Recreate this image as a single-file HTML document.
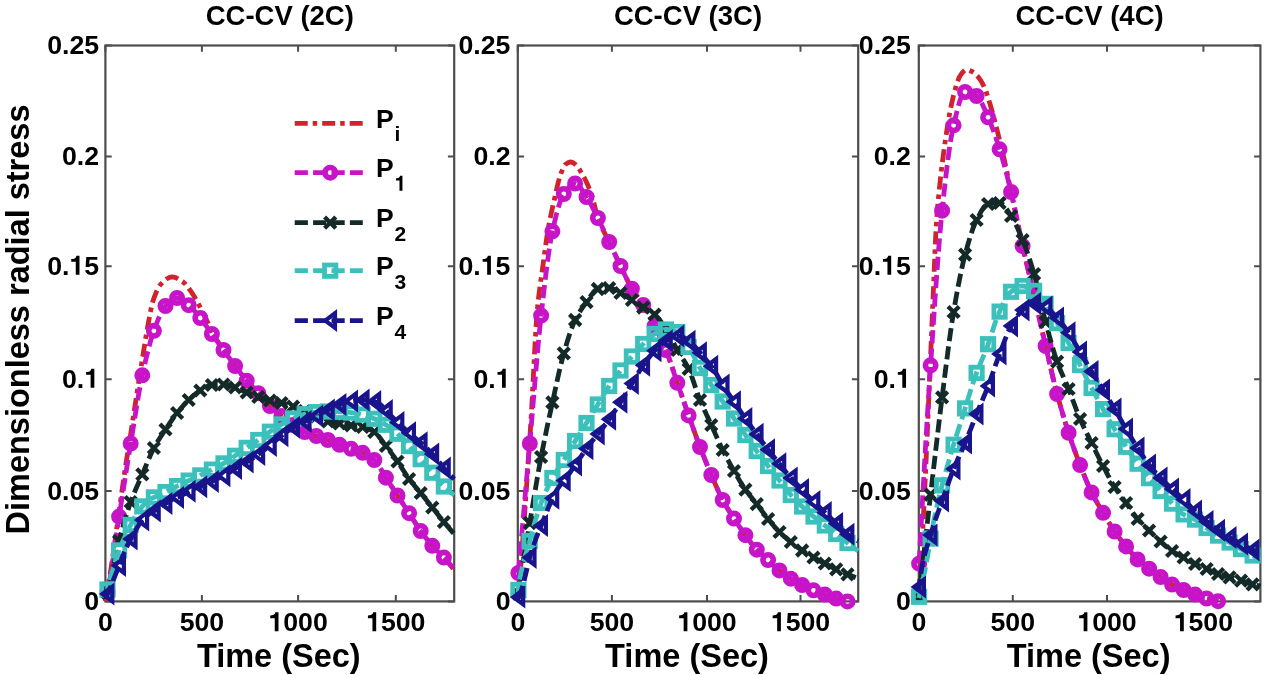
<!DOCTYPE html>
<html><head><meta charset="utf-8"><title>Dimensionless radial stress</title>
<style>
html,body{margin:0;padding:0;background:#fff;width:1280px;height:675px;overflow:hidden}
svg{display:block;filter:blur(0.7px)}
text{font-family:"Liberation Sans", sans-serif;font-weight:bold;fill:#000}
.tk{font-size:26.7px}
.tt{font-size:27.5px}
.xl{font-size:32.5px}
.yl{font-size:32.5px}
.lg{font-size:26.5px}
.sb{font-size:21px}
</style></head><body>
<svg width="1280" height="675" viewBox="0 0 1280 675">
<rect width="1280" height="675" fill="#fff"/>
<rect x="105.4" y="45.5" width="348.8" height="555.9" fill="none" stroke="#4d4d4d" stroke-width="2.2"/>
<path d="M105.4 601.4V595.1M105.4 45.5V51.8" stroke="#4d4d4d" stroke-width="2"/>
<text x="97.98" y="631.20" class="tk">0</text>
<path d="M201.9 601.4V595.1M201.9 45.5V51.8" stroke="#4d4d4d" stroke-width="2"/>
<text x="179.63" y="631.20" class="tk">500</text>
<path d="M298.1 601.4V595.1M298.1 45.5V51.8" stroke="#4d4d4d" stroke-width="2"/>
<text x="268.40" y="631.20" class="tk"> 000</text><polygon points="274.76,631.20 278.49,631.20 278.49,612.24 275.45,612.24 274.94,613.71 273.74,614.78 272.01,615.31 270.24,615.45 270.24,618.25 274.76,618.25" fill="#000"/>
<path d="M395.8 601.4V595.1M395.8 45.5V51.8" stroke="#4d4d4d" stroke-width="2"/>
<text x="366.10" y="631.20" class="tk"> 500</text><polygon points="372.46,631.20 376.19,631.20 376.19,612.24 373.15,612.24 372.64,613.71 371.44,614.78 369.71,615.31 367.94,615.45 367.94,618.25 372.46,618.25" fill="#000"/>
<path d="M105.4 601.4H111.7M454.2 601.4H447.9" stroke="#4d4d4d" stroke-width="2"/>
<text x="84.25" y="609.90" class="tk">0</text>
<path d="M105.4 491.0H111.7M454.2 491.0H447.9" stroke="#4d4d4d" stroke-width="2"/>
<text x="47.13" y="499.50" class="tk">0.05</text>
<path d="M105.4 379.3H111.7M454.2 379.3H447.9" stroke="#4d4d4d" stroke-width="2"/>
<text x="61.98" y="387.80" class="tk">0. </text><polygon points="90.61,387.80 94.34,387.80 94.34,368.84 91.30,368.84 90.79,370.31 89.59,371.38 87.86,371.91 86.09,372.05 86.09,374.85 90.61,374.85" fill="#000"/>
<path d="M105.4 266.3H111.7M454.2 266.3H447.9" stroke="#4d4d4d" stroke-width="2"/>
<text x="47.13" y="274.80" class="tk">0. 5</text><polygon points="75.76,274.80 79.49,274.80 79.49,255.84 76.45,255.84 75.94,257.31 74.74,258.38 73.01,258.91 71.24,259.05 71.24,261.85 75.76,261.85" fill="#000"/>
<path d="M105.4 156.5H111.7M454.2 156.5H447.9" stroke="#4d4d4d" stroke-width="2"/>
<text x="61.98" y="165.00" class="tk">0.2</text>
<path d="M105.4 45.5H111.7M454.2 45.5H447.9" stroke="#4d4d4d" stroke-width="2"/>
<text x="47.13" y="54.00" class="tk">0.25</text>
<text x="279.8" y="25.2" text-anchor="middle" class="tt">CC-CV (2C)</text>
<text x="278.8" y="667.3" text-anchor="middle" class="xl">Time (Sec)</text>
<rect x="517.8" y="45.5" width="340.4" height="555.9" fill="none" stroke="#4d4d4d" stroke-width="2.2"/>
<path d="M517.8 601.4V595.1M517.8 45.5V51.8" stroke="#4d4d4d" stroke-width="2"/>
<text x="510.38" y="631.20" class="tk">0</text>
<path d="M611.9 601.4V595.1M611.9 45.5V51.8" stroke="#4d4d4d" stroke-width="2"/>
<text x="589.63" y="631.20" class="tk">500</text>
<path d="M707.0 601.4V595.1M707.0 45.5V51.8" stroke="#4d4d4d" stroke-width="2"/>
<text x="677.30" y="631.20" class="tk"> 000</text><polygon points="683.66,631.20 687.39,631.20 687.39,612.24 684.35,612.24 683.84,613.71 682.64,614.78 680.91,615.31 679.14,615.45 679.14,618.25 683.66,618.25" fill="#000"/>
<path d="M800.5 601.4V595.1M800.5 45.5V51.8" stroke="#4d4d4d" stroke-width="2"/>
<text x="770.80" y="631.20" class="tk"> 500</text><polygon points="777.16,631.20 780.89,631.20 780.89,612.24 777.85,612.24 777.34,613.71 776.14,614.78 774.41,615.31 772.64,615.45 772.64,618.25 777.16,618.25" fill="#000"/>
<path d="M517.8 601.4H524.1M858.2 601.4H851.9" stroke="#4d4d4d" stroke-width="2"/>
<text x="495.65" y="609.90" class="tk">0</text>
<path d="M517.8 491.0H524.1M858.2 491.0H851.9" stroke="#4d4d4d" stroke-width="2"/>
<text x="458.53" y="499.50" class="tk">0.05</text>
<path d="M517.8 379.3H524.1M858.2 379.3H851.9" stroke="#4d4d4d" stroke-width="2"/>
<text x="473.38" y="387.80" class="tk">0. </text><polygon points="502.01,387.80 505.74,387.80 505.74,368.84 502.70,368.84 502.19,370.31 500.99,371.38 499.26,371.91 497.49,372.05 497.49,374.85 502.01,374.85" fill="#000"/>
<path d="M517.8 266.3H524.1M858.2 266.3H851.9" stroke="#4d4d4d" stroke-width="2"/>
<text x="458.53" y="274.80" class="tk">0. 5</text><polygon points="487.16,274.80 490.89,274.80 490.89,255.84 487.85,255.84 487.34,257.31 486.14,258.38 484.41,258.91 482.64,259.05 482.64,261.85 487.16,261.85" fill="#000"/>
<path d="M517.8 156.5H524.1M858.2 156.5H851.9" stroke="#4d4d4d" stroke-width="2"/>
<text x="473.38" y="165.00" class="tk">0.2</text>
<path d="M517.8 45.5H524.1M858.2 45.5H851.9" stroke="#4d4d4d" stroke-width="2"/>
<text x="458.53" y="54.00" class="tk">0.25</text>
<text x="688.0" y="25.2" text-anchor="middle" class="tt">CC-CV (3C)</text>
<text x="687.0" y="667.3" text-anchor="middle" class="xl">Time (Sec)</text>
<rect x="918.8" y="45.5" width="341.6" height="555.9" fill="none" stroke="#4d4d4d" stroke-width="2.2"/>
<path d="M918.8 601.4V595.1M918.8 45.5V51.8" stroke="#4d4d4d" stroke-width="2"/>
<text x="911.38" y="631.20" class="tk">0</text>
<path d="M1012.8 601.4V595.1M1012.8 45.5V51.8" stroke="#4d4d4d" stroke-width="2"/>
<text x="990.53" y="631.20" class="tk">500</text>
<path d="M1107.0 601.4V595.1M1107.0 45.5V51.8" stroke="#4d4d4d" stroke-width="2"/>
<text x="1077.30" y="631.20" class="tk"> 000</text><polygon points="1083.66,631.20 1087.39,631.20 1087.39,612.24 1084.35,612.24 1083.84,613.71 1082.64,614.78 1080.91,615.31 1079.14,615.45 1079.14,618.25 1083.66,618.25" fill="#000"/>
<path d="M1203.4 601.4V595.1M1203.4 45.5V51.8" stroke="#4d4d4d" stroke-width="2"/>
<text x="1173.70" y="631.20" class="tk"> 500</text><polygon points="1180.06,631.20 1183.79,631.20 1183.79,612.24 1180.75,612.24 1180.24,613.71 1179.04,614.78 1177.31,615.31 1175.54,615.45 1175.54,618.25 1180.06,618.25" fill="#000"/>
<path d="M918.8 601.4H925.1M1260.4 601.4H1254.1" stroke="#4d4d4d" stroke-width="2"/>
<text x="895.95" y="609.90" class="tk">0</text>
<path d="M918.8 491.0H925.1M1260.4 491.0H1254.1" stroke="#4d4d4d" stroke-width="2"/>
<text x="858.83" y="499.50" class="tk">0.05</text>
<path d="M918.8 379.3H925.1M1260.4 379.3H1254.1" stroke="#4d4d4d" stroke-width="2"/>
<text x="873.68" y="387.80" class="tk">0. </text><polygon points="902.31,387.80 906.04,387.80 906.04,368.84 903.00,368.84 902.49,370.31 901.29,371.38 899.56,371.91 897.79,372.05 897.79,374.85 902.31,374.85" fill="#000"/>
<path d="M918.8 266.3H925.1M1260.4 266.3H1254.1" stroke="#4d4d4d" stroke-width="2"/>
<text x="858.83" y="274.80" class="tk">0. 5</text><polygon points="887.46,274.80 891.19,274.80 891.19,255.84 888.15,255.84 887.64,257.31 886.44,258.38 884.71,258.91 882.94,259.05 882.94,261.85 887.46,261.85" fill="#000"/>
<path d="M918.8 156.5H925.1M1260.4 156.5H1254.1" stroke="#4d4d4d" stroke-width="2"/>
<text x="873.68" y="165.00" class="tk">0.2</text>
<path d="M918.8 45.5H925.1M1260.4 45.5H1254.1" stroke="#4d4d4d" stroke-width="2"/>
<text x="858.83" y="54.00" class="tk">0.25</text>
<text x="1089.6" y="25.2" text-anchor="middle" class="tt">CC-CV (4C)</text>
<text x="1088.6" y="667.3" text-anchor="middle" class="xl">Time (Sec)</text>
<path d="M105.4 601.4L105.9 598.7L106.4 596.0L106.9 593.2L107.4 590.4L107.9 587.6L108.4 584.7L108.9 581.7L109.4 578.7L109.9 575.6L110.4 572.5L110.9 569.3L111.4 566.0L111.9 562.6L112.4 559.2L112.9 555.7L113.4 552.2L113.9 548.7L114.4 545.1L114.9 541.5L115.4 537.9L115.9 534.2L116.4 530.6L116.9 527.0L117.4 523.4L117.9 519.8L118.4 516.2L118.9 512.7L119.4 509.2L119.9 505.7L120.4 502.1L120.9 498.6L121.4 495.0L121.9 491.4L122.4 487.9L122.9 484.4L123.4 480.9L123.9 477.4L124.4 474.0L124.9 470.7L125.4 467.4L125.9 464.1L126.4 460.9L126.9 457.7L127.4 454.6L127.9 451.4L128.4 448.3L128.9 445.2L129.4 442.1L129.9 439.0L130.4 435.8L130.9 432.6L131.4 429.4L131.9 426.2L132.4 422.9L132.9 419.7L133.4 416.4L133.9 413.2L134.4 409.9L134.9 406.6L135.4 403.4L135.9 400.1L136.4 396.9L136.9 393.6L137.4 390.4L137.9 387.2L138.4 384.0L138.9 380.8L139.4 377.6L139.9 374.4L140.4 371.3L140.9 368.1L141.4 365.0L141.9 361.8L142.4 358.7L142.9 355.6L143.4 352.5L143.9 349.4L144.4 346.3L144.9 343.2L145.4 340.1L145.9 337.0L146.4 334.1L146.9 331.1L147.4 328.3L147.9 325.5L148.4 322.8L148.9 320.1L149.4 317.4L149.9 314.7L150.4 312.1L150.9 309.6L151.4 307.2L151.9 305.0L152.4 303.0L152.9 301.3L153.4 299.8L153.9 298.3L154.4 296.9L154.9 295.6L155.4 294.3L155.9 293.0L156.4 291.8L156.9 290.7L157.4 289.6L157.9 288.6L158.4 287.7L158.9 286.8L159.4 286.0L159.9 285.3L160.4 284.7L160.9 284.1L161.4 283.6L161.9 283.1L162.4 282.6L162.9 282.1L163.4 281.7L163.9 281.2L164.4 280.8L164.9 280.3L165.4 279.9L165.9 279.6L166.4 279.2L166.9 278.8L167.4 278.5L167.9 278.2L168.4 278.0L168.9 277.7L169.4 277.5L169.9 277.3L170.4 277.2L170.9 277.1L171.4 277.0L171.9 277.0L172.4 277.0L172.9 277.0L173.4 277.1L173.9 277.2L174.4 277.3L174.9 277.5L175.4 277.6L175.9 277.8L176.4 278.0L176.9 278.3L177.4 278.5L177.9 278.8L178.4 279.1L178.9 279.3L179.4 279.6L179.9 280.0L180.4 280.3L180.9 280.6L181.4 280.9L181.9 281.3L182.4 281.6L182.9 281.9L183.4 282.3L183.9 282.7L184.4 283.1L184.9 283.6L185.4 284.1L185.9 284.7L186.4 285.3L186.9 285.9L187.4 286.5L187.9 287.2L188.4 287.8L188.9 288.5L189.4 289.2L189.9 290.0L190.4 290.7L190.9 291.4L191.4 292.1L191.9 292.9L192.4 293.6L192.9 294.3L193.4 295.1L193.9 295.9L194.4 296.8L194.9 297.6L195.4 298.5L195.9 299.3L196.4 300.2L196.9 301.1L197.4 302.1L197.9 303.0L198.4 303.9L198.9 304.8L199.4 305.7L199.9 306.7L200.4 307.7L200.9 308.6L201.4 309.6L201.9 310.6L202.4 311.6L202.9 312.6L203.4 313.7L203.9 314.7L204.4 315.7L204.9 316.7L205.4 317.8L205.9 318.8L206.4 319.8L206.9 320.8L207.4 321.8L207.9 322.8L208.4 323.9L208.9 324.9L209.4 325.9L209.9 327.0L210.4 328.0L210.9 329.1L211.4 330.1L211.9 331.1L212.4 332.1L212.9 333.1L213.4 334.1L213.9 335.0L214.4 335.9L214.9 336.8L215.4 337.7L215.9 338.5L216.4 339.4L216.9 340.2L217.4 341.0L217.9 341.7L218.4 342.5L218.9 343.3L219.4 344.0L219.9 344.8L220.4 345.5L220.9 346.2L221.4 347.0L221.9 347.7L222.4 348.4L222.9 349.1L223.4 349.9L223.9 350.6L224.4 351.3L224.9 352.0L225.4 352.7L225.9 353.4L226.4 354.2L226.9 354.9L227.4 355.6L227.9 356.3L228.4 357.0L228.9 357.6L229.4 358.3L229.9 359.0L230.4 359.7L230.9 360.4L231.4 361.1L231.9 361.7L232.4 362.4L232.9 363.1L233.4 363.7L233.9 364.4L234.4 365.1L234.9 365.7L235.4 366.4L235.9 367.1L236.4 367.7L236.9 368.4L237.4 369.0L237.9 369.7L238.4 370.3L238.9 371.0L239.4 371.6L239.9 372.3L240.4 372.9L240.9 373.6L241.4 374.2L241.9 374.8L242.4 375.5L242.9 376.1L243.4 376.7L243.9 377.3L244.4 378.0L244.9 378.6L245.4 379.2L245.9 379.8L246.4 380.3L246.9 380.9L247.4 381.5L247.9 382.1L248.4 382.6L248.9 383.2L249.4 383.7L249.9 384.3L250.4 384.8L250.9 385.4L251.4 385.9L251.9 386.4L252.4 387.0L252.9 387.5L253.4 388.0L253.9 388.5L254.4 389.1L254.9 389.6L255.4 390.1L255.9 390.6L256.4 391.2L256.9 391.7L257.4 392.2L257.9 392.8L258.4 393.3L258.9 393.9L259.4 394.4L259.9 395.0L260.4 395.5L260.9 396.1L261.4 396.7L261.9 397.3L262.4 397.8L262.9 398.4L263.4 399.0L263.9 399.5L264.4 400.1L264.9 400.7L265.4 401.2L265.9 401.8L266.4 402.4L266.9 402.9L267.4 403.4L267.9 404.0L268.4 404.5L268.9 405.0L269.4 405.5L269.9 406.0L270.4 406.5L270.9 407.0L271.4 407.4L271.9 407.9L272.4 408.3L272.9 408.8L273.4 409.2L273.9 409.7L274.4 410.1L274.9 410.5L275.4 411.0L275.9 411.4L276.4 411.8L276.9 412.2L277.4 412.6L277.9 413.1L278.4 413.5L278.9 413.9L279.4 414.3L279.9 414.7L280.4 415.1L280.9 415.5L281.4 415.9L281.9 416.3L282.4 416.7L282.9 417.1L283.4 417.6L283.9 418.0L284.4 418.4L284.9 418.8L285.4 419.2L285.9 419.6L286.4 420.0L286.9 420.4L287.4 420.8L287.9 421.2L288.4 421.6L288.9 421.9L289.4 422.3L289.9 422.7L290.4 423.1L290.9 423.4L291.4 423.8L291.9 424.2L292.4 424.5L292.9 424.9L293.4 425.2L293.9 425.5L294.4 425.9L294.9 426.2L295.4 426.6L295.9 426.9L296.4 427.2L296.9 427.6L297.4 427.9L297.9 428.2L298.4 428.5L298.9 428.8L299.4 429.2L299.9 429.5L300.4 429.8L300.9 430.1L301.4 430.3L301.9 430.6L302.4 430.9L302.9 431.1L303.4 431.4L303.9 431.6L304.4 431.9L304.9 432.1L305.4 432.3L305.9 432.5L306.4 432.7L306.9 432.9L307.4 433.1L307.9 433.3L308.4 433.4L308.9 433.6L309.4 433.8L309.9 433.9L310.4 434.1L310.9 434.3L311.4 434.4L311.9 434.6L312.4 434.7L312.9 434.9L313.4 435.1L313.9 435.2L314.4 435.4L314.9 435.5L315.4 435.7L315.9 435.9L316.4 436.0L316.9 436.2L317.4 436.4L317.9 436.5L318.4 436.7L318.9 436.9L319.4 437.0L319.9 437.2L320.4 437.4L320.9 437.6L321.4 437.7L321.9 437.9L322.4 438.1L322.9 438.2L323.4 438.4L323.9 438.6L324.4 438.7L324.9 438.9L325.4 439.1L325.9 439.3L326.4 439.4L326.9 439.6L327.4 439.8L327.9 440.0L328.4 440.2L328.9 440.4L329.4 440.6L329.9 440.8L330.4 441.0L330.9 441.2L331.4 441.4L331.9 441.6L332.4 441.8L332.9 442.1L333.4 442.3L333.9 442.5L334.4 442.7L334.9 442.9L335.4 443.1L335.9 443.3L336.4 443.6L336.9 443.8L337.4 444.0L337.9 444.2L338.4 444.4L338.9 444.6L339.4 444.8L339.9 444.9L340.4 445.1L340.9 445.3L341.4 445.5L341.9 445.7L342.4 445.9L342.9 446.0L343.4 446.2L343.9 446.4L344.4 446.5L344.9 446.7L345.4 446.9L345.9 447.0L346.4 447.2L346.9 447.4L347.4 447.5L347.9 447.7L348.4 447.9L348.9 448.1L349.4 448.2L349.9 448.4L350.4 448.6L350.9 448.7L351.4 448.9L351.9 449.1L352.4 449.2L352.9 449.4L353.4 449.6L353.9 449.7L354.4 449.9L354.9 450.0L355.4 450.2L355.9 450.3L356.4 450.5L356.9 450.7L357.4 450.8L357.9 451.0L358.4 451.1L358.9 451.3L359.4 451.5L359.9 451.7L360.4 451.9L360.9 452.1L361.4 452.3L361.9 452.5L362.4 452.7L362.9 452.9L363.4 453.1L363.9 453.3L364.4 453.6L364.9 453.8L365.4 454.1L365.9 454.3L366.4 454.6L366.9 454.8L367.4 455.1L367.9 455.4L368.4 455.7L368.9 456.0L369.4 456.3L369.9 456.6L370.4 457.0L370.9 457.3L371.4 457.7L371.9 458.0L372.4 458.4L372.9 458.8L373.4 459.2L373.9 459.7L374.4 460.1L374.9 460.6L375.4 461.1L375.9 461.7L376.4 462.3L376.9 463.0L377.4 463.7L377.9 464.4L378.4 465.1L378.9 465.9L379.4 466.7L379.9 467.6L380.4 468.4L380.9 469.3L381.4 470.1L381.9 471.0L382.4 471.9L382.9 472.7L383.4 473.6L383.9 474.5L384.4 475.3L384.9 476.1L385.4 476.9L385.9 477.7L386.4 478.5L386.9 479.2L387.4 480.0L387.9 480.8L388.4 481.5L388.9 482.3L389.4 483.1L389.9 483.8L390.4 484.6L390.9 485.4L391.4 486.1L391.9 486.9L392.4 487.7L392.9 488.4L393.4 489.2L393.9 490.0L394.4 490.7L394.9 491.5L395.4 492.3L395.9 493.0L396.4 493.8L396.9 494.6L397.4 495.3L397.9 496.1L398.4 496.9L398.9 497.6L399.4 498.4L399.9 499.2L400.4 499.9L400.9 500.7L401.4 501.5L401.9 502.2L402.4 503.0L402.9 503.7L403.4 504.5L403.9 505.3L404.4 506.0L404.9 506.8L405.4 507.6L405.9 508.3L406.4 509.1L406.9 509.8L407.4 510.6L407.9 511.4L408.4 512.1L408.9 512.9L409.4 513.7L409.9 514.4L410.4 515.2L410.9 516.0L411.4 516.8L411.9 517.6L412.4 518.4L412.9 519.1L413.4 519.9L413.9 520.7L414.4 521.5L414.9 522.3L415.4 523.1L415.9 523.9L416.4 524.6L416.9 525.4L417.4 526.2L417.9 526.9L418.4 527.7L418.9 528.4L419.4 529.1L419.9 529.9L420.4 530.6L420.9 531.3L421.4 532.0L421.9 532.7L422.4 533.3L422.9 534.0L423.4 534.7L423.9 535.4L424.4 536.0L424.9 536.7L425.4 537.4L425.9 538.0L426.4 538.7L426.9 539.3L427.4 539.9L427.9 540.6L428.4 541.2L428.9 541.8L429.4 542.4L429.9 543.0L430.4 543.6L430.9 544.2L431.4 544.8L431.9 545.3L432.4 545.9L432.9 546.5L433.4 547.0L433.9 547.5L434.4 548.1L434.9 548.6L435.4 549.1L435.9 549.6L436.4 550.1L436.9 550.6L437.4 551.1L437.9 551.5L438.4 552.0L438.9 552.5L439.4 553.0L439.9 553.5L440.4 554.0L440.9 554.5L441.4 555.0L441.9 555.5L442.4 556.0L442.9 556.5L443.4 557.1L443.9 557.6L444.4 558.2L444.9 558.7L445.4 559.3L445.9 559.9L446.4 560.4L446.9 561.0L447.4 561.6L447.9 562.2L448.4 562.8L448.9 563.4L449.4 564.0L449.9 564.6L450.4 565.2L450.9 565.8L451.4 566.4L451.9 567.1L452.4 567.7L452.9 568.3L453.4 569.0L453.9 569.6L454.2 570.0" fill="none" stroke="#d0232d" stroke-width="4.8" stroke-dasharray="13 5 4.5 5" stroke-linejoin="round"/>
<path d="M105.4 600.0L105.9 598.3L106.4 596.5L106.9 594.6L107.4 592.4L107.9 590.1L108.4 587.7L108.9 585.0L109.4 582.2L109.9 579.3L110.4 576.3L110.9 573.2L111.4 569.9L111.9 566.6L112.4 563.2L112.9 559.8L113.4 556.3L113.9 552.8L114.4 549.2L114.9 545.6L115.4 542.1L115.9 538.5L116.4 534.9L116.9 531.4L117.4 527.9L117.9 524.5L118.4 521.2L118.9 517.9L119.4 514.7L119.9 511.5L120.4 508.3L120.9 505.1L121.4 501.9L121.9 498.7L122.4 495.5L122.9 492.3L123.4 489.1L123.9 485.9L124.4 482.8L124.9 479.6L125.4 476.4L125.9 473.3L126.4 470.1L126.9 467.0L127.4 463.9L127.9 460.7L128.4 457.6L128.9 454.5L129.4 451.5L129.9 448.4L130.4 445.3L130.9 442.3L131.4 439.2L131.9 436.1L132.4 433.0L132.9 429.9L133.4 426.7L133.9 423.6L134.4 420.4L134.9 417.3L135.4 414.1L135.9 411.0L136.4 407.9L136.9 404.9L137.4 401.8L137.9 398.9L138.4 395.9L138.9 393.0L139.4 390.2L139.9 387.5L140.4 384.8L140.9 382.2L141.4 379.6L141.9 377.2L142.4 374.8L142.9 372.5L143.4 370.3L143.9 368.0L144.4 365.8L144.9 363.6L145.4 361.4L145.9 359.3L146.4 357.2L146.9 355.1L147.4 353.1L147.9 351.1L148.4 349.1L148.9 347.2L149.4 345.4L149.9 343.5L150.4 341.8L150.9 340.0L151.4 338.4L151.9 336.7L152.4 335.2L152.9 333.7L153.4 332.2L153.9 330.8L154.4 329.4L154.9 328.1L155.4 326.7L155.9 325.4L156.4 324.1L156.9 322.8L157.4 321.5L157.9 320.2L158.4 319.0L158.9 317.8L159.4 316.6L159.9 315.5L160.4 314.4L160.9 313.3L161.4 312.3L161.9 311.4L162.4 310.4L162.9 309.6L163.4 308.8L163.9 308.0L164.4 307.3L164.9 306.7L165.4 306.1L165.9 305.6L166.4 305.1L166.9 304.5L167.4 304.0L167.9 303.5L168.4 303.0L168.9 302.6L169.4 302.1L169.9 301.7L170.4 301.2L170.9 300.8L171.4 300.4L171.9 300.0L172.4 299.7L172.9 299.4L173.4 299.1L173.9 298.8L174.4 298.6L174.9 298.4L175.4 298.2L175.9 298.1L176.4 298.0L176.9 298.0L177.4 298.0L177.9 298.1L178.4 298.1L178.9 298.3L179.4 298.4L179.9 298.6L180.4 298.9L180.9 299.1L181.4 299.4L181.9 299.8L182.4 300.1L182.9 300.4L183.4 300.8L183.9 301.2L184.4 301.6L184.9 302.0L185.4 302.4L185.9 302.9L186.4 303.3L186.9 303.7L187.4 304.1L187.9 304.6L188.4 305.0L188.9 305.4L189.4 305.8L189.9 306.2L190.4 306.7L190.9 307.1L191.4 307.6L191.9 308.1L192.4 308.7L192.9 309.2L193.4 309.7L193.9 310.3L194.4 310.9L194.9 311.4L195.4 312.0L195.9 312.6L196.4 313.2L196.9 313.8L197.4 314.4L197.9 315.0L198.4 315.7L198.9 316.3L199.4 316.9L199.9 317.5L200.4 318.1L200.9 318.7L201.4 319.4L201.9 320.0L202.4 320.7L202.9 321.3L203.4 322.0L203.9 322.7L204.4 323.4L204.9 324.1L205.4 324.8L205.9 325.5L206.4 326.2L206.9 326.9L207.4 327.6L207.9 328.3L208.4 329.1L208.9 329.8L209.4 330.5L209.9 331.2L210.4 331.9L210.9 332.6L211.4 333.3L211.9 334.0L212.4 334.7L212.9 335.4L213.4 336.1L213.9 336.8L214.4 337.4L214.9 338.1L215.4 338.8L215.9 339.5L216.4 340.2L216.9 340.9L217.4 341.6L217.9 342.3L218.4 343.0L218.9 343.7L219.4 344.3L219.9 345.0L220.4 345.7L220.9 346.4L221.4 347.1L221.9 347.8L222.4 348.5L222.9 349.2L223.4 349.9L223.9 350.6L224.4 351.2L224.9 351.9L225.4 352.6L225.9 353.3L226.4 354.0L226.9 354.7L227.4 355.4L227.9 356.1L228.4 356.8L228.9 357.5L229.4 358.2L229.9 358.9L230.4 359.6L230.9 360.3L231.4 361.0L231.9 361.7L232.4 362.4L232.9 363.0L233.4 363.7L233.9 364.4L234.4 365.1L234.9 365.7L235.4 366.4L235.9 367.1L236.4 367.7L236.9 368.4L237.4 369.0L237.9 369.7L238.4 370.3L238.9 371.0L239.4 371.6L239.9 372.3L240.4 372.9L240.9 373.6L241.4 374.2L241.9 374.8L242.4 375.5L242.9 376.1L243.4 376.7L243.9 377.3L244.4 378.0L244.9 378.6L245.4 379.2L245.9 379.8L246.4 380.3L246.9 380.9L247.4 381.5L247.9 382.1L248.4 382.6L248.9 383.2L249.4 383.7L249.9 384.3L250.4 384.8L250.9 385.4L251.4 385.9L251.9 386.4L252.4 387.0L252.9 387.5L253.4 388.0L253.9 388.5L254.4 389.1L254.9 389.6L255.4 390.1L255.9 390.6L256.4 391.2L256.9 391.7L257.4 392.2L257.9 392.8L258.4 393.3L258.9 393.9L259.4 394.4L259.9 395.0L260.4 395.5L260.9 396.1L261.4 396.7L261.9 397.3L262.4 397.8L262.9 398.4L263.4 399.0L263.9 399.5L264.4 400.1L264.9 400.7L265.4 401.2L265.9 401.8L266.4 402.4L266.9 402.9L267.4 403.4L267.9 404.0L268.4 404.5L268.9 405.0L269.4 405.5L269.9 406.0L270.4 406.5L270.9 407.0L271.4 407.4L271.9 407.9L272.4 408.3L272.9 408.8L273.4 409.2L273.9 409.7L274.4 410.1L274.9 410.5L275.4 411.0L275.9 411.4L276.4 411.8L276.9 412.2L277.4 412.6L277.9 413.1L278.4 413.5L278.9 413.9L279.4 414.3L279.9 414.7L280.4 415.1L280.9 415.5L281.4 415.9L281.9 416.3L282.4 416.7L282.9 417.1L283.4 417.6L283.9 418.0L284.4 418.4L284.9 418.8L285.4 419.2L285.9 419.6L286.4 420.0L286.9 420.4L287.4 420.8L287.9 421.2L288.4 421.6L288.9 421.9L289.4 422.3L289.9 422.7L290.4 423.1L290.9 423.4L291.4 423.8L291.9 424.2L292.4 424.5L292.9 424.9L293.4 425.2L293.9 425.5L294.4 425.9L294.9 426.2L295.4 426.6L295.9 426.9L296.4 427.2L296.9 427.6L297.4 427.9L297.9 428.2L298.4 428.5L298.9 428.8L299.4 429.2L299.9 429.5L300.4 429.8L300.9 430.1L301.4 430.3L301.9 430.6L302.4 430.9L302.9 431.1L303.4 431.4L303.9 431.6L304.4 431.9L304.9 432.1L305.4 432.3L305.9 432.5L306.4 432.7L306.9 432.9L307.4 433.1L307.9 433.3L308.4 433.4L308.9 433.6L309.4 433.8L309.9 433.9L310.4 434.1L310.9 434.3L311.4 434.4L311.9 434.6L312.4 434.7L312.9 434.9L313.4 435.1L313.9 435.2L314.4 435.4L314.9 435.5L315.4 435.7L315.9 435.9L316.4 436.0L316.9 436.2L317.4 436.4L317.9 436.5L318.4 436.7L318.9 436.9L319.4 437.0L319.9 437.2L320.4 437.4L320.9 437.6L321.4 437.7L321.9 437.9L322.4 438.1L322.9 438.2L323.4 438.4L323.9 438.6L324.4 438.7L324.9 438.9L325.4 439.1L325.9 439.3L326.4 439.4L326.9 439.6L327.4 439.8L327.9 440.0L328.4 440.2L328.9 440.4L329.4 440.6L329.9 440.8L330.4 441.0L330.9 441.2L331.4 441.4L331.9 441.6L332.4 441.8L332.9 442.1L333.4 442.3L333.9 442.5L334.4 442.7L334.9 442.9L335.4 443.1L335.9 443.3L336.4 443.6L336.9 443.8L337.4 444.0L337.9 444.2L338.4 444.4L338.9 444.6L339.4 444.8L339.9 444.9L340.4 445.1L340.9 445.3L341.4 445.5L341.9 445.7L342.4 445.9L342.9 446.0L343.4 446.2L343.9 446.4L344.4 446.5L344.9 446.7L345.4 446.9L345.9 447.0L346.4 447.2L346.9 447.4L347.4 447.5L347.9 447.7L348.4 447.9L348.9 448.1L349.4 448.2L349.9 448.4L350.4 448.6L350.9 448.7L351.4 448.9L351.9 449.1L352.4 449.2L352.9 449.4L353.4 449.6L353.9 449.7L354.4 449.9L354.9 450.0L355.4 450.2L355.9 450.3L356.4 450.5L356.9 450.7L357.4 450.8L357.9 451.0L358.4 451.1L358.9 451.3L359.4 451.5L359.9 451.7L360.4 451.9L360.9 452.1L361.4 452.3L361.9 452.5L362.4 452.7L362.9 452.9L363.4 453.1L363.9 453.3L364.4 453.6L364.9 453.8L365.4 454.1L365.9 454.3L366.4 454.6L366.9 454.8L367.4 455.1L367.9 455.4L368.4 455.7L368.9 456.0L369.4 456.3L369.9 456.6L370.4 457.0L370.9 457.3L371.4 457.7L371.9 458.0L372.4 458.4L372.9 458.8L373.4 459.2L373.9 459.7L374.4 460.1L374.9 460.6L375.4 461.1L375.9 461.7L376.4 462.3L376.9 463.0L377.4 463.7L377.9 464.4L378.4 465.1L378.9 465.9L379.4 466.7L379.9 467.6L380.4 468.4L380.9 469.3L381.4 470.1L381.9 471.0L382.4 471.9L382.9 472.7L383.4 473.6L383.9 474.5L384.4 475.3L384.9 476.1L385.4 476.9L385.9 477.7L386.4 478.5L386.9 479.2L387.4 480.0L387.9 480.8L388.4 481.5L388.9 482.3L389.4 483.1L389.9 483.8L390.4 484.6L390.9 485.4L391.4 486.1L391.9 486.9L392.4 487.7L392.9 488.4L393.4 489.2L393.9 490.0L394.4 490.7L394.9 491.5L395.4 492.3L395.9 493.0L396.4 493.8L396.9 494.6L397.4 495.3L397.9 496.1L398.4 496.9L398.9 497.6L399.4 498.4L399.9 499.2L400.4 499.9L400.9 500.7L401.4 501.5L401.9 502.2L402.4 503.0L402.9 503.7L403.4 504.5L403.9 505.3L404.4 506.0L404.9 506.8L405.4 507.6L405.9 508.3L406.4 509.1L406.9 509.8L407.4 510.6L407.9 511.4L408.4 512.1L408.9 512.9L409.4 513.7L409.9 514.4L410.4 515.2L410.9 516.0L411.4 516.8L411.9 517.6L412.4 518.4L412.9 519.1L413.4 519.9L413.9 520.7L414.4 521.5L414.9 522.3L415.4 523.1L415.9 523.9L416.4 524.6L416.9 525.4L417.4 526.2L417.9 526.9L418.4 527.7L418.9 528.4L419.4 529.1L419.9 529.9L420.4 530.6L420.9 531.3L421.4 532.0L421.9 532.7L422.4 533.3L422.9 534.0L423.4 534.7L423.9 535.4L424.4 536.0L424.9 536.7L425.4 537.4L425.9 538.0L426.4 538.7L426.9 539.3L427.4 539.9L427.9 540.6L428.4 541.2L428.9 541.8L429.4 542.4L429.9 543.0L430.4 543.6L430.9 544.2L431.4 544.8L431.9 545.3L432.4 545.9L432.9 546.5L433.4 547.0L433.9 547.6L434.4 548.1L434.9 548.6L435.4 549.1L435.9 549.6L436.4 550.1L436.9 550.6L437.4 551.1L437.9 551.6L438.4 552.1L438.9 552.6L439.4 553.1L439.9 553.6L440.4 554.0L440.9 554.5L441.4 555.0L441.9 555.5L442.4 556.0L442.9 556.6L443.4 557.1L443.9 557.6L444.4 558.1L444.9 558.7L445.4 559.2L445.9 559.7L446.4 560.3L446.9 560.8L447.4 561.4L447.9 561.9L448.4 562.5L448.9 563.0L449.4 563.6L449.9 564.1L450.4 564.7L450.9 565.3L451.4 565.8L451.9 566.4L452.4 566.9L452.9 567.5L453.4 568.1L453.9 568.7L454.2 569.0" fill="none" stroke="#c814c8" stroke-width="4.8" stroke-dasharray="13.2 5.2" stroke-linejoin="round"/>
<circle cx="107.5" cy="592.0" r="5.2" fill="none" stroke="#c814c8" stroke-width="5.6"/>
<circle cx="119.1" cy="516.6" r="5.2" fill="none" stroke="#c814c8" stroke-width="5.6"/>
<circle cx="130.7" cy="443.5" r="5.2" fill="none" stroke="#c814c8" stroke-width="5.6"/>
<circle cx="142.3" cy="375.3" r="5.2" fill="none" stroke="#c814c8" stroke-width="5.6"/>
<circle cx="153.9" cy="330.8" r="5.2" fill="none" stroke="#c814c8" stroke-width="5.6"/>
<circle cx="165.5" cy="306.0" r="5.2" fill="none" stroke="#c814c8" stroke-width="5.6"/>
<circle cx="177.1" cy="298.0" r="5.2" fill="none" stroke="#c814c8" stroke-width="5.6"/>
<circle cx="188.7" cy="305.2" r="5.2" fill="none" stroke="#c814c8" stroke-width="5.6"/>
<circle cx="200.3" cy="318.0" r="5.2" fill="none" stroke="#c814c8" stroke-width="5.6"/>
<circle cx="211.9" cy="334.0" r="5.2" fill="none" stroke="#c814c8" stroke-width="5.6"/>
<circle cx="223.5" cy="350.0" r="5.2" fill="none" stroke="#c814c8" stroke-width="5.6"/>
<circle cx="235.1" cy="366.0" r="5.2" fill="none" stroke="#c814c8" stroke-width="5.6"/>
<circle cx="246.7" cy="380.7" r="5.2" fill="none" stroke="#c814c8" stroke-width="5.6"/>
<circle cx="258.3" cy="393.2" r="5.2" fill="none" stroke="#c814c8" stroke-width="5.6"/>
<circle cx="269.9" cy="406.0" r="5.2" fill="none" stroke="#c814c8" stroke-width="5.6"/>
<circle cx="281.5" cy="416.0" r="5.2" fill="none" stroke="#c814c8" stroke-width="5.6"/>
<circle cx="293.1" cy="425.0" r="5.2" fill="none" stroke="#c814c8" stroke-width="5.6"/>
<circle cx="304.7" cy="432.0" r="5.2" fill="none" stroke="#c814c8" stroke-width="5.6"/>
<circle cx="316.3" cy="436.0" r="5.2" fill="none" stroke="#c814c8" stroke-width="5.6"/>
<circle cx="327.9" cy="440.0" r="5.2" fill="none" stroke="#c814c8" stroke-width="5.6"/>
<circle cx="339.5" cy="444.8" r="5.2" fill="none" stroke="#c814c8" stroke-width="5.6"/>
<circle cx="351.1" cy="448.8" r="5.2" fill="none" stroke="#c814c8" stroke-width="5.6"/>
<circle cx="362.7" cy="452.8" r="5.2" fill="none" stroke="#c814c8" stroke-width="5.6"/>
<circle cx="374.3" cy="460.0" r="5.2" fill="none" stroke="#c814c8" stroke-width="5.6"/>
<circle cx="385.9" cy="477.7" r="5.2" fill="none" stroke="#c814c8" stroke-width="5.6"/>
<circle cx="397.5" cy="495.5" r="5.2" fill="none" stroke="#c814c8" stroke-width="5.6"/>
<circle cx="409.1" cy="513.2" r="5.2" fill="none" stroke="#c814c8" stroke-width="5.6"/>
<circle cx="420.7" cy="531.0" r="5.2" fill="none" stroke="#c814c8" stroke-width="5.6"/>
<circle cx="432.3" cy="545.8" r="5.2" fill="none" stroke="#c814c8" stroke-width="5.6"/>
<circle cx="443.9" cy="557.6" r="5.2" fill="none" stroke="#c814c8" stroke-width="5.6"/>
<path d="M105.4 599.0L105.9 597.7L106.4 596.3L106.9 594.9L107.4 593.3L107.9 591.6L108.4 589.8L108.9 587.9L109.4 585.9L109.9 583.7L110.4 581.5L110.9 579.3L111.4 577.0L111.9 574.6L112.4 572.2L112.9 569.7L113.4 567.3L113.9 564.8L114.4 562.3L114.9 559.9L115.4 557.4L115.9 555.0L116.4 552.6L116.9 550.3L117.4 548.1L117.9 545.9L118.4 543.8L118.9 541.8L119.4 539.9L119.9 537.9L120.4 536.1L120.9 534.2L121.4 532.3L121.9 530.5L122.4 528.7L122.9 526.9L123.4 525.1L123.9 523.4L124.4 521.7L124.9 520.0L125.4 518.3L125.9 516.6L126.4 515.0L126.9 513.4L127.4 511.8L127.9 510.2L128.4 508.7L128.9 507.2L129.4 505.7L129.9 504.3L130.4 502.8L130.9 501.4L131.4 500.1L131.9 498.7L132.4 497.4L132.9 496.2L133.4 494.9L133.9 493.7L134.4 492.5L134.9 491.3L135.4 490.1L135.9 488.9L136.4 487.8L136.9 486.6L137.4 485.5L137.9 484.4L138.4 483.2L138.9 482.1L139.4 481.0L139.9 479.9L140.4 478.7L140.9 477.6L141.4 476.5L141.9 475.3L142.4 474.2L142.9 473.0L143.4 471.8L143.9 470.6L144.4 469.4L144.9 468.2L145.4 467.0L145.9 465.8L146.4 464.6L146.9 463.4L147.4 462.2L147.9 461.0L148.4 459.8L148.9 458.7L149.4 457.5L149.9 456.4L150.4 455.2L150.9 454.1L151.4 453.1L151.9 452.0L152.4 450.9L152.9 449.9L153.4 449.0L153.9 448.0L154.4 447.1L154.9 446.2L155.4 445.3L155.9 444.4L156.4 443.5L156.9 442.7L157.4 441.9L157.9 441.1L158.4 440.3L158.9 439.5L159.4 438.7L159.9 437.9L160.4 437.1L160.9 436.4L161.4 435.6L161.9 434.9L162.4 434.1L162.9 433.4L163.4 432.6L163.9 431.9L164.4 431.1L164.9 430.4L165.4 429.7L165.9 428.9L166.4 428.1L166.9 427.4L167.4 426.6L167.9 425.9L168.4 425.2L168.9 424.4L169.4 423.7L169.9 422.9L170.4 422.2L170.9 421.5L171.4 420.7L171.9 420.0L172.4 419.3L172.9 418.6L173.4 417.9L173.9 417.2L174.4 416.5L174.9 415.9L175.4 415.2L175.9 414.5L176.4 413.9L176.9 413.3L177.4 412.6L177.9 412.0L178.4 411.4L178.9 410.8L179.4 410.2L179.9 409.6L180.4 409.0L180.9 408.4L181.4 407.8L181.9 407.2L182.4 406.6L182.9 406.1L183.4 405.5L183.9 404.9L184.4 404.4L184.9 403.8L185.4 403.3L185.9 402.8L186.4 402.3L186.9 401.8L187.4 401.3L187.9 400.8L188.4 400.3L188.9 399.8L189.4 399.3L189.9 398.9L190.4 398.4L190.9 397.9L191.4 397.5L191.9 397.0L192.4 396.6L192.9 396.1L193.4 395.7L193.9 395.3L194.4 394.8L194.9 394.4L195.4 394.0L195.9 393.6L196.4 393.2L196.9 392.8L197.4 392.4L197.9 392.1L198.4 391.7L198.9 391.4L199.4 391.1L199.9 390.7L200.4 390.4L200.9 390.1L201.4 389.8L201.9 389.5L202.4 389.2L202.9 388.9L203.4 388.6L203.9 388.3L204.4 388.0L204.9 387.7L205.4 387.4L205.9 387.1L206.4 386.8L206.9 386.6L207.4 386.3L207.9 386.1L208.4 385.9L208.9 385.7L209.4 385.5L209.9 385.4L210.4 385.2L210.9 385.1L211.4 385.1L211.9 385.0L212.4 385.0L212.9 384.9L213.4 384.9L213.9 384.9L214.4 384.8L214.9 384.8L215.4 384.8L215.9 384.7L216.4 384.7L216.9 384.7L217.4 384.6L217.9 384.6L218.4 384.6L218.9 384.6L219.4 384.6L219.9 384.6L220.4 384.5L220.9 384.5L221.4 384.5L221.9 384.5L222.4 384.5L222.9 384.5L223.4 384.5L223.9 384.5L224.4 384.5L224.9 384.6L225.4 384.6L225.9 384.7L226.4 384.8L226.9 384.9L227.4 385.0L227.9 385.1L228.4 385.3L228.9 385.4L229.4 385.6L229.9 385.7L230.4 385.9L230.9 386.1L231.4 386.2L231.9 386.4L232.4 386.6L232.9 386.8L233.4 386.9L233.9 387.1L234.4 387.3L234.9 387.4L235.4 387.6L235.9 387.8L236.4 388.0L236.9 388.1L237.4 388.3L237.9 388.5L238.4 388.8L238.9 389.0L239.4 389.2L239.9 389.4L240.4 389.6L240.9 389.9L241.4 390.1L241.9 390.3L242.4 390.6L242.9 390.8L243.4 391.0L243.9 391.3L244.4 391.5L244.9 391.7L245.4 391.9L245.9 392.2L246.4 392.4L246.9 392.6L247.4 392.8L247.9 393.0L248.4 393.2L248.9 393.4L249.4 393.6L249.9 393.8L250.4 394.0L250.9 394.2L251.4 394.4L251.9 394.6L252.4 394.8L252.9 395.0L253.4 395.2L253.9 395.4L254.4 395.6L254.9 395.8L255.4 396.0L255.9 396.2L256.4 396.3L256.9 396.5L257.4 396.7L257.9 396.9L258.4 397.0L258.9 397.2L259.4 397.4L259.9 397.5L260.4 397.7L260.9 397.9L261.4 398.0L261.9 398.2L262.4 398.3L262.9 398.5L263.4 398.7L263.9 398.8L264.4 399.0L264.9 399.1L265.4 399.3L265.9 399.4L266.4 399.6L266.9 399.7L267.4 399.8L267.9 400.0L268.4 400.1L268.9 400.2L269.4 400.4L269.9 400.5L270.4 400.6L270.9 400.7L271.4 400.9L271.9 401.0L272.4 401.1L272.9 401.2L273.4 401.3L273.9 401.4L274.4 401.5L274.9 401.6L275.4 401.7L275.9 401.8L276.4 401.9L276.9 402.0L277.4 402.1L277.9 402.2L278.4 402.3L278.9 402.4L279.4 402.5L279.9 402.6L280.4 402.7L280.9 402.9L281.4 403.0L281.9 403.1L282.4 403.2L282.9 403.4L283.4 403.5L283.9 403.6L284.4 403.8L284.9 403.9L285.4 404.1L285.9 404.2L286.4 404.4L286.9 404.5L287.4 404.7L287.9 404.8L288.4 405.0L288.9 405.1L289.4 405.3L289.9 405.4L290.4 405.6L290.9 405.8L291.4 405.9L291.9 406.1L292.4 406.3L292.9 406.4L293.4 406.6L293.9 406.8L294.4 406.9L294.9 407.1L295.4 407.3L295.9 407.5L296.4 407.7L296.9 407.9L297.4 408.0L297.9 408.2L298.4 408.4L298.9 408.6L299.4 408.8L299.9 409.0L300.4 409.2L300.9 409.4L301.4 409.6L301.9 409.8L302.4 410.0L302.9 410.2L303.4 410.4L303.9 410.7L304.4 410.9L304.9 411.1L305.4 411.3L305.9 411.5L306.4 411.8L306.9 412.0L307.4 412.2L307.9 412.5L308.4 412.7L308.9 412.9L309.4 413.2L309.9 413.4L310.4 413.7L310.9 413.9L311.4 414.2L311.9 414.4L312.4 414.6L312.9 414.9L313.4 415.1L313.9 415.4L314.4 415.6L314.9 415.9L315.4 416.1L315.9 416.3L316.4 416.5L316.9 416.8L317.4 417.0L317.9 417.2L318.4 417.5L318.9 417.7L319.4 418.0L319.9 418.2L320.4 418.5L320.9 418.7L321.4 419.0L321.9 419.2L322.4 419.4L322.9 419.7L323.4 419.9L323.9 420.1L324.4 420.3L324.9 420.5L325.4 420.7L325.9 420.9L326.4 421.1L326.9 421.2L327.4 421.4L327.9 421.5L328.4 421.6L328.9 421.7L329.4 421.8L329.9 421.9L330.4 422.0L330.9 422.1L331.4 422.2L331.9 422.3L332.4 422.4L332.9 422.5L333.4 422.6L333.9 422.6L334.4 422.7L334.9 422.8L335.4 422.9L335.9 422.9L336.4 423.0L336.9 423.1L337.4 423.2L337.9 423.2L338.4 423.3L338.9 423.4L339.4 423.5L339.9 423.6L340.4 423.7L340.9 423.7L341.4 423.8L341.9 423.9L342.4 424.0L342.9 424.1L343.4 424.2L343.9 424.3L344.4 424.4L344.9 424.5L345.4 424.6L345.9 424.6L346.4 424.7L346.9 424.8L347.4 424.9L347.9 425.0L348.4 425.1L348.9 425.2L349.4 425.2L349.9 425.3L350.4 425.4L350.9 425.5L351.4 425.5L351.9 425.6L352.4 425.7L352.9 425.7L353.4 425.8L353.9 425.9L354.4 425.9L354.9 426.0L355.4 426.0L355.9 426.1L356.4 426.1L356.9 426.2L357.4 426.2L357.9 426.3L358.4 426.3L358.9 426.4L359.4 426.5L359.9 426.5L360.4 426.6L360.9 426.7L361.4 426.8L361.9 426.8L362.4 426.9L362.9 427.0L363.4 427.2L363.9 427.3L364.4 427.4L364.9 427.5L365.4 427.7L365.9 427.9L366.4 428.0L366.9 428.2L367.4 428.4L367.9 428.6L368.4 428.8L368.9 429.0L369.4 429.3L369.9 429.5L370.4 429.8L370.9 430.0L371.4 430.3L371.9 430.6L372.4 430.8L372.9 431.1L373.4 431.4L373.9 431.7L374.4 432.1L374.9 432.4L375.4 432.8L375.9 433.2L376.4 433.7L376.9 434.2L377.4 434.8L377.9 435.3L378.4 435.9L378.9 436.5L379.4 437.2L379.9 437.8L380.4 438.5L380.9 439.2L381.4 439.9L381.9 440.6L382.4 441.2L382.9 441.9L383.4 442.6L383.9 443.3L384.4 444.0L384.9 444.7L385.4 445.4L385.9 446.0L386.4 446.6L386.9 447.3L387.4 447.9L387.9 448.6L388.4 449.2L388.9 449.9L389.4 450.5L389.9 451.2L390.4 451.8L390.9 452.5L391.4 453.1L391.9 453.8L392.4 454.5L392.9 455.1L393.4 455.8L393.9 456.5L394.4 457.2L394.9 457.9L395.4 458.6L395.9 459.3L396.4 460.0L396.9 460.7L397.4 461.4L397.9 462.1L398.4 462.8L398.9 463.5L399.4 464.3L399.9 465.0L400.4 465.8L400.9 466.6L401.4 467.4L401.9 468.2L402.4 468.9L402.9 469.7L403.4 470.5L403.9 471.3L404.4 472.1L404.9 472.9L405.4 473.6L405.9 474.4L406.4 475.1L406.9 475.9L407.4 476.6L407.9 477.3L408.4 478.0L408.9 478.7L409.4 479.4L409.9 480.1L410.4 480.7L410.9 481.3L411.4 482.0L411.9 482.6L412.4 483.2L412.9 483.8L413.4 484.4L413.9 485.0L414.4 485.6L414.9 486.2L415.4 486.7L415.9 487.3L416.4 487.9L416.9 488.5L417.4 489.1L417.9 489.7L418.4 490.2L418.9 490.8L419.4 491.4L419.9 492.0L420.4 492.6L420.9 493.2L421.4 493.9L421.9 494.5L422.4 495.1L422.9 495.7L423.4 496.3L423.9 497.0L424.4 497.6L424.9 498.2L425.4 498.8L425.9 499.5L426.4 500.1L426.9 500.7L427.4 501.3L427.9 502.0L428.4 502.6L428.9 503.2L429.4 503.9L429.9 504.5L430.4 505.1L430.9 505.7L431.4 506.4L431.9 507.0L432.4 507.6L432.9 508.3L433.4 508.9L433.9 509.5L434.4 510.1L434.9 510.8L435.4 511.4L435.9 512.0L436.4 512.7L436.9 513.3L437.4 513.9L437.9 514.6L438.4 515.2L438.9 515.8L439.4 516.5L439.9 517.1L440.4 517.7L440.9 518.3L441.4 518.9L441.9 519.6L442.4 520.2L442.9 520.8L443.4 521.4L443.9 522.0L444.4 522.6L444.9 523.2L445.4 523.8L445.9 524.4L446.4 525.0L446.9 525.6L447.4 526.2L447.9 526.8L448.4 527.3L448.9 527.9L449.4 528.5L449.9 529.1L450.4 529.7L450.9 530.2L451.4 530.8L451.9 531.4L452.4 532.0L452.9 532.5L453.4 533.1L453.9 533.7L454.2 534.0" fill="none" stroke="#142a28" stroke-width="4.8" stroke-dasharray="13.2 5.2" stroke-linejoin="round"/>
<path d="M101.9 587.4L113.1 598.6M101.9 598.6L113.1 587.4" stroke="#142a28" stroke-width="4.3" stroke-linecap="butt" fill="none"/>
<path d="M113.5 535.4L124.7 546.6M113.5 546.6L124.7 535.4" stroke="#142a28" stroke-width="4.3" stroke-linecap="butt" fill="none"/>
<path d="M125.1 496.4L136.3 507.6M125.1 507.6L136.3 496.4" stroke="#142a28" stroke-width="4.3" stroke-linecap="butt" fill="none"/>
<path d="M136.7 468.8L147.9 480.0M136.7 480.0L147.9 468.8" stroke="#142a28" stroke-width="4.3" stroke-linecap="butt" fill="none"/>
<path d="M148.3 442.4L159.5 453.6M148.3 453.6L159.5 442.4" stroke="#142a28" stroke-width="4.3" stroke-linecap="butt" fill="none"/>
<path d="M159.9 423.9L171.1 435.1M159.9 435.1L171.1 423.9" stroke="#142a28" stroke-width="4.3" stroke-linecap="butt" fill="none"/>
<path d="M171.5 407.4L182.7 418.6M171.5 418.6L182.7 407.4" stroke="#142a28" stroke-width="4.3" stroke-linecap="butt" fill="none"/>
<path d="M183.1 394.4L194.3 405.6M183.1 405.6L194.3 394.4" stroke="#142a28" stroke-width="4.3" stroke-linecap="butt" fill="none"/>
<path d="M194.7 384.9L205.9 396.1M194.7 396.1L205.9 384.9" stroke="#142a28" stroke-width="4.3" stroke-linecap="butt" fill="none"/>
<path d="M206.3 379.4L217.5 390.6M206.3 390.6L217.5 379.4" stroke="#142a28" stroke-width="4.3" stroke-linecap="butt" fill="none"/>
<path d="M217.9 378.9L229.1 390.1M217.9 390.1L229.1 378.9" stroke="#142a28" stroke-width="4.3" stroke-linecap="butt" fill="none"/>
<path d="M229.5 381.9L240.7 393.1M229.5 393.1L240.7 381.9" stroke="#142a28" stroke-width="4.3" stroke-linecap="butt" fill="none"/>
<path d="M241.1 386.9L252.3 398.1M241.1 398.1L252.3 386.9" stroke="#142a28" stroke-width="4.3" stroke-linecap="butt" fill="none"/>
<path d="M252.7 391.4L263.9 402.6M252.7 402.6L263.9 391.4" stroke="#142a28" stroke-width="4.3" stroke-linecap="butt" fill="none"/>
<path d="M264.3 394.9L275.5 406.1M264.3 406.1L275.5 394.9" stroke="#142a28" stroke-width="4.3" stroke-linecap="butt" fill="none"/>
<path d="M275.9 397.4L287.1 408.6M275.9 408.6L287.1 397.4" stroke="#142a28" stroke-width="4.3" stroke-linecap="butt" fill="none"/>
<path d="M287.5 400.9L298.7 412.1M287.5 412.1L298.7 400.9" stroke="#142a28" stroke-width="4.3" stroke-linecap="butt" fill="none"/>
<path d="M299.1 405.4L310.3 416.6M299.1 416.6L310.3 405.4" stroke="#142a28" stroke-width="4.3" stroke-linecap="butt" fill="none"/>
<path d="M310.7 410.9L321.9 422.1M310.7 422.1L321.9 410.9" stroke="#142a28" stroke-width="4.3" stroke-linecap="butt" fill="none"/>
<path d="M322.3 415.9L333.5 427.1M322.3 427.1L333.5 415.9" stroke="#142a28" stroke-width="4.3" stroke-linecap="butt" fill="none"/>
<path d="M333.9 417.9L345.1 429.1M333.9 429.1L345.1 417.9" stroke="#142a28" stroke-width="4.3" stroke-linecap="butt" fill="none"/>
<path d="M345.5 419.9L356.7 431.1M345.5 431.1L356.7 419.9" stroke="#142a28" stroke-width="4.3" stroke-linecap="butt" fill="none"/>
<path d="M357.1 421.4L368.3 432.6M357.1 432.6L368.3 421.4" stroke="#142a28" stroke-width="4.3" stroke-linecap="butt" fill="none"/>
<path d="M368.7 426.4L379.9 437.6M368.7 437.6L379.9 426.4" stroke="#142a28" stroke-width="4.3" stroke-linecap="butt" fill="none"/>
<path d="M380.3 440.4L391.5 451.6M380.3 451.6L391.5 440.4" stroke="#142a28" stroke-width="4.3" stroke-linecap="butt" fill="none"/>
<path d="M391.9 455.9L403.1 467.1M391.9 467.1L403.1 455.9" stroke="#142a28" stroke-width="4.3" stroke-linecap="butt" fill="none"/>
<path d="M403.5 473.4L414.7 484.6M403.5 484.6L414.7 473.4" stroke="#142a28" stroke-width="4.3" stroke-linecap="butt" fill="none"/>
<path d="M415.1 487.4L426.3 498.6M415.1 498.6L426.3 487.4" stroke="#142a28" stroke-width="4.3" stroke-linecap="butt" fill="none"/>
<path d="M426.7 501.9L437.9 513.1M426.7 513.1L437.9 501.9" stroke="#142a28" stroke-width="4.3" stroke-linecap="butt" fill="none"/>
<path d="M438.3 516.4L449.5 527.6M438.3 527.6L449.5 516.4" stroke="#142a28" stroke-width="4.3" stroke-linecap="butt" fill="none"/>
<path d="M105.4 598.0L105.9 596.0L106.4 593.9L106.9 591.9L107.4 589.9L107.9 588.0L108.4 586.0L108.9 584.1L109.4 582.2L109.9 580.4L110.4 578.5L110.9 576.7L111.4 574.8L111.9 573.0L112.4 571.2L112.9 569.4L113.4 567.6L113.9 565.8L114.4 564.1L114.9 562.5L115.4 560.8L115.9 559.2L116.4 557.7L116.9 556.3L117.4 554.9L117.9 553.5L118.4 552.2L118.9 550.9L119.4 549.6L119.9 548.3L120.4 547.1L120.9 545.9L121.4 544.7L121.9 543.5L122.4 542.3L122.9 541.2L123.4 540.1L123.9 539.0L124.4 537.9L124.9 536.8L125.4 535.7L125.9 534.7L126.4 533.6L126.9 532.6L127.4 531.6L127.9 530.5L128.4 529.5L128.9 528.5L129.4 527.5L129.9 526.5L130.4 525.5L130.9 524.5L131.4 523.5L131.9 522.5L132.4 521.5L132.9 520.6L133.4 519.6L133.9 518.7L134.4 517.8L134.9 516.9L135.4 516.0L135.9 515.2L136.4 514.4L136.9 513.6L137.4 512.9L137.9 512.1L138.4 511.4L138.9 510.8L139.4 510.1L139.9 509.4L140.4 508.8L140.9 508.1L141.4 507.5L141.9 506.9L142.4 506.3L142.9 505.7L143.4 505.1L143.9 504.5L144.4 504.0L144.9 503.4L145.4 502.9L145.9 502.4L146.4 502.0L146.9 501.5L147.4 501.1L147.9 500.7L148.4 500.3L148.9 500.0L149.4 499.7L149.9 499.4L150.4 499.1L150.9 498.8L151.4 498.5L151.9 498.3L152.4 498.0L152.9 497.8L153.4 497.6L153.9 497.4L154.4 497.1L154.9 496.9L155.4 496.7L155.9 496.5L156.4 496.3L156.9 496.1L157.4 495.9L157.9 495.7L158.4 495.5L158.9 495.3L159.4 495.1L159.9 494.9L160.4 494.7L160.9 494.5L161.4 494.2L161.9 494.0L162.4 493.8L162.9 493.5L163.4 493.2L163.9 493.0L164.4 492.7L164.9 492.5L165.4 492.2L165.9 491.9L166.4 491.7L166.9 491.4L167.4 491.1L167.9 490.9L168.4 490.6L168.9 490.3L169.4 490.1L169.9 489.8L170.4 489.5L170.9 489.2L171.4 489.0L171.9 488.7L172.4 488.5L172.9 488.2L173.4 487.9L173.9 487.7L174.4 487.4L174.9 487.2L175.4 486.9L175.9 486.7L176.4 486.4L176.9 486.2L177.4 485.9L177.9 485.7L178.4 485.4L178.9 485.2L179.4 484.9L179.9 484.7L180.4 484.4L180.9 484.2L181.4 484.0L181.9 483.7L182.4 483.5L182.9 483.2L183.4 483.0L183.9 482.8L184.4 482.5L184.9 482.3L185.4 482.1L185.9 481.9L186.4 481.6L186.9 481.4L187.4 481.2L187.9 481.0L188.4 480.8L188.9 480.6L189.4 480.4L189.9 480.1L190.4 479.9L190.9 479.7L191.4 479.5L191.9 479.3L192.4 479.1L192.9 478.9L193.4 478.7L193.9 478.4L194.4 478.2L194.9 478.0L195.4 477.8L195.9 477.5L196.4 477.3L196.9 477.1L197.4 476.8L197.9 476.6L198.4 476.3L198.9 476.1L199.4 475.9L199.9 475.6L200.4 475.3L200.9 475.1L201.4 474.8L201.9 474.6L202.4 474.3L202.9 474.1L203.4 473.8L203.9 473.6L204.4 473.3L204.9 473.1L205.4 472.8L205.9 472.6L206.4 472.3L206.9 472.1L207.4 471.8L207.9 471.6L208.4 471.3L208.9 471.1L209.4 470.8L209.9 470.6L210.4 470.3L210.9 470.1L211.4 469.9L211.9 469.6L212.4 469.4L212.9 469.1L213.4 468.9L213.9 468.6L214.4 468.4L214.9 468.1L215.4 467.9L215.9 467.6L216.4 467.4L216.9 467.1L217.4 466.8L217.9 466.6L218.4 466.3L218.9 466.0L219.4 465.7L219.9 465.5L220.4 465.2L220.9 464.9L221.4 464.6L221.9 464.3L222.4 464.0L222.9 463.7L223.4 463.4L223.9 463.2L224.4 462.9L224.9 462.6L225.4 462.3L225.9 462.0L226.4 461.6L226.9 461.3L227.4 461.0L227.9 460.7L228.4 460.4L228.9 460.1L229.4 459.8L229.9 459.4L230.4 459.1L230.9 458.8L231.4 458.4L231.9 458.1L232.4 457.7L232.9 457.4L233.4 457.0L233.9 456.7L234.4 456.3L234.9 455.9L235.4 455.6L235.9 455.2L236.4 454.8L236.9 454.5L237.4 454.1L237.9 453.8L238.4 453.4L238.9 453.0L239.4 452.7L239.9 452.3L240.4 452.0L240.9 451.7L241.4 451.3L241.9 451.0L242.4 450.7L242.9 450.3L243.4 450.0L243.9 449.7L244.4 449.4L244.9 449.0L245.4 448.7L245.9 448.4L246.4 448.1L246.9 447.8L247.4 447.4L247.9 447.1L248.4 446.8L248.9 446.5L249.4 446.1L249.9 445.8L250.4 445.5L250.9 445.1L251.4 444.8L251.9 444.5L252.4 444.1L252.9 443.8L253.4 443.4L253.9 443.1L254.4 442.7L254.9 442.4L255.4 442.0L255.9 441.7L256.4 441.3L256.9 441.0L257.4 440.6L257.9 440.3L258.4 439.9L258.9 439.6L259.4 439.2L259.9 438.8L260.4 438.5L260.9 438.1L261.4 437.8L261.9 437.4L262.4 437.1L262.9 436.7L263.4 436.4L263.9 436.0L264.4 435.6L264.9 435.3L265.4 434.9L265.9 434.5L266.4 434.2L266.9 433.8L267.4 433.5L267.9 433.1L268.4 432.7L268.9 432.4L269.4 432.0L269.9 431.7L270.4 431.3L270.9 431.0L271.4 430.7L271.9 430.3L272.4 430.0L272.9 429.7L273.4 429.4L273.9 429.0L274.4 428.7L274.9 428.4L275.4 428.1L275.9 427.8L276.4 427.5L276.9 427.1L277.4 426.8L277.9 426.5L278.4 426.2L278.9 425.9L279.4 425.6L279.9 425.3L280.4 425.0L280.9 424.8L281.4 424.5L281.9 424.2L282.4 423.9L282.9 423.6L283.4 423.4L283.9 423.1L284.4 422.8L284.9 422.6L285.4 422.3L285.9 422.0L286.4 421.8L286.9 421.5L287.4 421.3L287.9 421.0L288.4 420.8L288.9 420.5L289.4 420.3L289.9 420.0L290.4 419.8L290.9 419.5L291.4 419.3L291.9 419.0L292.4 418.8L292.9 418.6L293.4 418.4L293.9 418.1L294.4 417.9L294.9 417.7L295.4 417.5L295.9 417.3L296.4 417.1L296.9 416.9L297.4 416.7L297.9 416.5L298.4 416.4L298.9 416.2L299.4 416.0L299.9 415.8L300.4 415.6L300.9 415.5L301.4 415.3L301.9 415.1L302.4 414.9L302.9 414.8L303.4 414.6L303.9 414.4L304.4 414.3L304.9 414.1L305.4 413.9L305.9 413.8L306.4 413.6L306.9 413.5L307.4 413.4L307.9 413.2L308.4 413.1L308.9 413.0L309.4 412.9L309.9 412.8L310.4 412.7L310.9 412.6L311.4 412.6L311.9 412.5L312.4 412.5L312.9 412.4L313.4 412.4L313.9 412.3L314.4 412.3L314.9 412.2L315.4 412.2L315.9 412.1L316.4 412.1L316.9 412.0L317.4 412.0L317.9 411.9L318.4 411.9L318.9 411.9L319.4 411.8L319.9 411.8L320.4 411.8L320.9 411.7L321.4 411.7L321.9 411.7L322.4 411.6L322.9 411.6L323.4 411.6L323.9 411.6L324.4 411.6L324.9 411.5L325.4 411.5L325.9 411.5L326.4 411.5L326.9 411.5L327.4 411.5L327.9 411.5L328.4 411.5L328.9 411.5L329.4 411.5L329.9 411.5L330.4 411.5L330.9 411.5L331.4 411.5L331.9 411.5L332.4 411.5L332.9 411.6L333.4 411.6L333.9 411.6L334.4 411.6L334.9 411.6L335.4 411.6L335.9 411.6L336.4 411.7L336.9 411.7L337.4 411.7L337.9 411.7L338.4 411.7L338.9 411.8L339.4 411.8L339.9 411.8L340.4 411.8L340.9 411.9L341.4 411.9L341.9 411.9L342.4 411.9L342.9 411.9L343.4 412.0L343.9 412.0L344.4 412.0L344.9 412.0L345.4 412.1L345.9 412.1L346.4 412.2L346.9 412.2L347.4 412.2L347.9 412.3L348.4 412.3L348.9 412.4L349.4 412.4L349.9 412.5L350.4 412.5L350.9 412.6L351.4 412.7L351.9 412.7L352.4 412.8L352.9 412.9L353.4 412.9L353.9 413.0L354.4 413.1L354.9 413.1L355.4 413.2L355.9 413.3L356.4 413.4L356.9 413.5L357.4 413.5L357.9 413.6L358.4 413.7L358.9 413.8L359.4 413.9L359.9 414.0L360.4 414.1L360.9 414.2L361.4 414.3L361.9 414.4L362.4 414.5L362.9 414.6L363.4 414.8L363.9 414.9L364.4 415.1L364.9 415.2L365.4 415.4L365.9 415.5L366.4 415.7L366.9 415.9L367.4 416.0L367.9 416.2L368.4 416.4L368.9 416.6L369.4 416.8L369.9 417.0L370.4 417.1L370.9 417.3L371.4 417.5L371.9 417.8L372.4 418.0L372.9 418.2L373.4 418.4L373.9 418.6L374.4 418.8L374.9 419.0L375.4 419.2L375.9 419.5L376.4 419.7L376.9 419.9L377.4 420.1L377.9 420.4L378.4 420.6L378.9 420.9L379.4 421.1L379.9 421.4L380.4 421.6L380.9 421.9L381.4 422.2L381.9 422.4L382.4 422.7L382.9 423.0L383.4 423.3L383.9 423.6L384.4 423.9L384.9 424.2L385.4 424.5L385.9 424.8L386.4 425.1L386.9 425.5L387.4 425.8L387.9 426.1L388.4 426.5L388.9 426.8L389.4 427.1L389.9 427.5L390.4 427.8L390.9 428.2L391.4 428.6L391.9 428.9L392.4 429.3L392.9 429.7L393.4 430.1L393.9 430.5L394.4 430.9L394.9 431.3L395.4 431.7L395.9 432.2L396.4 432.6L396.9 433.1L397.4 433.6L397.9 434.1L398.4 434.6L398.9 435.1L399.4 435.6L399.9 436.1L400.4 436.7L400.9 437.2L401.4 437.8L401.9 438.3L402.4 438.8L402.9 439.4L403.4 439.9L403.9 440.5L404.4 441.0L404.9 441.6L405.4 442.1L405.9 442.6L406.4 443.2L406.9 443.7L407.4 444.2L407.9 444.8L408.4 445.3L408.9 445.9L409.4 446.5L409.9 447.0L410.4 447.6L410.9 448.1L411.4 448.7L411.9 449.3L412.4 449.8L412.9 450.4L413.4 451.0L413.9 451.5L414.4 452.1L414.9 452.7L415.4 453.2L415.9 453.8L416.4 454.4L416.9 454.9L417.4 455.5L417.9 456.1L418.4 456.6L418.9 457.2L419.4 457.7L419.9 458.3L420.4 458.8L420.9 459.4L421.4 459.9L421.9 460.5L422.4 461.1L422.9 461.6L423.4 462.2L423.9 462.7L424.4 463.3L424.9 463.8L425.4 464.4L425.9 465.0L426.4 465.5L426.9 466.1L427.4 466.7L427.9 467.3L428.4 467.9L428.9 468.4L429.4 469.0L429.9 469.6L430.4 470.3L430.9 470.9L431.4 471.5L431.9 472.2L432.4 472.8L432.9 473.5L433.4 474.2L433.9 474.8L434.4 475.5L434.9 476.2L435.4 476.8L435.9 477.5L436.4 478.1L436.9 478.8L437.4 479.4L437.9 480.1L438.4 480.7L438.9 481.3L439.4 481.9L439.9 482.4L440.4 483.0L440.9 483.5L441.4 484.0L441.9 484.5L442.4 485.0L442.9 485.5L443.4 486.0L443.9 486.5L444.4 487.0L444.9 487.5L445.4 487.9L445.9 488.4L446.4 488.8L446.9 489.3L447.4 489.7L447.9 490.2L448.4 490.6L448.9 491.0L449.4 491.4L449.9 491.8L450.4 492.2L450.9 492.6L451.4 493.0L451.9 493.4L452.4 493.8L452.9 494.1L453.4 494.5L453.9 494.8L454.2 495.0" fill="none" stroke="#3cc0bc" stroke-width="4.8" stroke-dasharray="13.2 5.2" stroke-linejoin="round"/>
<rect x="101.8" y="583.8" width="11.4" height="11.4" fill="none" stroke="#3cc0bc" stroke-width="4.8"/>
<rect x="113.4" y="544.7" width="11.4" height="11.4" fill="none" stroke="#3cc0bc" stroke-width="4.8"/>
<rect x="125.0" y="519.2" width="11.4" height="11.4" fill="none" stroke="#3cc0bc" stroke-width="4.8"/>
<rect x="136.6" y="500.7" width="11.4" height="11.4" fill="none" stroke="#3cc0bc" stroke-width="4.8"/>
<rect x="148.2" y="491.7" width="11.4" height="11.4" fill="none" stroke="#3cc0bc" stroke-width="4.8"/>
<rect x="159.8" y="486.4" width="11.4" height="11.4" fill="none" stroke="#3cc0bc" stroke-width="4.8"/>
<rect x="171.4" y="480.4" width="11.4" height="11.4" fill="none" stroke="#3cc0bc" stroke-width="4.8"/>
<rect x="183.0" y="474.9" width="11.4" height="11.4" fill="none" stroke="#3cc0bc" stroke-width="4.8"/>
<rect x="194.6" y="469.7" width="11.4" height="11.4" fill="none" stroke="#3cc0bc" stroke-width="4.8"/>
<rect x="206.2" y="463.9" width="11.4" height="11.4" fill="none" stroke="#3cc0bc" stroke-width="4.8"/>
<rect x="217.8" y="457.7" width="11.4" height="11.4" fill="none" stroke="#3cc0bc" stroke-width="4.8"/>
<rect x="229.4" y="450.1" width="11.4" height="11.4" fill="none" stroke="#3cc0bc" stroke-width="4.8"/>
<rect x="241.0" y="442.2" width="11.4" height="11.4" fill="none" stroke="#3cc0bc" stroke-width="4.8"/>
<rect x="252.6" y="434.3" width="11.4" height="11.4" fill="none" stroke="#3cc0bc" stroke-width="4.8"/>
<rect x="264.2" y="426.0" width="11.4" height="11.4" fill="none" stroke="#3cc0bc" stroke-width="4.8"/>
<rect x="275.8" y="418.7" width="11.4" height="11.4" fill="none" stroke="#3cc0bc" stroke-width="4.8"/>
<rect x="287.4" y="412.8" width="11.4" height="11.4" fill="none" stroke="#3cc0bc" stroke-width="4.8"/>
<rect x="299.0" y="408.5" width="11.4" height="11.4" fill="none" stroke="#3cc0bc" stroke-width="4.8"/>
<rect x="310.6" y="406.4" width="11.4" height="11.4" fill="none" stroke="#3cc0bc" stroke-width="4.8"/>
<rect x="322.2" y="405.8" width="11.4" height="11.4" fill="none" stroke="#3cc0bc" stroke-width="4.8"/>
<rect x="333.8" y="406.1" width="11.4" height="11.4" fill="none" stroke="#3cc0bc" stroke-width="4.8"/>
<rect x="345.4" y="406.9" width="11.4" height="11.4" fill="none" stroke="#3cc0bc" stroke-width="4.8"/>
<rect x="357.0" y="408.9" width="11.4" height="11.4" fill="none" stroke="#3cc0bc" stroke-width="4.8"/>
<rect x="368.6" y="413.1" width="11.4" height="11.4" fill="none" stroke="#3cc0bc" stroke-width="4.8"/>
<rect x="380.2" y="419.1" width="11.4" height="11.4" fill="none" stroke="#3cc0bc" stroke-width="4.8"/>
<rect x="391.8" y="428.0" width="11.4" height="11.4" fill="none" stroke="#3cc0bc" stroke-width="4.8"/>
<rect x="403.4" y="440.4" width="11.4" height="11.4" fill="none" stroke="#3cc0bc" stroke-width="4.8"/>
<rect x="415.0" y="453.5" width="11.4" height="11.4" fill="none" stroke="#3cc0bc" stroke-width="4.8"/>
<rect x="426.6" y="467.0" width="11.4" height="11.4" fill="none" stroke="#3cc0bc" stroke-width="4.8"/>
<rect x="438.2" y="480.8" width="11.4" height="11.4" fill="none" stroke="#3cc0bc" stroke-width="4.8"/>
<path d="M105.4 598.0L105.9 597.1L106.4 596.1L106.9 595.1L107.4 594.1L107.9 593.1L108.4 592.0L108.9 590.9L109.4 589.7L109.9 588.6L110.4 587.4L110.9 586.2L111.4 585.0L111.9 583.8L112.4 582.5L112.9 581.3L113.4 580.0L113.9 578.7L114.4 577.5L114.9 576.2L115.4 574.9L115.9 573.6L116.4 572.3L116.9 571.1L117.4 569.8L117.9 568.5L118.4 567.3L118.9 566.0L119.4 564.7L119.9 563.4L120.4 562.1L120.9 560.8L121.4 559.5L121.9 558.2L122.4 556.8L122.9 555.5L123.4 554.3L123.9 553.0L124.4 551.8L124.9 550.7L125.4 549.6L125.9 548.5L126.4 547.4L126.9 546.4L127.4 545.4L127.9 544.4L128.4 543.4L128.9 542.4L129.4 541.4L129.9 540.5L130.4 539.6L130.9 538.6L131.4 537.7L131.9 536.8L132.4 536.0L132.9 535.1L133.4 534.2L133.9 533.4L134.4 532.5L134.9 531.7L135.4 530.8L135.9 529.9L136.4 529.1L136.9 528.2L137.4 527.3L137.9 526.5L138.4 525.7L138.9 524.8L139.4 524.0L139.9 523.3L140.4 522.5L140.9 521.8L141.4 521.1L141.9 520.4L142.4 519.8L142.9 519.2L143.4 518.6L143.9 518.1L144.4 517.6L144.9 517.2L145.4 516.7L145.9 516.3L146.4 515.9L146.9 515.5L147.4 515.2L147.9 514.8L148.4 514.4L148.9 514.1L149.4 513.8L149.9 513.5L150.4 513.1L150.9 512.8L151.4 512.5L151.9 512.2L152.4 511.9L152.9 511.6L153.4 511.3L153.9 511.0L154.4 510.7L154.9 510.4L155.4 510.1L155.9 509.8L156.4 509.5L156.9 509.2L157.4 508.8L157.9 508.5L158.4 508.2L158.9 507.8L159.4 507.5L159.9 507.2L160.4 506.8L160.9 506.5L161.4 506.1L161.9 505.8L162.4 505.5L162.9 505.1L163.4 504.8L163.9 504.5L164.4 504.2L164.9 503.8L165.4 503.5L165.9 503.2L166.4 502.9L166.9 502.6L167.4 502.3L167.9 502.0L168.4 501.7L168.9 501.4L169.4 501.1L169.9 500.8L170.4 500.6L170.9 500.3L171.4 500.0L171.9 499.8L172.4 499.5L172.9 499.3L173.4 499.1L173.9 498.8L174.4 498.6L174.9 498.4L175.4 498.2L175.9 498.0L176.4 497.7L176.9 497.5L177.4 497.3L177.9 497.1L178.4 496.9L178.9 496.6L179.4 496.4L179.9 496.2L180.4 496.0L180.9 495.7L181.4 495.5L181.9 495.3L182.4 495.0L182.9 494.7L183.4 494.5L183.9 494.2L184.4 493.9L184.9 493.6L185.4 493.3L185.9 493.0L186.4 492.7L186.9 492.4L187.4 492.1L187.9 491.7L188.4 491.4L188.9 491.1L189.4 490.8L189.9 490.5L190.4 490.3L190.9 490.0L191.4 489.7L191.9 489.5L192.4 489.3L192.9 489.0L193.4 488.8L193.9 488.7L194.4 488.5L194.9 488.3L195.4 488.1L195.9 488.0L196.4 487.8L196.9 487.7L197.4 487.5L197.9 487.4L198.4 487.3L198.9 487.1L199.4 487.0L199.9 486.8L200.4 486.7L200.9 486.5L201.4 486.4L201.9 486.2L202.4 486.1L202.9 485.9L203.4 485.7L203.9 485.5L204.4 485.3L204.9 485.1L205.4 484.9L205.9 484.7L206.4 484.4L206.9 484.2L207.4 483.9L207.9 483.7L208.4 483.4L208.9 483.2L209.4 482.9L209.9 482.7L210.4 482.4L210.9 482.1L211.4 481.9L211.9 481.6L212.4 481.3L212.9 481.1L213.4 480.8L213.9 480.5L214.4 480.3L214.9 480.0L215.4 479.8L215.9 479.5L216.4 479.3L216.9 479.0L217.4 478.8L217.9 478.5L218.4 478.3L218.9 478.0L219.4 477.8L219.9 477.6L220.4 477.3L220.9 477.1L221.4 476.8L221.9 476.6L222.4 476.3L222.9 476.1L223.4 475.8L223.9 475.6L224.4 475.3L224.9 475.1L225.4 474.8L225.9 474.5L226.4 474.3L226.9 474.0L227.4 473.7L227.9 473.4L228.4 473.1L228.9 472.8L229.4 472.5L229.9 472.1L230.4 471.8L230.9 471.5L231.4 471.1L231.9 470.8L232.4 470.4L232.9 470.0L233.4 469.7L233.9 469.3L234.4 469.0L234.9 468.6L235.4 468.3L235.9 468.0L236.4 467.6L236.9 467.3L237.4 467.0L237.9 466.7L238.4 466.4L238.9 466.1L239.4 465.8L239.9 465.5L240.4 465.2L240.9 464.9L241.4 464.7L241.9 464.4L242.4 464.1L242.9 463.9L243.4 463.6L243.9 463.4L244.4 463.1L244.9 462.8L245.4 462.6L245.9 462.3L246.4 462.0L246.9 461.7L247.4 461.5L247.9 461.2L248.4 460.9L248.9 460.6L249.4 460.3L249.9 460.0L250.4 459.7L250.9 459.3L251.4 459.0L251.9 458.7L252.4 458.4L252.9 458.1L253.4 457.7L253.9 457.4L254.4 457.1L254.9 456.7L255.4 456.4L255.9 456.1L256.4 455.7L256.9 455.4L257.4 455.0L257.9 454.7L258.4 454.3L258.9 454.0L259.4 453.6L259.9 453.2L260.4 452.9L260.9 452.5L261.4 452.1L261.9 451.7L262.4 451.4L262.9 451.0L263.4 450.6L263.9 450.2L264.4 449.8L264.9 449.4L265.4 449.0L265.9 448.6L266.4 448.2L266.9 447.8L267.4 447.4L267.9 447.0L268.4 446.6L268.9 446.2L269.4 445.8L269.9 445.4L270.4 445.0L270.9 444.6L271.4 444.2L271.9 443.7L272.4 443.3L272.9 442.9L273.4 442.5L273.9 442.1L274.4 441.6L274.9 441.2L275.4 440.8L275.9 440.4L276.4 439.9L276.9 439.5L277.4 439.1L277.9 438.7L278.4 438.3L278.9 437.9L279.4 437.5L279.9 437.1L280.4 436.7L280.9 436.3L281.4 435.9L281.9 435.5L282.4 435.1L282.9 434.7L283.4 434.3L283.9 433.9L284.4 433.5L284.9 433.1L285.4 432.7L285.9 432.3L286.4 431.9L286.9 431.5L287.4 431.2L287.9 430.8L288.4 430.4L288.9 430.1L289.4 429.7L289.9 429.4L290.4 429.0L290.9 428.7L291.4 428.4L291.9 428.1L292.4 427.8L292.9 427.5L293.4 427.2L293.9 426.9L294.4 426.6L294.9 426.3L295.4 426.1L295.9 425.8L296.4 425.6L296.9 425.3L297.4 425.0L297.9 424.8L298.4 424.6L298.9 424.3L299.4 424.1L299.9 423.8L300.4 423.6L300.9 423.4L301.4 423.1L301.9 422.9L302.4 422.7L302.9 422.4L303.4 422.2L303.9 422.0L304.4 421.7L304.9 421.5L305.4 421.3L305.9 421.0L306.4 420.8L306.9 420.5L307.4 420.3L307.9 420.0L308.4 419.8L308.9 419.6L309.4 419.3L309.9 419.1L310.4 418.8L310.9 418.6L311.4 418.3L311.9 418.1L312.4 417.8L312.9 417.6L313.4 417.3L313.9 417.1L314.4 416.8L314.9 416.6L315.4 416.3L315.9 416.1L316.4 415.8L316.9 415.6L317.4 415.3L317.9 415.1L318.4 414.8L318.9 414.6L319.4 414.3L319.9 414.1L320.4 413.8L320.9 413.6L321.4 413.3L321.9 413.1L322.4 412.8L322.9 412.6L323.4 412.3L323.9 412.1L324.4 411.8L324.9 411.5L325.4 411.3L325.9 411.0L326.4 410.8L326.9 410.5L327.4 410.2L327.9 409.9L328.4 409.7L328.9 409.4L329.4 409.1L329.9 408.9L330.4 408.6L330.9 408.3L331.4 408.0L331.9 407.8L332.4 407.5L332.9 407.3L333.4 407.0L333.9 406.8L334.4 406.5L334.9 406.3L335.4 406.1L335.9 405.8L336.4 405.6L336.9 405.4L337.4 405.2L337.9 405.0L338.4 404.9L338.9 404.7L339.4 404.5L339.9 404.3L340.4 404.1L340.9 403.9L341.4 403.8L341.9 403.6L342.4 403.4L342.9 403.2L343.4 403.1L343.9 402.9L344.4 402.8L344.9 402.6L345.4 402.4L345.9 402.3L346.4 402.1L346.9 402.0L347.4 401.9L347.9 401.8L348.4 401.6L348.9 401.5L349.4 401.4L349.9 401.3L350.4 401.2L350.9 401.1L351.4 401.1L351.9 401.0L352.4 401.0L352.9 400.9L353.4 400.8L353.9 400.8L354.4 400.7L354.9 400.7L355.4 400.6L355.9 400.6L356.4 400.5L356.9 400.5L357.4 400.4L357.9 400.4L358.4 400.3L358.9 400.3L359.4 400.3L359.9 400.2L360.4 400.2L360.9 400.2L361.4 400.1L361.9 400.1L362.4 400.1L362.9 400.1L363.4 400.0L363.9 400.0L364.4 400.0L364.9 400.0L365.4 400.0L365.9 400.0L366.4 400.0L366.9 400.0L367.4 400.1L367.9 400.1L368.4 400.2L368.9 400.2L369.4 400.3L369.9 400.4L370.4 400.5L370.9 400.6L371.4 400.7L371.9 400.9L372.4 401.0L372.9 401.1L373.4 401.3L373.9 401.5L374.4 401.6L374.9 401.8L375.4 402.0L375.9 402.2L376.4 402.4L376.9 402.6L377.4 402.8L377.9 403.0L378.4 403.2L378.9 403.5L379.4 403.8L379.9 404.2L380.4 404.6L380.9 405.0L381.4 405.5L381.9 406.0L382.4 406.5L382.9 407.1L383.4 407.7L383.9 408.2L384.4 408.8L384.9 409.4L385.4 410.0L385.9 410.6L386.4 411.1L386.9 411.7L387.4 412.2L387.9 412.7L388.4 413.2L388.9 413.7L389.4 414.2L389.9 414.7L390.4 415.2L390.9 415.7L391.4 416.2L391.9 416.7L392.4 417.3L392.9 417.8L393.4 418.3L393.9 418.8L394.4 419.3L394.9 419.8L395.4 420.3L395.9 420.8L396.4 421.3L396.9 421.8L397.4 422.3L397.9 422.8L398.4 423.3L398.9 423.7L399.4 424.2L399.9 424.7L400.4 425.1L400.9 425.6L401.4 426.1L401.9 426.5L402.4 427.0L402.9 427.4L403.4 427.9L403.9 428.3L404.4 428.7L404.9 429.2L405.4 429.6L405.9 430.0L406.4 430.5L406.9 430.9L407.4 431.3L407.9 431.8L408.4 432.2L408.9 432.6L409.4 433.1L409.9 433.5L410.4 433.9L410.9 434.4L411.4 434.8L411.9 435.2L412.4 435.7L412.9 436.1L413.4 436.5L413.9 436.9L414.4 437.3L414.9 437.8L415.4 438.2L415.9 438.6L416.4 439.0L416.9 439.4L417.4 439.8L417.9 440.3L418.4 440.7L418.9 441.1L419.4 441.5L419.9 442.0L420.4 442.4L420.9 442.8L421.4 443.3L421.9 443.7L422.4 444.2L422.9 444.6L423.4 445.1L423.9 445.6L424.4 446.0L424.9 446.5L425.4 447.0L425.9 447.5L426.4 448.0L426.9 448.5L427.4 449.0L427.9 449.5L428.4 450.0L428.9 450.5L429.4 451.0L429.9 451.5L430.4 452.0L430.9 452.5L431.4 453.1L431.9 453.6L432.4 454.1L432.9 454.7L433.4 455.2L433.9 455.8L434.4 456.3L434.9 456.9L435.4 457.5L435.9 458.0L436.4 458.6L436.9 459.2L437.4 459.9L437.9 460.5L438.4 461.1L438.9 461.8L439.4 462.4L439.9 463.0L440.4 463.7L440.9 464.3L441.4 465.0L441.9 465.6L442.4 466.3L442.9 466.9L443.4 467.5L443.9 468.1L444.4 468.7L444.9 469.3L445.4 469.9L445.9 470.4L446.4 471.0L446.9 471.6L447.4 472.1L447.9 472.6L448.4 473.2L448.9 473.7L449.4 474.2L449.9 474.7L450.4 475.3L450.9 475.8L451.4 476.3L451.9 476.8L452.4 477.3L452.9 477.8L453.4 478.2L453.9 478.7L454.2 479.0" fill="none" stroke="#19148c" stroke-width="4.8" stroke-dasharray="13.2 5.2" stroke-linejoin="round"/>
<path d="M102.5 593.9L112.3 586.6L112.3 601.2Z" fill="none" stroke="#19148c" stroke-width="4.2" stroke-linejoin="miter" stroke-miterlimit="10"/>
<path d="M114.1 565.5L123.9 558.2L123.9 572.8Z" fill="none" stroke="#19148c" stroke-width="4.2" stroke-linejoin="miter" stroke-miterlimit="10"/>
<path d="M125.7 539.0L135.5 531.7L135.5 546.3Z" fill="none" stroke="#19148c" stroke-width="4.2" stroke-linejoin="miter" stroke-miterlimit="10"/>
<path d="M137.3 519.9L147.1 512.6L147.1 527.2Z" fill="none" stroke="#19148c" stroke-width="4.2" stroke-linejoin="miter" stroke-miterlimit="10"/>
<path d="M148.9 511.0L158.7 503.7L158.7 518.3Z" fill="none" stroke="#19148c" stroke-width="4.2" stroke-linejoin="miter" stroke-miterlimit="10"/>
<path d="M160.5 503.5L170.3 496.2L170.3 510.8Z" fill="none" stroke="#19148c" stroke-width="4.2" stroke-linejoin="miter" stroke-miterlimit="10"/>
<path d="M172.1 497.4L181.9 490.1L181.9 504.7Z" fill="none" stroke="#19148c" stroke-width="4.2" stroke-linejoin="miter" stroke-miterlimit="10"/>
<path d="M183.7 491.3L193.5 484.0L193.5 498.6Z" fill="none" stroke="#19148c" stroke-width="4.2" stroke-linejoin="miter" stroke-miterlimit="10"/>
<path d="M195.3 486.7L205.1 479.4L205.1 494.0Z" fill="none" stroke="#19148c" stroke-width="4.2" stroke-linejoin="miter" stroke-miterlimit="10"/>
<path d="M206.9 481.6L216.7 474.3L216.7 488.9Z" fill="none" stroke="#19148c" stroke-width="4.2" stroke-linejoin="miter" stroke-miterlimit="10"/>
<path d="M218.5 475.8L228.3 468.5L228.3 483.1Z" fill="none" stroke="#19148c" stroke-width="4.2" stroke-linejoin="miter" stroke-miterlimit="10"/>
<path d="M230.1 468.5L239.9 461.2L239.9 475.8Z" fill="none" stroke="#19148c" stroke-width="4.2" stroke-linejoin="miter" stroke-miterlimit="10"/>
<path d="M241.7 461.9L251.5 454.6L251.5 469.2Z" fill="none" stroke="#19148c" stroke-width="4.2" stroke-linejoin="miter" stroke-miterlimit="10"/>
<path d="M253.3 454.4L263.1 447.1L263.1 461.7Z" fill="none" stroke="#19148c" stroke-width="4.2" stroke-linejoin="miter" stroke-miterlimit="10"/>
<path d="M264.9 445.4L274.7 438.1L274.7 452.7Z" fill="none" stroke="#19148c" stroke-width="4.2" stroke-linejoin="miter" stroke-miterlimit="10"/>
<path d="M276.5 435.8L286.3 428.5L286.3 443.1Z" fill="none" stroke="#19148c" stroke-width="4.2" stroke-linejoin="miter" stroke-miterlimit="10"/>
<path d="M288.1 427.3L297.9 420.0L297.9 434.6Z" fill="none" stroke="#19148c" stroke-width="4.2" stroke-linejoin="miter" stroke-miterlimit="10"/>
<path d="M299.7 421.6L309.5 414.3L309.5 428.9Z" fill="none" stroke="#19148c" stroke-width="4.2" stroke-linejoin="miter" stroke-miterlimit="10"/>
<path d="M311.3 415.9L321.1 408.6L321.1 423.2Z" fill="none" stroke="#19148c" stroke-width="4.2" stroke-linejoin="miter" stroke-miterlimit="10"/>
<path d="M322.9 409.9L332.7 402.6L332.7 417.2Z" fill="none" stroke="#19148c" stroke-width="4.2" stroke-linejoin="miter" stroke-miterlimit="10"/>
<path d="M334.5 404.5L344.3 397.2L344.3 411.8Z" fill="none" stroke="#19148c" stroke-width="4.2" stroke-linejoin="miter" stroke-miterlimit="10"/>
<path d="M346.1 401.1L355.9 393.8L355.9 408.4Z" fill="none" stroke="#19148c" stroke-width="4.2" stroke-linejoin="miter" stroke-miterlimit="10"/>
<path d="M357.7 400.1L367.5 392.8L367.5 407.4Z" fill="none" stroke="#19148c" stroke-width="4.2" stroke-linejoin="miter" stroke-miterlimit="10"/>
<path d="M369.3 401.6L379.1 394.3L379.1 408.9Z" fill="none" stroke="#19148c" stroke-width="4.2" stroke-linejoin="miter" stroke-miterlimit="10"/>
<path d="M380.9 410.6L390.7 403.3L390.7 417.9Z" fill="none" stroke="#19148c" stroke-width="4.2" stroke-linejoin="miter" stroke-miterlimit="10"/>
<path d="M392.5 422.4L402.3 415.1L402.3 429.7Z" fill="none" stroke="#19148c" stroke-width="4.2" stroke-linejoin="miter" stroke-miterlimit="10"/>
<path d="M404.1 432.8L413.9 425.5L413.9 440.1Z" fill="none" stroke="#19148c" stroke-width="4.2" stroke-linejoin="miter" stroke-miterlimit="10"/>
<path d="M415.7 442.7L425.5 435.4L425.5 450.0Z" fill="none" stroke="#19148c" stroke-width="4.2" stroke-linejoin="miter" stroke-miterlimit="10"/>
<path d="M427.3 454.0L437.1 446.7L437.1 461.3Z" fill="none" stroke="#19148c" stroke-width="4.2" stroke-linejoin="miter" stroke-miterlimit="10"/>
<path d="M438.9 468.1L448.7 460.8L448.7 475.4Z" fill="none" stroke="#19148c" stroke-width="4.2" stroke-linejoin="miter" stroke-miterlimit="10"/>
<path d="M517.8 601.4L518.3 595.6L518.8 589.8L519.3 583.8L519.8 577.8L520.3 571.6L520.8 565.4L521.3 559.0L521.8 552.6L522.3 546.1L522.8 539.4L523.3 532.6L523.8 525.7L524.3 518.7L524.8 511.7L525.3 504.5L525.8 497.4L526.3 490.1L526.8 482.9L527.3 475.6L527.8 468.4L528.3 461.1L528.8 453.7L529.3 446.3L529.8 438.7L530.3 431.0L530.8 423.2L531.3 415.1L531.8 406.3L532.3 397.0L532.8 387.4L533.3 377.6L533.8 367.7L534.3 357.9L534.8 348.4L535.3 339.3L535.8 330.8L536.3 322.9L536.8 316.0L537.3 310.0L537.8 304.8L538.3 300.1L538.8 295.8L539.3 291.7L539.8 287.9L540.3 284.2L540.8 280.7L541.3 277.2L541.8 273.8L542.3 270.2L542.8 266.6L543.3 262.8L543.8 259.0L544.3 255.3L544.8 251.6L545.3 247.9L545.8 244.3L546.3 240.8L546.8 237.4L547.3 234.2L547.8 231.2L548.3 228.3L548.8 225.5L549.3 222.9L549.8 220.3L550.3 217.8L550.8 215.4L551.3 213.1L551.8 210.8L552.3 208.5L552.8 206.3L553.3 204.1L553.8 201.9L554.3 199.7L554.8 197.6L555.3 195.4L555.8 193.1L556.3 190.8L556.8 188.6L557.3 186.4L557.8 184.2L558.3 182.1L558.8 180.2L559.3 178.3L559.8 176.6L560.3 175.1L560.8 173.7L561.3 172.5L561.8 171.3L562.3 170.1L562.8 168.9L563.3 167.9L563.8 166.9L564.3 166.0L564.8 165.3L565.3 164.6L565.8 164.2L566.3 163.8L566.8 163.5L567.3 163.2L567.8 162.9L568.3 162.6L568.8 162.4L569.3 162.2L569.8 162.1L570.3 162.0L570.8 162.0L571.3 162.1L571.8 162.2L572.3 162.4L572.8 162.6L573.3 162.9L573.8 163.3L574.3 163.6L574.8 164.0L575.3 164.4L575.8 164.8L576.3 165.3L576.8 165.8L577.3 166.3L577.8 167.0L578.3 167.7L578.8 168.5L579.3 169.2L579.8 170.0L580.3 170.9L580.8 171.7L581.3 172.5L581.8 173.3L582.3 174.2L582.8 175.0L583.3 175.9L583.8 176.9L584.3 177.8L584.8 178.8L585.3 179.8L585.8 180.8L586.3 181.8L586.8 182.9L587.3 184.0L587.8 185.1L588.3 186.3L588.8 187.4L589.3 188.6L589.8 189.9L590.3 191.2L590.8 192.5L591.3 193.9L591.8 195.4L592.3 196.9L592.8 198.7L593.3 200.5L593.8 202.5L594.3 204.6L594.8 206.6L595.3 208.7L595.8 210.8L596.3 212.8L596.8 214.6L597.3 216.3L597.8 217.9L598.3 219.2L598.8 220.5L599.3 221.8L599.8 223.0L600.3 224.2L600.8 225.3L601.3 226.4L601.8 227.5L602.3 228.5L602.8 229.5L603.3 230.5L603.8 231.5L604.3 232.5L604.8 233.4L605.3 234.3L605.8 235.3L606.3 236.2L606.8 237.2L607.3 238.2L607.8 239.1L608.3 240.1L608.8 241.2L609.3 242.2L609.8 243.3L610.3 244.3L610.8 245.4L611.3 246.5L611.8 247.5L612.3 248.6L612.8 249.7L613.3 250.7L613.8 251.8L614.3 252.9L614.8 253.9L615.3 255.0L615.8 256.1L616.3 257.1L616.8 258.2L617.3 259.2L617.8 260.3L618.3 261.3L618.8 262.4L619.3 263.4L619.8 264.5L620.3 265.5L620.8 266.5L621.3 267.6L621.8 268.6L622.3 269.6L622.8 270.7L623.3 271.8L623.8 272.8L624.3 273.9L624.8 274.9L625.3 276.0L625.8 277.0L626.3 278.0L626.8 279.1L627.3 280.1L627.8 281.1L628.3 282.1L628.8 283.1L629.3 284.0L629.8 285.0L630.3 285.9L630.8 286.8L631.3 287.7L631.8 288.5L632.3 289.4L632.8 290.2L633.3 290.9L633.8 291.7L634.3 292.4L634.8 293.1L635.3 293.8L635.8 294.5L636.3 295.2L636.8 295.9L637.3 296.6L637.8 297.2L638.3 297.9L638.8 298.6L639.3 299.2L639.8 299.9L640.3 300.6L640.8 301.3L641.3 302.0L641.8 302.8L642.3 303.5L642.8 304.3L643.3 305.1L643.8 305.9L644.3 306.7L644.8 307.6L645.3 308.4L645.8 309.3L646.3 310.2L646.8 311.1L647.3 312.0L647.8 312.9L648.3 313.8L648.8 314.8L649.3 315.7L649.8 316.6L650.3 317.6L650.8 318.6L651.3 319.5L651.8 320.5L652.3 321.5L652.8 322.5L653.3 323.4L653.8 324.4L654.3 325.4L654.8 326.4L655.3 327.4L655.8 328.4L656.3 329.4L656.8 330.3L657.3 331.3L657.8 332.3L658.3 333.3L658.8 334.3L659.3 335.3L659.8 336.4L660.3 337.4L660.8 338.4L661.3 339.5L661.8 340.5L662.3 341.6L662.8 342.7L663.3 343.8L663.8 344.9L664.3 346.1L664.8 347.2L665.3 348.4L665.8 349.6L666.3 350.9L666.8 352.1L667.3 353.4L667.8 354.8L668.3 356.1L668.8 357.5L669.3 358.9L669.8 360.4L670.3 361.8L670.8 363.3L671.3 364.8L671.8 366.3L672.3 367.8L672.8 369.3L673.3 370.8L673.8 372.4L674.3 373.9L674.8 375.4L675.3 376.9L675.8 378.4L676.3 379.9L676.8 381.3L677.3 382.8L677.8 384.2L678.3 385.7L678.8 387.1L679.3 388.6L679.8 390.0L680.3 391.5L680.8 392.9L681.3 394.3L681.8 395.8L682.3 397.2L682.8 398.7L683.3 400.1L683.8 401.6L684.3 403.0L684.8 404.4L685.3 405.9L685.8 407.3L686.3 408.7L686.8 410.1L687.3 411.6L687.8 413.0L688.3 414.4L688.8 415.8L689.3 417.2L689.8 418.7L690.3 420.1L690.8 421.5L691.3 422.9L691.8 424.3L692.3 425.8L692.8 427.2L693.3 428.6L693.8 430.0L694.3 431.4L694.8 432.8L695.3 434.2L695.8 435.6L696.3 437.0L696.8 438.4L697.3 439.8L697.8 441.1L698.3 442.5L698.8 443.8L699.3 445.2L699.8 446.5L700.3 447.8L700.8 449.1L701.3 450.4L701.8 451.7L702.3 452.9L702.8 454.2L703.3 455.5L703.8 456.7L704.3 458.0L704.8 459.2L705.3 460.5L705.8 461.7L706.3 462.9L706.8 464.2L707.3 465.4L707.8 466.6L708.3 467.8L708.8 469.0L709.3 470.2L709.8 471.4L710.3 472.5L710.8 473.7L711.3 474.9L711.8 476.0L712.3 477.2L712.8 478.4L713.3 479.6L713.8 480.7L714.3 481.9L714.8 483.0L715.3 484.2L715.8 485.3L716.3 486.5L716.8 487.6L717.3 488.8L717.8 489.9L718.3 491.0L718.8 492.1L719.3 493.1L719.8 494.2L720.3 495.2L720.8 496.3L721.3 497.3L721.8 498.3L722.3 499.2L722.8 500.2L723.3 501.1L723.8 502.0L724.3 502.9L724.8 503.8L725.3 504.7L725.8 505.5L726.3 506.4L726.8 507.2L727.3 508.0L727.8 508.8L728.3 509.7L728.8 510.5L729.3 511.2L729.8 512.0L730.3 512.8L730.8 513.6L731.3 514.4L731.8 515.1L732.3 515.9L732.8 516.7L733.3 517.4L733.8 518.2L734.3 519.0L734.8 519.8L735.3 520.5L735.8 521.3L736.3 522.0L736.8 522.8L737.3 523.6L737.8 524.3L738.3 525.1L738.8 525.8L739.3 526.5L739.8 527.3L740.3 528.0L740.8 528.7L741.3 529.4L741.8 530.2L742.3 530.9L742.8 531.6L743.3 532.3L743.8 533.0L744.3 533.7L744.8 534.4L745.3 535.1L745.8 535.7L746.3 536.4L746.8 537.1L747.3 537.8L747.8 538.5L748.3 539.2L748.8 539.8L749.3 540.5L749.8 541.2L750.3 541.9L750.8 542.5L751.3 543.2L751.8 543.8L752.3 544.5L752.8 545.1L753.3 545.7L753.8 546.3L754.3 546.9L754.8 547.5L755.3 548.1L755.8 548.7L756.3 549.2L756.8 549.8L757.3 550.3L757.8 550.8L758.3 551.3L758.8 551.8L759.3 552.2L759.8 552.7L760.3 553.2L760.8 553.6L761.3 554.1L761.8 554.5L762.3 555.0L762.8 555.4L763.3 555.8L763.8 556.2L764.3 556.7L764.8 557.1L765.3 557.5L765.8 558.0L766.3 558.4L766.8 558.8L767.3 559.3L767.8 559.7L768.3 560.2L768.8 560.6L769.3 561.1L769.8 561.6L770.3 562.0L770.8 562.5L771.3 563.0L771.8 563.5L772.3 563.9L772.8 564.4L773.3 564.9L773.8 565.4L774.3 565.8L774.8 566.3L775.3 566.8L775.8 567.2L776.3 567.7L776.8 568.1L777.3 568.6L777.8 569.0L778.3 569.4L778.8 569.9L779.3 570.3L779.8 570.7L780.3 571.1L780.8 571.5L781.3 571.9L781.8 572.3L782.3 572.7L782.8 573.1L783.3 573.4L783.8 573.8L784.3 574.2L784.8 574.6L785.3 574.9L785.8 575.3L786.3 575.7L786.8 576.0L787.3 576.4L787.8 576.7L788.3 577.1L788.8 577.4L789.3 577.7L789.8 578.1L790.3 578.4L790.8 578.7L791.3 579.0L791.8 579.3L792.3 579.6L792.8 579.9L793.3 580.2L793.8 580.5L794.3 580.8L794.8 581.1L795.3 581.4L795.8 581.7L796.3 581.9L796.8 582.2L797.3 582.5L797.8 582.7L798.3 583.0L798.8 583.3L799.3 583.5L799.8 583.8L800.3 584.1L800.8 584.3L801.3 584.6L801.8 584.8L802.3 585.1L802.8 585.3L803.3 585.6L803.8 585.8L804.3 586.1L804.8 586.3L805.3 586.6L805.8 586.8L806.3 587.1L806.8 587.3L807.3 587.5L807.8 587.8L808.3 588.0L808.8 588.2L809.3 588.5L809.8 588.7L810.3 588.9L810.8 589.1L811.3 589.4L811.8 589.6L812.3 589.8L812.8 590.0L813.3 590.2L813.8 590.4L814.3 590.6L814.8 590.8L815.3 591.0L815.8 591.2L816.3 591.4L816.8 591.6L817.3 591.8L817.8 592.0L818.3 592.1L818.8 592.3L819.3 592.5L819.8 592.7L820.3 592.9L820.8 593.0L821.3 593.2L821.8 593.4L822.3 593.6L822.8 593.8L823.3 593.9L823.8 594.1L824.3 594.3L824.8 594.5L825.3 594.7L825.8 594.9L826.3 595.0L826.8 595.2L827.3 595.4L827.8 595.6L828.3 595.8L828.8 596.0L829.3 596.2L829.8 596.4L830.3 596.6L830.8 596.8L831.3 596.9L831.8 597.1L832.3 597.3L832.8 597.5L833.3 597.7L833.8 597.8L834.3 598.0L834.8 598.2L835.3 598.3L835.8 598.5L836.3 598.6L836.8 598.8L837.3 598.9L837.8 599.1L838.3 599.2L838.8 599.3L839.3 599.5L839.8 599.6L840.3 599.7L840.8 599.9L841.3 600.0L841.8 600.1L842.3 600.3L842.8 600.4L843.3 600.5L843.8 600.6L844.3 600.7L844.8 600.8L845.3 600.9L845.8 601.1L846.3 601.2L846.8 601.3L847.3 601.4L847.5 601.4" fill="none" stroke="#d0232d" stroke-width="4.8" stroke-dasharray="13 5 4.5 5" stroke-linejoin="round"/>
<path d="M518.4 573.0L518.9 567.3L519.4 561.5L519.9 555.8L520.4 550.1L520.9 544.3L521.4 538.6L521.9 532.9L522.4 527.2L522.9 521.5L523.4 515.8L523.9 510.0L524.4 504.3L524.9 498.6L525.4 492.9L525.9 487.2L526.4 481.6L526.9 475.9L527.4 470.2L527.9 464.5L528.4 458.8L528.9 453.1L529.4 447.5L529.9 441.8L530.4 436.1L530.9 430.2L531.4 424.3L531.9 418.4L532.4 412.4L532.9 406.4L533.4 400.4L533.9 394.4L534.4 388.4L534.9 382.4L535.4 376.5L535.9 370.6L536.4 364.7L536.9 359.0L537.4 353.3L537.9 347.8L538.4 342.4L538.9 337.1L539.4 331.9L539.9 326.9L540.4 322.1L540.9 317.4L541.4 312.9L541.9 308.5L542.4 304.0L542.9 299.6L543.4 295.2L543.9 290.9L544.4 286.6L544.9 282.4L545.4 278.2L545.9 274.1L546.4 270.2L546.9 266.2L547.4 262.4L547.9 258.7L548.4 255.2L548.9 251.7L549.4 248.4L549.9 245.2L550.4 242.1L550.9 239.2L551.4 236.5L551.9 233.9L552.4 231.5L552.9 229.3L553.4 227.0L553.9 224.8L554.4 222.7L554.9 220.6L555.4 218.5L555.9 216.5L556.4 214.5L556.9 212.6L557.4 210.8L557.9 209.0L558.4 207.3L558.9 205.7L559.4 204.1L559.9 202.6L560.4 201.2L560.9 199.9L561.4 198.6L561.9 197.5L562.4 196.4L562.9 195.5L563.4 194.6L563.9 193.9L564.4 193.1L564.9 192.4L565.4 191.7L565.9 191.0L566.4 190.4L566.9 189.7L567.4 189.1L567.9 188.5L568.4 187.9L568.9 187.3L569.4 186.8L569.9 186.3L570.4 185.8L570.9 185.4L571.4 185.0L571.9 184.6L572.4 184.3L572.9 184.1L573.4 183.8L573.9 183.7L574.4 183.6L574.9 183.5L575.4 183.5L575.9 183.6L576.4 183.8L576.9 184.0L577.4 184.4L577.9 184.8L578.4 185.2L578.9 185.7L579.4 186.3L579.9 186.9L580.4 187.6L580.9 188.3L581.4 189.0L581.9 189.8L582.4 190.6L582.9 191.4L583.4 192.2L583.9 193.0L584.4 193.8L584.9 194.6L585.4 195.3L585.9 196.1L586.4 196.9L586.9 197.6L587.4 198.4L587.9 199.1L588.4 200.0L588.9 200.8L589.4 201.7L589.9 202.5L590.4 203.4L590.9 204.3L591.4 205.3L591.9 206.2L592.4 207.2L592.9 208.2L593.4 209.1L593.9 210.1L594.4 211.1L594.9 212.1L595.4 213.1L595.9 214.1L596.4 215.1L596.9 216.1L597.4 217.1L597.9 218.1L598.4 219.1L598.9 220.1L599.4 221.1L599.9 222.1L600.4 223.2L600.9 224.2L601.4 225.3L601.9 226.3L602.4 227.4L602.9 228.5L603.4 229.5L603.9 230.6L604.4 231.7L604.9 232.8L605.4 233.8L605.9 234.9L606.4 236.0L606.9 237.1L607.4 238.2L607.9 239.2L608.4 240.3L608.9 241.4L609.4 242.4L609.9 243.5L610.4 244.5L610.9 245.6L611.4 246.7L611.9 247.7L612.4 248.8L612.9 249.9L613.4 250.9L613.9 252.0L614.4 253.1L614.9 254.1L615.4 255.2L615.9 256.3L616.4 257.3L616.9 258.4L617.4 259.4L617.9 260.5L618.4 261.5L618.9 262.6L619.4 263.6L619.9 264.7L620.4 265.7L620.9 266.7L621.4 267.8L621.9 268.8L622.4 269.9L622.9 270.9L623.4 272.0L623.9 273.0L624.4 274.1L624.9 275.1L625.4 276.2L625.9 277.2L626.4 278.3L626.9 279.3L627.4 280.3L627.9 281.3L628.4 282.3L628.9 283.3L629.4 284.2L629.9 285.2L630.4 286.1L630.9 287.0L631.4 287.9L631.9 288.7L632.4 289.5L632.9 290.3L633.4 291.1L633.9 291.8L634.4 292.6L634.9 293.3L635.4 294.0L635.9 294.7L636.4 295.4L636.9 296.0L637.4 296.7L637.9 297.4L638.4 298.0L638.9 298.7L639.4 299.4L639.9 300.1L640.4 300.7L640.9 301.4L641.4 302.2L641.9 302.9L642.4 303.7L642.9 304.4L643.4 305.2L643.9 306.1L644.4 306.9L644.9 307.7L645.4 308.6L645.9 309.5L646.4 310.4L646.9 311.3L647.4 312.2L647.9 313.1L648.4 314.0L648.9 314.9L649.4 315.9L649.9 316.8L650.4 317.8L650.9 318.8L651.4 319.7L651.9 320.7L652.4 321.7L652.9 322.7L653.4 323.6L653.9 324.6L654.4 325.6L654.9 326.6L655.4 327.6L655.9 328.6L656.4 329.5L656.9 330.5L657.4 331.5L657.9 332.5L658.4 333.5L658.9 334.5L659.4 335.5L659.9 336.6L660.4 337.6L660.9 338.6L661.4 339.7L661.9 340.8L662.4 341.8L662.9 342.9L663.4 344.0L663.9 345.2L664.4 346.3L664.9 347.5L665.4 348.7L665.9 349.9L666.4 351.1L666.9 352.4L667.4 353.7L667.9 355.0L668.4 356.4L668.9 357.8L669.4 359.2L669.9 360.7L670.4 362.1L670.9 363.6L671.4 365.1L671.9 366.6L672.4 368.1L672.9 369.6L673.4 371.2L673.9 372.7L674.4 374.2L674.9 375.7L675.4 377.2L675.9 378.7L676.4 380.2L676.9 381.6L677.4 383.1L677.9 384.5L678.4 386.0L678.9 387.4L679.4 388.9L679.9 390.3L680.4 391.7L680.9 393.2L681.4 394.6L681.9 396.1L682.4 397.5L682.9 399.0L683.4 400.4L683.9 401.8L684.4 403.3L684.9 404.7L685.4 406.1L685.9 407.6L686.4 409.0L686.9 410.4L687.4 411.9L687.9 413.3L688.4 414.7L688.9 416.1L689.4 417.5L689.9 418.9L690.4 420.4L690.9 421.8L691.4 423.2L691.9 424.6L692.4 426.1L692.9 427.5L693.4 428.9L693.9 430.3L694.4 431.7L694.9 433.1L695.4 434.5L695.9 435.9L696.4 437.3L696.9 438.7L697.4 440.0L697.9 441.4L698.4 442.8L698.9 444.1L699.4 445.4L699.9 446.7L700.4 448.0L700.9 449.3L701.4 450.6L701.9 451.9L702.4 453.2L702.9 454.5L703.4 455.7L703.9 457.0L704.4 458.2L704.9 459.5L705.4 460.7L705.9 462.0L706.4 463.2L706.9 464.4L707.4 465.6L707.9 466.8L708.4 468.0L708.9 469.2L709.4 470.4L709.9 471.6L710.4 472.8L710.9 474.0L711.4 475.1L711.9 476.3L712.4 477.4L712.9 478.6L713.4 479.8L713.9 481.0L714.4 482.1L714.9 483.3L715.4 484.4L715.9 485.6L716.4 486.7L716.9 487.9L717.4 489.0L717.9 490.1L718.4 491.2L718.9 492.3L719.4 493.4L719.9 494.4L720.4 495.5L720.9 496.5L721.4 497.5L721.9 498.5L722.4 499.4L722.9 500.4L723.4 501.3L723.9 502.2L724.4 503.1L724.9 504.0L725.4 504.8L725.9 505.7L726.4 506.5L726.9 507.4L727.4 508.2L727.9 509.0L728.4 509.8L728.9 510.6L729.4 511.4L729.9 512.2L730.4 513.0L730.9 513.7L731.4 514.5L731.9 515.3L732.4 516.1L732.9 516.8L733.4 517.6L733.9 518.4L734.4 519.1L734.9 519.9L735.4 520.7L735.9 521.4L736.4 522.2L736.9 523.0L737.4 523.7L737.9 524.5L738.4 525.2L738.9 525.9L739.4 526.7L739.9 527.4L740.4 528.1L740.9 528.9L741.4 529.6L741.9 530.3L742.4 531.0L742.9 531.7L743.4 532.4L743.9 533.1L744.4 533.8L744.9 534.5L745.4 535.2L745.9 535.9L746.4 536.6L746.9 537.3L747.4 537.9L747.9 538.6L748.4 539.3L748.9 540.0L749.4 540.7L749.9 541.3L750.4 542.0L750.9 542.6L751.4 543.3L751.9 544.0L752.4 544.6L752.9 545.2L753.4 545.8L753.9 546.5L754.4 547.1L754.9 547.6L755.4 548.2L755.9 548.8L756.4 549.3L756.9 549.9L757.4 550.4L757.9 550.9L758.4 551.4L758.9 551.9L759.4 552.3L759.9 552.8L760.4 553.3L760.9 553.7L761.4 554.2L761.9 554.6L762.4 555.0L762.9 555.5L763.4 555.9L763.9 556.3L764.4 556.8L764.9 557.2L765.4 557.6L765.9 558.1L766.4 558.5L766.9 558.9L767.4 559.4L767.9 559.8L768.4 560.3L768.9 560.7L769.4 561.2L769.9 561.7L770.4 562.1L770.9 562.6L771.4 563.1L771.9 563.6L772.4 564.0L772.9 564.5L773.4 565.0L773.9 565.5L774.4 565.9L774.9 566.4L775.4 566.9L775.9 567.3L776.4 567.8L776.9 568.2L777.4 568.7L777.9 569.1L778.4 569.5L778.9 569.9L779.4 570.4L779.9 570.8L780.4 571.2L780.9 571.6L781.4 572.0L781.9 572.4L782.4 572.7L782.9 573.1L783.4 573.5L783.9 573.9L784.4 574.3L784.9 574.6L785.4 575.0L785.9 575.4L786.4 575.7L786.9 576.1L787.4 576.4L787.9 576.8L788.4 577.1L788.9 577.5L789.4 577.8L789.9 578.1L790.4 578.4L790.9 578.8L791.4 579.1L791.9 579.4L792.4 579.7L792.9 580.0L793.4 580.3L793.9 580.6L794.4 580.9L794.9 581.1L795.4 581.4L795.9 581.7L796.4 582.0L796.9 582.3L797.4 582.5L797.9 582.8L798.4 583.1L798.9 583.3L799.4 583.6L799.9 583.8L800.4 584.1L800.9 584.4L801.4 584.6L801.9 584.9L802.4 585.1L802.9 585.4L803.4 585.6L803.9 585.9L804.4 586.1L804.9 586.4L805.4 586.6L805.9 586.9L806.4 587.1L806.9 587.3L807.4 587.6L807.9 587.8L808.4 588.1L808.9 588.3L809.4 588.5L809.9 588.7L810.4 589.0L810.9 589.2L811.4 589.4L811.9 589.6L812.4 589.8L812.9 590.1L813.4 590.3L813.9 590.5L814.4 590.7L814.9 590.9L815.4 591.1L815.9 591.3L816.4 591.4L816.9 591.6L817.4 591.8L817.9 592.0L818.4 592.2L818.9 592.4L819.4 592.5L819.9 592.7L820.4 592.9L820.9 593.1L821.4 593.3L821.9 593.4L822.4 593.6L822.9 593.8L823.4 594.0L823.9 594.2L824.4 594.3L824.9 594.5L825.4 594.7L825.9 594.9L826.4 595.1L826.9 595.3L827.4 595.5L827.9 595.6L828.4 595.8L828.9 596.0L829.4 596.2L829.9 596.4L830.4 596.6L830.9 596.8L831.4 597.0L831.9 597.2L832.4 597.3L832.9 597.5L833.4 597.7L833.9 597.9L834.4 598.0L834.9 598.2L835.4 598.4L835.9 598.5L836.4 598.7L836.9 598.8L837.4 598.9L837.9 599.1L838.4 599.2L838.9 599.4L839.4 599.5L839.9 599.6L840.4 599.8L840.9 599.9L841.4 600.0L841.9 600.2L842.4 600.3L842.9 600.4L843.4 600.5L843.9 600.6L844.4 600.7L844.9 600.9L845.4 601.0L845.9 601.1L846.4 601.2L846.9 601.3L847.4 601.4L847.5 601.4" fill="none" stroke="#c814c8" stroke-width="4.8" stroke-dasharray="13.2 5.2" stroke-linejoin="round"/>
<circle cx="518.4" cy="573.0" r="5.2" fill="none" stroke="#c814c8" stroke-width="5.6"/>
<circle cx="529.8" cy="443.5" r="5.2" fill="none" stroke="#c814c8" stroke-width="5.6"/>
<circle cx="541.1" cy="315.6" r="5.2" fill="none" stroke="#c814c8" stroke-width="5.6"/>
<circle cx="552.4" cy="231.3" r="5.2" fill="none" stroke="#c814c8" stroke-width="5.6"/>
<circle cx="563.8" cy="194.0" r="5.2" fill="none" stroke="#c814c8" stroke-width="5.6"/>
<circle cx="575.1" cy="183.5" r="5.2" fill="none" stroke="#c814c8" stroke-width="5.6"/>
<circle cx="586.5" cy="197.0" r="5.2" fill="none" stroke="#c814c8" stroke-width="5.6"/>
<circle cx="597.9" cy="218.0" r="5.2" fill="none" stroke="#c814c8" stroke-width="5.6"/>
<circle cx="609.2" cy="242.0" r="5.2" fill="none" stroke="#c814c8" stroke-width="5.6"/>
<circle cx="620.5" cy="266.0" r="5.2" fill="none" stroke="#c814c8" stroke-width="5.6"/>
<circle cx="631.9" cy="288.7" r="5.2" fill="none" stroke="#c814c8" stroke-width="5.6"/>
<circle cx="643.2" cy="305.0" r="5.2" fill="none" stroke="#c814c8" stroke-width="5.6"/>
<circle cx="654.6" cy="326.0" r="5.2" fill="none" stroke="#c814c8" stroke-width="5.6"/>
<circle cx="665.9" cy="350.0" r="5.2" fill="none" stroke="#c814c8" stroke-width="5.6"/>
<circle cx="677.3" cy="382.8" r="5.2" fill="none" stroke="#c814c8" stroke-width="5.6"/>
<circle cx="688.6" cy="415.4" r="5.2" fill="none" stroke="#c814c8" stroke-width="5.6"/>
<circle cx="700.0" cy="447.0" r="5.2" fill="none" stroke="#c814c8" stroke-width="5.6"/>
<circle cx="711.3" cy="475.0" r="5.2" fill="none" stroke="#c814c8" stroke-width="5.6"/>
<circle cx="722.7" cy="500.0" r="5.2" fill="none" stroke="#c814c8" stroke-width="5.6"/>
<circle cx="734.0" cy="518.6" r="5.2" fill="none" stroke="#c814c8" stroke-width="5.6"/>
<circle cx="745.4" cy="535.2" r="5.2" fill="none" stroke="#c814c8" stroke-width="5.6"/>
<circle cx="756.8" cy="549.7" r="5.2" fill="none" stroke="#c814c8" stroke-width="5.6"/>
<circle cx="768.1" cy="560.0" r="5.2" fill="none" stroke="#c814c8" stroke-width="5.6"/>
<circle cx="779.5" cy="570.4" r="5.2" fill="none" stroke="#c814c8" stroke-width="5.6"/>
<circle cx="790.8" cy="578.7" r="5.2" fill="none" stroke="#c814c8" stroke-width="5.6"/>
<circle cx="802.1" cy="585.0" r="5.2" fill="none" stroke="#c814c8" stroke-width="5.6"/>
<circle cx="813.5" cy="590.3" r="5.2" fill="none" stroke="#c814c8" stroke-width="5.6"/>
<circle cx="824.8" cy="594.5" r="5.2" fill="none" stroke="#c814c8" stroke-width="5.6"/>
<circle cx="836.2" cy="598.6" r="5.2" fill="none" stroke="#c814c8" stroke-width="5.6"/>
<circle cx="847.5" cy="601.4" r="5.2" fill="none" stroke="#c814c8" stroke-width="5.6"/>
<path d="M517.8 599.0L518.3 594.8L518.8 591.0L519.3 587.4L519.8 583.9L520.3 580.5L520.8 577.1L521.3 573.8L521.8 570.6L522.3 567.4L522.8 564.2L523.3 561.2L523.8 558.1L524.3 555.1L524.8 552.1L525.3 549.2L525.8 546.2L526.3 543.3L526.8 540.4L527.3 537.5L527.8 534.6L528.3 531.6L528.8 528.7L529.3 525.7L529.8 522.7L530.3 519.7L530.8 516.7L531.3 513.6L531.8 510.6L532.3 507.6L532.8 504.6L533.3 501.6L533.8 498.6L534.3 495.6L534.8 492.6L535.3 489.7L535.8 486.7L536.3 483.8L536.8 480.9L537.3 478.0L537.8 475.1L538.3 472.3L538.8 469.5L539.3 466.7L539.8 464.0L540.3 461.3L540.8 458.6L541.3 455.9L541.8 453.3L542.3 450.8L542.8 448.2L543.3 445.7L543.8 443.2L544.3 440.7L544.8 438.2L545.3 435.8L545.8 433.4L546.3 431.0L546.8 428.6L547.3 426.2L547.8 423.8L548.3 421.5L548.8 419.2L549.3 416.8L549.8 414.5L550.3 412.2L550.8 409.9L551.3 407.6L551.8 405.4L552.3 403.1L552.8 400.8L553.3 398.5L553.8 396.2L554.3 393.9L554.8 391.6L555.3 389.3L555.8 386.9L556.3 384.6L556.8 382.3L557.3 380.1L557.8 377.8L558.3 375.6L558.8 373.3L559.3 371.2L559.8 369.0L560.3 366.9L560.8 364.8L561.3 362.8L561.8 360.8L562.3 358.8L562.8 356.9L563.3 355.1L563.8 353.3L564.3 351.6L564.8 349.8L565.3 348.1L565.8 346.4L566.3 344.7L566.8 343.1L567.3 341.4L567.8 339.8L568.3 338.2L568.8 336.7L569.3 335.1L569.8 333.6L570.3 332.1L570.8 330.7L571.3 329.3L571.8 328.0L572.3 326.6L572.8 325.4L573.3 324.1L573.8 322.9L574.3 321.8L574.8 320.7L575.3 319.7L575.8 318.7L576.3 317.7L576.8 316.8L577.3 315.9L577.8 315.0L578.3 314.1L578.8 313.3L579.3 312.5L579.8 311.7L580.3 310.9L580.8 310.1L581.3 309.4L581.8 308.7L582.3 307.9L582.8 307.2L583.3 306.5L583.8 305.8L584.3 305.2L584.8 304.5L585.3 303.8L585.8 303.1L586.3 302.5L586.8 301.8L587.3 301.1L587.8 300.4L588.3 299.6L588.8 298.9L589.3 298.1L589.8 297.4L590.3 296.6L590.8 295.9L591.3 295.2L591.8 294.5L592.3 293.8L592.8 293.1L593.3 292.5L593.8 291.9L594.3 291.3L594.8 290.8L595.3 290.4L595.8 290.0L596.3 289.6L596.8 289.3L597.3 289.1L597.8 289.0L598.3 288.9L598.8 288.8L599.3 288.8L599.8 288.7L600.3 288.6L600.8 288.6L601.3 288.5L601.8 288.4L602.3 288.4L602.8 288.3L603.3 288.3L603.8 288.2L604.3 288.2L604.8 288.2L605.3 288.1L605.8 288.1L606.3 288.1L606.8 288.0L607.3 288.0L607.8 288.0L608.3 288.0L608.8 288.0L609.3 288.0L609.8 288.0L610.3 288.1L610.8 288.2L611.3 288.3L611.8 288.4L612.3 288.6L612.8 288.8L613.3 289.0L613.8 289.2L614.3 289.5L614.8 289.7L615.3 290.0L615.8 290.3L616.3 290.6L616.8 290.9L617.3 291.2L617.8 291.5L618.3 291.7L618.8 292.0L619.3 292.3L619.8 292.6L620.3 292.9L620.8 293.1L621.3 293.4L621.8 293.7L622.3 293.9L622.8 294.2L623.3 294.5L623.8 294.8L624.3 295.1L624.8 295.4L625.3 295.7L625.8 296.1L626.3 296.4L626.8 296.7L627.3 297.0L627.8 297.3L628.3 297.7L628.8 298.0L629.3 298.3L629.8 298.6L630.3 299.0L630.8 299.3L631.3 299.6L631.8 299.9L632.3 300.3L632.8 300.6L633.3 300.9L633.8 301.2L634.3 301.6L634.8 301.9L635.3 302.2L635.8 302.6L636.3 302.9L636.8 303.2L637.3 303.6L637.8 303.9L638.3 304.2L638.8 304.6L639.3 304.9L639.8 305.2L640.3 305.6L640.8 305.9L641.3 306.2L641.8 306.6L642.3 306.9L642.8 307.2L643.3 307.5L643.8 307.8L644.3 308.1L644.8 308.4L645.3 308.7L645.8 309.0L646.3 309.3L646.8 309.6L647.3 309.8L647.8 310.1L648.3 310.4L648.8 310.7L649.3 310.9L649.8 311.2L650.3 311.5L650.8 311.8L651.3 312.1L651.8 312.4L652.3 312.8L652.8 313.1L653.3 313.5L653.8 313.9L654.3 314.3L654.8 314.7L655.3 315.1L655.8 315.6L656.3 316.1L656.8 316.6L657.3 317.1L657.8 317.7L658.3 318.3L658.8 318.9L659.3 319.5L659.8 320.2L660.3 320.8L660.8 321.5L661.3 322.2L661.8 322.9L662.3 323.6L662.8 324.3L663.3 325.0L663.8 325.8L664.3 326.5L664.8 327.3L665.3 328.0L665.8 328.8L666.3 329.5L666.8 330.3L667.3 331.2L667.8 332.0L668.3 332.9L668.8 333.8L669.3 334.7L669.8 335.6L670.3 336.6L670.8 337.5L671.3 338.5L671.8 339.5L672.3 340.5L672.8 341.5L673.3 342.4L673.8 343.4L674.3 344.4L674.8 345.4L675.3 346.3L675.8 347.3L676.3 348.2L676.8 349.1L677.3 350.0L677.8 350.9L678.3 351.7L678.8 352.5L679.3 353.3L679.8 354.1L680.3 354.9L680.8 355.7L681.3 356.5L681.8 357.2L682.3 358.0L682.8 358.8L683.3 359.6L683.8 360.3L684.3 361.1L684.8 362.0L685.3 362.8L685.8 363.6L686.3 364.5L686.8 365.4L687.3 366.3L687.8 367.3L688.3 368.3L688.8 369.3L689.3 370.4L689.8 371.6L690.3 372.8L690.8 374.0L691.3 375.4L691.8 376.7L692.3 378.1L692.8 379.5L693.3 381.0L693.8 382.4L694.3 383.9L694.8 385.4L695.3 386.9L695.8 388.4L696.3 389.9L696.8 391.3L697.3 392.8L697.8 394.2L698.3 395.6L698.8 396.9L699.3 398.2L699.8 399.5L700.3 400.7L700.8 401.9L701.3 403.1L701.8 404.3L702.3 405.4L702.8 406.5L703.3 407.7L703.8 408.8L704.3 409.9L704.8 410.9L705.3 412.0L705.8 413.1L706.3 414.2L706.8 415.2L707.3 416.3L707.8 417.4L708.3 418.4L708.8 419.5L709.3 420.6L709.8 421.6L710.3 422.7L710.8 423.8L711.3 424.9L711.8 426.0L712.3 427.1L712.8 428.2L713.3 429.3L713.8 430.5L714.3 431.6L714.8 432.7L715.3 433.9L715.8 435.0L716.3 436.1L716.8 437.3L717.3 438.4L717.8 439.5L718.3 440.6L718.8 441.7L719.3 442.8L719.8 443.9L720.3 445.0L720.8 446.1L721.3 447.1L721.8 448.2L722.3 449.2L722.8 450.2L723.3 451.2L723.8 452.2L724.3 453.2L724.8 454.1L725.3 455.1L725.8 456.1L726.3 457.0L726.8 458.0L727.3 458.9L727.8 459.8L728.3 460.7L728.8 461.7L729.3 462.6L729.8 463.5L730.3 464.4L730.8 465.3L731.3 466.2L731.8 467.1L732.3 467.9L732.8 468.8L733.3 469.7L733.8 470.6L734.3 471.4L734.8 472.3L735.3 473.2L735.8 474.0L736.3 474.9L736.8 475.8L737.3 476.6L737.8 477.5L738.3 478.3L738.8 479.2L739.3 480.0L739.8 480.9L740.3 481.7L740.8 482.5L741.3 483.3L741.8 484.1L742.3 484.9L742.8 485.7L743.3 486.5L743.8 487.2L744.3 488.0L744.8 488.7L745.3 489.5L745.8 490.2L746.3 490.9L746.8 491.6L747.3 492.2L747.8 492.9L748.3 493.5L748.8 494.2L749.3 494.8L749.8 495.5L750.3 496.1L750.8 496.7L751.3 497.3L751.8 497.9L752.3 498.6L752.8 499.2L753.3 499.8L753.8 500.4L754.3 501.0L754.8 501.6L755.3 502.3L755.8 502.9L756.3 503.5L756.8 504.2L757.3 504.8L757.8 505.5L758.3 506.1L758.8 506.8L759.3 507.5L759.8 508.1L760.3 508.8L760.8 509.5L761.3 510.1L761.8 510.8L762.3 511.5L762.8 512.2L763.3 512.8L763.8 513.5L764.3 514.1L764.8 514.8L765.3 515.5L765.8 516.1L766.3 516.7L766.8 517.4L767.3 518.0L767.8 518.6L768.3 519.2L768.8 519.9L769.3 520.5L769.8 521.1L770.3 521.7L770.8 522.3L771.3 522.9L771.8 523.5L772.3 524.1L772.8 524.7L773.3 525.3L773.8 525.9L774.3 526.4L774.8 527.0L775.3 527.6L775.8 528.1L776.3 528.7L776.8 529.2L777.3 529.8L777.8 530.3L778.3 530.8L778.8 531.3L779.3 531.9L779.8 532.3L780.3 532.8L780.8 533.3L781.3 533.8L781.8 534.3L782.3 534.7L782.8 535.2L783.3 535.6L783.8 536.1L784.3 536.5L784.8 537.0L785.3 537.4L785.8 537.8L786.3 538.3L786.8 538.7L787.3 539.1L787.8 539.5L788.3 540.0L788.8 540.4L789.3 540.8L789.8 541.2L790.3 541.6L790.8 542.0L791.3 542.4L791.8 542.8L792.3 543.2L792.8 543.6L793.3 544.0L793.8 544.4L794.3 544.8L794.8 545.2L795.3 545.5L795.8 545.9L796.3 546.3L796.8 546.7L797.3 547.1L797.8 547.4L798.3 547.8L798.8 548.2L799.3 548.5L799.8 548.9L800.3 549.2L800.8 549.6L801.3 549.9L801.8 550.3L802.3 550.6L802.8 550.9L803.3 551.3L803.8 551.6L804.3 551.9L804.8 552.2L805.3 552.6L805.8 552.9L806.3 553.2L806.8 553.5L807.3 553.8L807.8 554.1L808.3 554.4L808.8 554.7L809.3 555.0L809.8 555.3L810.3 555.6L810.8 555.9L811.3 556.2L811.8 556.5L812.3 556.8L812.8 557.1L813.3 557.4L813.8 557.7L814.3 558.0L814.8 558.2L815.3 558.5L815.8 558.8L816.3 559.0L816.8 559.3L817.3 559.6L817.8 559.8L818.3 560.1L818.8 560.4L819.3 560.6L819.8 560.9L820.3 561.2L820.8 561.4L821.3 561.7L821.8 561.9L822.3 562.2L822.8 562.4L823.3 562.7L823.8 563.0L824.3 563.2L824.8 563.5L825.3 563.7L825.8 564.0L826.3 564.3L826.8 564.5L827.3 564.8L827.8 565.0L828.3 565.3L828.8 565.6L829.3 565.8L829.8 566.1L830.3 566.3L830.8 566.6L831.3 566.9L831.8 567.1L832.3 567.4L832.8 567.6L833.3 567.9L833.8 568.1L834.3 568.4L834.8 568.6L835.3 568.9L835.8 569.1L836.3 569.3L836.8 569.6L837.3 569.8L837.8 570.0L838.3 570.3L838.8 570.5L839.3 570.7L839.8 571.0L840.3 571.2L840.8 571.4L841.3 571.6L841.8 571.8L842.3 572.1L842.8 572.3L843.3 572.5L843.8 572.7L844.3 572.9L844.8 573.1L845.3 573.4L845.8 573.6L846.3 573.8L846.8 574.0L847.3 574.2L847.8 574.4L848.3 574.6L848.8 574.8L849.3 575.0L849.8 575.2L850.3 575.4L850.8 575.6L851.3 575.8L851.8 576.0L852.3 576.2L852.8 576.4L853.3 576.6L853.8 576.8L854.3 577.0L854.8 577.2L855.3 577.4L855.8 577.6L856.3 577.8L856.8 578.0L857.3 578.2L857.8 578.4L858.2 578.5" fill="none" stroke="#142a28" stroke-width="4.8" stroke-dasharray="13.2 5.2" stroke-linejoin="round"/>
<path d="M512.8 588.4L524.0 599.6M512.8 599.6L524.0 588.4" stroke="#142a28" stroke-width="4.3" stroke-linecap="butt" fill="none"/>
<path d="M524.1 517.4L535.4 528.6M524.1 528.6L535.4 517.4" stroke="#142a28" stroke-width="4.3" stroke-linecap="butt" fill="none"/>
<path d="M535.5 451.4L546.7 462.6M535.5 462.6L546.7 451.4" stroke="#142a28" stroke-width="4.3" stroke-linecap="butt" fill="none"/>
<path d="M546.8 396.8L558.0 408.0M546.8 408.0L558.0 396.8" stroke="#142a28" stroke-width="4.3" stroke-linecap="butt" fill="none"/>
<path d="M558.2 347.7L569.4 358.9M558.2 358.9L569.4 347.7" stroke="#142a28" stroke-width="4.3" stroke-linecap="butt" fill="none"/>
<path d="M569.5 314.4L580.8 325.6M569.5 325.6L580.8 314.4" stroke="#142a28" stroke-width="4.3" stroke-linecap="butt" fill="none"/>
<path d="M580.9 296.6L592.1 307.8M580.9 307.8L592.1 296.6" stroke="#142a28" stroke-width="4.3" stroke-linecap="butt" fill="none"/>
<path d="M592.2 283.4L603.5 294.6M592.2 294.6L603.5 283.4" stroke="#142a28" stroke-width="4.3" stroke-linecap="butt" fill="none"/>
<path d="M603.6 282.4L614.8 293.6M603.6 293.6L614.8 282.4" stroke="#142a28" stroke-width="4.3" stroke-linecap="butt" fill="none"/>
<path d="M614.9 287.4L626.1 298.6M614.9 298.6L626.1 287.4" stroke="#142a28" stroke-width="4.3" stroke-linecap="butt" fill="none"/>
<path d="M626.3 294.4L637.5 305.6M626.3 305.6L637.5 294.4" stroke="#142a28" stroke-width="4.3" stroke-linecap="butt" fill="none"/>
<path d="M637.6 301.9L648.9 313.1M637.6 313.1L648.9 301.9" stroke="#142a28" stroke-width="4.3" stroke-linecap="butt" fill="none"/>
<path d="M649.0 308.9L660.2 320.1M649.0 320.1L660.2 308.9" stroke="#142a28" stroke-width="4.3" stroke-linecap="butt" fill="none"/>
<path d="M660.3 323.4L671.5 334.6M660.3 334.6L671.5 323.4" stroke="#142a28" stroke-width="4.3" stroke-linecap="butt" fill="none"/>
<path d="M671.7 344.4L682.9 355.6M671.7 355.6L682.9 344.4" stroke="#142a28" stroke-width="4.3" stroke-linecap="butt" fill="none"/>
<path d="M683.0 363.4L694.2 374.6M683.0 374.6L694.2 363.4" stroke="#142a28" stroke-width="4.3" stroke-linecap="butt" fill="none"/>
<path d="M694.4 394.4L705.6 405.6M694.4 405.6L705.6 394.4" stroke="#142a28" stroke-width="4.3" stroke-linecap="butt" fill="none"/>
<path d="M705.7 419.4L716.9 430.6M705.7 430.6L716.9 419.4" stroke="#142a28" stroke-width="4.3" stroke-linecap="butt" fill="none"/>
<path d="M717.1 444.4L728.3 455.6M717.1 455.6L728.3 444.4" stroke="#142a28" stroke-width="4.3" stroke-linecap="butt" fill="none"/>
<path d="M728.4 465.4L739.6 476.6M728.4 476.6L739.6 465.4" stroke="#142a28" stroke-width="4.3" stroke-linecap="butt" fill="none"/>
<path d="M739.8 484.0L751.0 495.2M739.8 495.2L751.0 484.0" stroke="#142a28" stroke-width="4.3" stroke-linecap="butt" fill="none"/>
<path d="M751.1 498.5L762.4 509.7M751.1 509.7L762.4 498.5" stroke="#142a28" stroke-width="4.3" stroke-linecap="butt" fill="none"/>
<path d="M762.5 513.4L773.7 524.6M762.5 524.6L773.7 513.4" stroke="#142a28" stroke-width="4.3" stroke-linecap="butt" fill="none"/>
<path d="M773.9 526.4L785.1 537.6M773.9 537.6L785.1 526.4" stroke="#142a28" stroke-width="4.3" stroke-linecap="butt" fill="none"/>
<path d="M785.2 536.4L796.4 547.6M785.2 547.6L796.4 536.4" stroke="#142a28" stroke-width="4.3" stroke-linecap="butt" fill="none"/>
<path d="M796.5 544.9L807.8 556.1M796.5 556.1L807.8 544.9" stroke="#142a28" stroke-width="4.3" stroke-linecap="butt" fill="none"/>
<path d="M807.9 551.9L819.1 563.1M807.9 563.1L819.1 551.9" stroke="#142a28" stroke-width="4.3" stroke-linecap="butt" fill="none"/>
<path d="M819.2 557.9L830.4 569.1M819.2 569.1L830.4 557.9" stroke="#142a28" stroke-width="4.3" stroke-linecap="butt" fill="none"/>
<path d="M830.6 563.7L841.8 574.9M830.6 574.9L841.8 563.7" stroke="#142a28" stroke-width="4.3" stroke-linecap="butt" fill="none"/>
<path d="M841.9 568.7L853.1 579.9M841.9 579.9L853.1 568.7" stroke="#142a28" stroke-width="4.3" stroke-linecap="butt" fill="none"/>
<path d="M517.8 598.0L518.3 590.9L518.8 587.0L519.3 583.5L519.8 580.2L520.3 577.2L520.8 574.4L521.3 571.7L521.8 569.3L522.3 567.0L522.8 564.8L523.3 562.8L523.8 560.9L524.3 559.1L524.8 557.4L525.3 555.7L525.8 554.1L526.3 552.5L526.8 550.9L527.3 549.4L527.8 547.7L528.3 546.1L528.8 544.4L529.3 542.7L529.8 540.8L530.3 538.9L530.8 537.1L531.3 535.2L531.8 533.3L532.3 531.5L532.8 529.7L533.3 527.9L533.8 526.1L534.3 524.3L534.8 522.6L535.3 520.8L535.8 519.1L536.3 517.5L536.8 515.8L537.3 514.2L537.8 512.6L538.3 511.1L538.8 509.5L539.3 508.0L539.8 506.6L540.3 505.2L540.8 503.8L541.3 502.5L541.8 501.2L542.3 499.9L542.8 498.6L543.3 497.4L543.8 496.2L544.3 495.0L544.8 493.8L545.3 492.6L545.8 491.5L546.3 490.4L546.8 489.3L547.3 488.2L547.8 487.2L548.3 486.1L548.8 485.1L549.3 484.1L549.8 483.1L550.3 482.1L550.8 481.1L551.3 480.2L551.8 479.2L552.3 478.3L552.8 477.4L553.3 476.5L553.8 475.6L554.3 474.7L554.8 473.9L555.3 473.1L555.8 472.3L556.3 471.5L556.8 470.7L557.3 469.9L557.8 469.2L558.3 468.4L558.8 467.7L559.3 466.9L559.8 466.2L560.3 465.4L560.8 464.7L561.3 463.9L561.8 463.2L562.3 462.4L562.8 461.6L563.3 460.8L563.8 460.0L564.3 459.2L564.8 458.4L565.3 457.5L565.8 456.7L566.3 455.9L566.8 455.0L567.3 454.2L567.8 453.3L568.3 452.5L568.8 451.6L569.3 450.8L569.8 449.9L570.3 449.1L570.8 448.3L571.3 447.4L571.8 446.6L572.3 445.7L572.8 444.9L573.3 444.0L573.8 443.2L574.3 442.4L574.8 441.6L575.3 440.8L575.8 439.9L576.3 439.1L576.8 438.3L577.3 437.5L577.8 436.7L578.3 435.9L578.8 435.2L579.3 434.4L579.8 433.6L580.3 432.8L580.8 432.0L581.3 431.2L581.8 430.4L582.3 429.7L582.8 428.9L583.3 428.1L583.8 427.3L584.3 426.5L584.8 425.7L585.3 424.9L585.8 424.1L586.3 423.3L586.8 422.5L587.3 421.7L587.8 420.9L588.3 420.1L588.8 419.3L589.3 418.5L589.8 417.7L590.3 416.8L590.8 416.0L591.3 415.2L591.8 414.4L592.3 413.6L592.8 412.8L593.3 411.9L593.8 411.1L594.3 410.3L594.8 409.5L595.3 408.7L595.8 407.8L596.3 407.0L596.8 406.2L597.3 405.4L597.8 404.6L598.3 403.8L598.8 402.9L599.3 402.1L599.8 401.3L600.3 400.4L600.8 399.6L601.3 398.8L601.8 397.9L602.3 397.1L602.8 396.3L603.3 395.4L603.8 394.6L604.3 393.8L604.8 392.9L605.3 392.1L605.8 391.3L606.3 390.5L606.8 389.7L607.3 388.9L607.8 388.1L608.3 387.4L608.8 386.6L609.3 385.9L609.8 385.1L610.3 384.4L610.8 383.7L611.3 382.9L611.8 382.2L612.3 381.5L612.8 380.8L613.3 380.1L613.8 379.4L614.3 378.8L614.8 378.1L615.3 377.4L615.8 376.7L616.3 376.1L616.8 375.4L617.3 374.7L617.8 374.1L618.3 373.4L618.8 372.8L619.3 372.1L619.8 371.5L620.3 370.8L620.8 370.2L621.3 369.5L621.8 368.9L622.3 368.2L622.8 367.6L623.3 367.0L623.8 366.3L624.3 365.7L624.8 365.1L625.3 364.5L625.8 363.8L626.3 363.2L626.8 362.6L627.3 362.0L627.8 361.4L628.3 360.8L628.8 360.2L629.3 359.6L629.8 359.0L630.3 358.4L630.8 357.8L631.3 357.2L631.8 356.6L632.3 356.0L632.8 355.5L633.3 354.9L633.8 354.3L634.3 353.7L634.8 353.1L635.3 352.6L635.8 352.0L636.3 351.4L636.8 350.9L637.3 350.3L637.8 349.7L638.3 349.2L638.8 348.6L639.3 348.1L639.8 347.5L640.3 347.0L640.8 346.5L641.3 346.0L641.8 345.5L642.3 344.9L642.8 344.4L643.3 344.0L643.8 343.5L644.3 343.0L644.8 342.5L645.3 342.0L645.8 341.5L646.3 341.0L646.8 340.5L647.3 340.0L647.8 339.5L648.3 339.0L648.8 338.5L649.3 338.0L649.8 337.6L650.3 337.1L650.8 336.7L651.3 336.3L651.8 335.9L652.3 335.5L652.8 335.1L653.3 334.8L653.8 334.5L654.3 334.2L654.8 333.9L655.3 333.6L655.8 333.3L656.3 333.1L656.8 332.8L657.3 332.5L657.8 332.2L658.3 332.0L658.8 331.7L659.3 331.4L659.8 331.2L660.3 331.0L660.8 330.7L661.3 330.5L661.8 330.3L662.3 330.2L662.8 330.0L663.3 329.9L663.8 329.7L664.3 329.6L664.8 329.6L665.3 329.5L665.8 329.5L666.3 329.5L666.8 329.5L667.3 329.5L667.8 329.6L668.3 329.6L668.8 329.7L669.3 329.8L669.8 329.8L670.3 329.9L670.8 330.0L671.3 330.1L671.8 330.3L672.3 330.4L672.8 330.5L673.3 330.7L673.8 330.8L674.3 331.0L674.8 331.1L675.3 331.3L675.8 331.5L676.3 331.6L676.8 331.8L677.3 332.0L677.8 332.2L678.3 332.5L678.8 332.9L679.3 333.3L679.8 333.8L680.3 334.3L680.8 334.9L681.3 335.5L681.8 336.2L682.3 336.9L682.8 337.6L683.3 338.3L683.8 339.1L684.3 339.9L684.8 340.7L685.3 341.5L685.8 342.4L686.3 343.2L686.8 344.0L687.3 344.9L687.8 345.7L688.3 346.5L688.8 347.2L689.3 348.0L689.8 348.9L690.3 349.7L690.8 350.6L691.3 351.5L691.8 352.4L692.3 353.4L692.8 354.4L693.3 355.3L693.8 356.3L694.3 357.3L694.8 358.3L695.3 359.3L695.8 360.3L696.3 361.2L696.8 362.2L697.3 363.2L697.8 364.1L698.3 365.0L698.8 365.9L699.3 366.8L699.8 367.7L700.3 368.5L700.8 369.3L701.3 370.1L701.8 370.9L702.3 371.7L702.8 372.5L703.3 373.2L703.8 374.0L704.3 374.7L704.8 375.5L705.3 376.2L705.8 376.9L706.3 377.7L706.8 378.4L707.3 379.1L707.8 379.8L708.3 380.6L708.8 381.3L709.3 382.0L709.8 382.7L710.3 383.5L710.8 384.2L711.3 384.9L711.8 385.7L712.3 386.4L712.8 387.1L713.3 387.9L713.8 388.6L714.3 389.3L714.8 390.0L715.3 390.8L715.8 391.5L716.3 392.2L716.8 392.9L717.3 393.6L717.8 394.4L718.3 395.1L718.8 395.8L719.3 396.5L719.8 397.3L720.3 398.0L720.8 398.7L721.3 399.4L721.8 400.2L722.3 400.9L722.8 401.6L723.3 402.4L723.8 403.1L724.3 403.9L724.8 404.6L725.3 405.4L725.8 406.1L726.3 406.9L726.8 407.6L727.3 408.4L727.8 409.1L728.3 409.9L728.8 410.6L729.3 411.4L729.8 412.1L730.3 412.9L730.8 413.7L731.3 414.4L731.8 415.2L732.3 415.9L732.8 416.6L733.3 417.4L733.8 418.1L734.3 418.9L734.8 419.6L735.3 420.3L735.8 421.1L736.3 421.8L736.8 422.5L737.3 423.3L737.8 424.0L738.3 424.7L738.8 425.5L739.3 426.2L739.8 426.9L740.3 427.6L740.8 428.4L741.3 429.1L741.8 429.8L742.3 430.5L742.8 431.3L743.3 432.0L743.8 432.7L744.3 433.4L744.8 434.1L745.3 434.9L745.8 435.6L746.3 436.3L746.8 437.0L747.3 437.7L747.8 438.4L748.3 439.1L748.8 439.9L749.3 440.6L749.8 441.3L750.3 442.0L750.8 442.7L751.3 443.4L751.8 444.1L752.3 444.8L752.8 445.5L753.3 446.2L753.8 446.9L754.3 447.6L754.8 448.3L755.3 449.0L755.8 449.7L756.3 450.4L756.8 451.1L757.3 451.7L757.8 452.4L758.3 453.1L758.8 453.8L759.3 454.4L759.8 455.1L760.3 455.8L760.8 456.4L761.3 457.1L761.8 457.8L762.3 458.4L762.8 459.1L763.3 459.7L763.8 460.4L764.3 461.1L764.8 461.7L765.3 462.4L765.8 463.0L766.3 463.7L766.8 464.3L767.3 465.0L767.8 465.6L768.3 466.3L768.8 466.9L769.3 467.6L769.8 468.2L770.3 468.8L770.8 469.5L771.3 470.1L771.8 470.8L772.3 471.4L772.8 472.0L773.3 472.7L773.8 473.3L774.3 473.9L774.8 474.6L775.3 475.2L775.8 475.9L776.3 476.5L776.8 477.1L777.3 477.8L777.8 478.4L778.3 479.0L778.8 479.7L779.3 480.3L779.8 480.9L780.3 481.6L780.8 482.2L781.3 482.9L781.8 483.6L782.3 484.2L782.8 484.9L783.3 485.5L783.8 486.2L784.3 486.9L784.8 487.5L785.3 488.2L785.8 488.8L786.3 489.5L786.8 490.1L787.3 490.8L787.8 491.4L788.3 492.0L788.8 492.6L789.3 493.3L789.8 493.8L790.3 494.4L790.8 495.0L791.3 495.6L791.8 496.1L792.3 496.7L792.8 497.2L793.3 497.7L793.8 498.3L794.3 498.8L794.8 499.3L795.3 499.8L795.8 500.3L796.3 500.8L796.8 501.3L797.3 501.8L797.8 502.3L798.3 502.8L798.8 503.3L799.3 503.8L799.8 504.3L800.3 504.7L800.8 505.2L801.3 505.7L801.8 506.2L802.3 506.6L802.8 507.1L803.3 507.6L803.8 508.0L804.3 508.5L804.8 509.0L805.3 509.4L805.8 509.9L806.3 510.3L806.8 510.7L807.3 511.2L807.8 511.6L808.3 512.1L808.8 512.5L809.3 512.9L809.8 513.4L810.3 513.8L810.8 514.2L811.3 514.6L811.8 515.1L812.3 515.5L812.8 515.9L813.3 516.3L813.8 516.7L814.3 517.2L814.8 517.6L815.3 518.0L815.8 518.4L816.3 518.8L816.8 519.2L817.3 519.6L817.8 520.0L818.3 520.4L818.8 520.8L819.3 521.2L819.8 521.6L820.3 522.0L820.8 522.4L821.3 522.8L821.8 523.1L822.3 523.5L822.8 523.9L823.3 524.3L823.8 524.7L824.3 525.1L824.8 525.5L825.3 525.8L825.8 526.2L826.3 526.6L826.8 527.0L827.3 527.4L827.8 527.7L828.3 528.1L828.8 528.5L829.3 528.8L829.8 529.2L830.3 529.6L830.8 530.0L831.3 530.3L831.8 530.7L832.3 531.1L832.8 531.4L833.3 531.8L833.8 532.2L834.3 532.6L834.8 532.9L835.3 533.3L835.8 533.7L836.3 534.1L836.8 534.5L837.3 534.9L837.8 535.2L838.3 535.6L838.8 536.0L839.3 536.4L839.8 536.8L840.3 537.2L840.8 537.6L841.3 538.0L841.8 538.4L842.3 538.8L842.8 539.2L843.3 539.6L843.8 540.0L844.3 540.4L844.8 540.8L845.3 541.2L845.8 541.6L846.3 542.0L846.8 542.4L847.3 542.8L847.8 543.2L848.3 543.6L848.8 544.0L849.3 544.3L849.8 544.7L850.3 545.1L850.8 545.5L851.3 545.9L851.8 546.2L852.3 546.6L852.8 547.0L853.3 547.4L853.8 547.7L854.3 548.1L854.8 548.5L855.3 548.9L855.8 549.2L856.3 549.6L856.8 550.0L857.3 550.3L857.8 550.7L858.2 551.0" fill="none" stroke="#3cc0bc" stroke-width="4.8" stroke-dasharray="13.2 5.2" stroke-linejoin="round"/>
<rect x="512.7" y="584.3" width="11.4" height="11.4" fill="none" stroke="#3cc0bc" stroke-width="4.8"/>
<rect x="524.0" y="535.3" width="11.4" height="11.4" fill="none" stroke="#3cc0bc" stroke-width="4.8"/>
<rect x="535.4" y="497.3" width="11.4" height="11.4" fill="none" stroke="#3cc0bc" stroke-width="4.8"/>
<rect x="546.7" y="472.3" width="11.4" height="11.4" fill="none" stroke="#3cc0bc" stroke-width="4.8"/>
<rect x="558.1" y="454.3" width="11.4" height="11.4" fill="none" stroke="#3cc0bc" stroke-width="4.8"/>
<rect x="569.4" y="435.3" width="11.4" height="11.4" fill="none" stroke="#3cc0bc" stroke-width="4.8"/>
<rect x="580.8" y="417.3" width="11.4" height="11.4" fill="none" stroke="#3cc0bc" stroke-width="4.8"/>
<rect x="592.1" y="398.8" width="11.4" height="11.4" fill="none" stroke="#3cc0bc" stroke-width="4.8"/>
<rect x="603.5" y="380.3" width="11.4" height="11.4" fill="none" stroke="#3cc0bc" stroke-width="4.8"/>
<rect x="614.8" y="364.8" width="11.4" height="11.4" fill="none" stroke="#3cc0bc" stroke-width="4.8"/>
<rect x="626.2" y="350.8" width="11.4" height="11.4" fill="none" stroke="#3cc0bc" stroke-width="4.8"/>
<rect x="637.5" y="338.3" width="11.4" height="11.4" fill="none" stroke="#3cc0bc" stroke-width="4.8"/>
<rect x="648.9" y="328.3" width="11.4" height="11.4" fill="none" stroke="#3cc0bc" stroke-width="4.8"/>
<rect x="660.2" y="323.8" width="11.4" height="11.4" fill="none" stroke="#3cc0bc" stroke-width="4.8"/>
<rect x="671.6" y="326.3" width="11.4" height="11.4" fill="none" stroke="#3cc0bc" stroke-width="4.8"/>
<rect x="682.9" y="341.3" width="11.4" height="11.4" fill="none" stroke="#3cc0bc" stroke-width="4.8"/>
<rect x="694.3" y="362.3" width="11.4" height="11.4" fill="none" stroke="#3cc0bc" stroke-width="4.8"/>
<rect x="705.6" y="379.3" width="11.4" height="11.4" fill="none" stroke="#3cc0bc" stroke-width="4.8"/>
<rect x="717.0" y="395.8" width="11.4" height="11.4" fill="none" stroke="#3cc0bc" stroke-width="4.8"/>
<rect x="728.3" y="412.8" width="11.4" height="11.4" fill="none" stroke="#3cc0bc" stroke-width="4.8"/>
<rect x="739.7" y="429.3" width="11.4" height="11.4" fill="none" stroke="#3cc0bc" stroke-width="4.8"/>
<rect x="751.0" y="445.3" width="11.4" height="11.4" fill="none" stroke="#3cc0bc" stroke-width="4.8"/>
<rect x="762.4" y="460.3" width="11.4" height="11.4" fill="none" stroke="#3cc0bc" stroke-width="4.8"/>
<rect x="773.8" y="474.8" width="11.4" height="11.4" fill="none" stroke="#3cc0bc" stroke-width="4.8"/>
<rect x="785.1" y="489.3" width="11.4" height="11.4" fill="none" stroke="#3cc0bc" stroke-width="4.8"/>
<rect x="796.4" y="500.8" width="11.4" height="11.4" fill="none" stroke="#3cc0bc" stroke-width="4.8"/>
<rect x="807.8" y="510.8" width="11.4" height="11.4" fill="none" stroke="#3cc0bc" stroke-width="4.8"/>
<rect x="819.1" y="519.8" width="11.4" height="11.4" fill="none" stroke="#3cc0bc" stroke-width="4.8"/>
<rect x="830.5" y="528.3" width="11.4" height="11.4" fill="none" stroke="#3cc0bc" stroke-width="4.8"/>
<rect x="841.8" y="537.3" width="11.4" height="11.4" fill="none" stroke="#3cc0bc" stroke-width="4.8"/>
<path d="M517.8 598.0L518.3 597.2L518.8 596.4L519.3 595.5L519.8 594.5L520.3 593.3L520.8 592.0L521.3 590.5L521.8 589.0L522.3 587.3L522.8 585.5L523.3 583.7L523.8 581.8L524.3 579.8L524.8 577.8L525.3 575.7L525.8 573.6L526.3 571.5L526.8 569.4L527.3 567.3L527.8 565.2L528.3 563.1L528.8 561.1L529.3 559.1L529.8 557.2L530.3 555.4L530.8 553.6L531.3 552.0L531.8 550.4L532.3 548.9L532.8 547.4L533.3 545.9L533.8 544.5L534.3 543.1L534.8 541.7L535.3 540.4L535.8 539.0L536.3 537.7L536.8 536.4L537.3 535.1L537.8 533.8L538.3 532.6L538.8 531.3L539.3 530.1L539.8 528.8L540.3 527.6L540.8 526.4L541.3 525.1L541.8 523.9L542.3 522.7L542.8 521.5L543.3 520.2L543.8 519.0L544.3 517.8L544.8 516.5L545.3 515.3L545.8 514.0L546.3 512.8L546.8 511.6L547.3 510.3L547.8 509.1L548.3 507.9L548.8 506.7L549.3 505.5L549.8 504.3L550.3 503.1L550.8 502.0L551.3 500.9L551.8 499.8L552.3 498.7L552.8 497.6L553.3 496.6L553.8 495.5L554.3 494.6L554.8 493.6L555.3 492.7L555.8 491.8L556.3 490.9L556.8 490.1L557.3 489.3L557.8 488.5L558.3 487.8L558.8 487.0L559.3 486.3L559.8 485.7L560.3 485.0L560.8 484.3L561.3 483.7L561.8 483.1L562.3 482.5L562.8 481.9L563.3 481.2L563.8 480.6L564.3 480.0L564.8 479.4L565.3 478.8L565.8 478.2L566.3 477.6L566.8 476.9L567.3 476.3L567.8 475.6L568.3 474.9L568.8 474.2L569.3 473.5L569.8 472.8L570.3 472.0L570.8 471.3L571.3 470.6L571.8 469.9L572.3 469.1L572.8 468.4L573.3 467.7L573.8 466.9L574.3 466.2L574.8 465.4L575.3 464.7L575.8 464.0L576.3 463.2L576.8 462.5L577.3 461.8L577.8 461.0L578.3 460.3L578.8 459.6L579.3 458.9L579.8 458.2L580.3 457.5L580.8 456.8L581.3 456.1L581.8 455.4L582.3 454.7L582.8 454.0L583.3 453.3L583.8 452.6L584.3 451.9L584.8 451.2L585.3 450.5L585.8 449.8L586.3 449.1L586.8 448.4L587.3 447.7L587.8 447.0L588.3 446.3L588.8 445.6L589.3 445.0L589.8 444.3L590.3 443.6L590.8 442.9L591.3 442.3L591.8 441.6L592.3 440.9L592.8 440.3L593.3 439.6L593.8 439.0L594.3 438.3L594.8 437.7L595.3 437.0L595.8 436.4L596.3 435.8L596.8 435.2L597.3 434.5L597.8 433.9L598.3 433.3L598.8 432.7L599.3 432.1L599.8 431.5L600.3 430.9L600.8 430.3L601.3 429.6L601.8 429.0L602.3 428.4L602.8 427.8L603.3 427.2L603.8 426.5L604.3 425.9L604.8 425.3L605.3 424.6L605.8 424.0L606.3 423.3L606.8 422.7L607.3 422.0L607.8 421.3L608.3 420.6L608.8 419.9L609.3 419.2L609.8 418.5L610.3 417.8L610.8 417.1L611.3 416.3L611.8 415.6L612.3 414.9L612.8 414.1L613.3 413.4L613.8 412.6L614.3 411.8L614.8 411.1L615.3 410.3L615.8 409.6L616.3 408.8L616.8 408.0L617.3 407.2L617.8 406.5L618.3 405.7L618.8 404.9L619.3 404.1L619.8 403.3L620.3 402.6L620.8 401.8L621.3 401.0L621.8 400.2L622.3 399.4L622.8 398.5L623.3 397.7L623.8 396.9L624.3 396.1L624.8 395.3L625.3 394.4L625.8 393.6L626.3 392.8L626.8 392.0L627.3 391.1L627.8 390.3L628.3 389.5L628.8 388.6L629.3 387.8L629.8 387.0L630.3 386.2L630.8 385.3L631.3 384.5L631.8 383.7L632.3 382.9L632.8 382.1L633.3 381.2L633.8 380.4L634.3 379.6L634.8 378.7L635.3 377.9L635.8 377.0L636.3 376.2L636.8 375.4L637.3 374.5L637.8 373.7L638.3 372.9L638.8 372.1L639.3 371.2L639.8 370.4L640.3 369.7L640.8 368.9L641.3 368.1L641.8 367.3L642.3 366.6L642.8 365.9L643.3 365.1L643.8 364.4L644.3 363.7L644.8 363.0L645.3 362.3L645.8 361.7L646.3 361.0L646.8 360.3L647.3 359.6L647.8 359.0L648.3 358.3L648.8 357.7L649.3 357.0L649.8 356.4L650.3 355.8L650.8 355.1L651.3 354.5L651.8 353.9L652.3 353.4L652.8 352.8L653.3 352.2L653.8 351.7L654.3 351.1L654.8 350.6L655.3 350.1L655.8 349.6L656.3 349.1L656.8 348.6L657.3 348.1L657.8 347.6L658.3 347.1L658.8 346.6L659.3 346.1L659.8 345.6L660.3 345.1L660.8 344.7L661.3 344.2L661.8 343.8L662.3 343.3L662.8 342.9L663.3 342.5L663.8 342.1L664.3 341.8L664.8 341.4L665.3 341.1L665.8 340.8L666.3 340.5L666.8 340.2L667.3 340.0L667.8 339.7L668.3 339.5L668.8 339.2L669.3 339.0L669.8 338.7L670.3 338.5L670.8 338.3L671.3 338.0L671.8 337.8L672.3 337.6L672.8 337.4L673.3 337.2L673.8 337.0L674.3 336.9L674.8 336.7L675.3 336.5L675.8 336.4L676.3 336.3L676.8 336.2L677.3 336.1L677.8 336.1L678.3 336.0L678.8 336.0L679.3 336.0L679.8 336.1L680.3 336.1L680.8 336.3L681.3 336.4L681.8 336.6L682.3 336.8L682.8 337.1L683.3 337.3L683.8 337.6L684.3 337.9L684.8 338.3L685.3 338.6L685.8 339.0L686.3 339.3L686.8 339.7L687.3 340.1L687.8 340.5L688.3 340.9L688.8 341.3L689.3 341.7L689.8 342.1L690.3 342.5L690.8 342.9L691.3 343.3L691.8 343.7L692.3 344.2L692.8 344.6L693.3 345.1L693.8 345.6L694.3 346.1L694.8 346.6L695.3 347.2L695.8 347.7L696.3 348.3L696.8 348.8L697.3 349.4L697.8 350.0L698.3 350.6L698.8 351.2L699.3 351.8L699.8 352.4L700.3 353.0L700.8 353.6L701.3 354.2L701.8 354.8L702.3 355.4L702.8 356.0L703.3 356.6L703.8 357.2L704.3 357.7L704.8 358.3L705.3 358.9L705.8 359.5L706.3 360.1L706.8 360.7L707.3 361.3L707.8 361.9L708.3 362.5L708.8 363.1L709.3 363.7L709.8 364.3L710.3 365.0L710.8 365.6L711.3 366.3L711.8 366.9L712.3 367.6L712.8 368.3L713.3 369.0L713.8 369.7L714.3 370.4L714.8 371.2L715.3 372.0L715.8 372.8L716.3 373.7L716.8 374.5L717.3 375.4L717.8 376.3L718.3 377.2L718.8 378.1L719.3 379.0L719.8 379.9L720.3 380.9L720.8 381.8L721.3 382.6L721.8 383.5L722.3 384.4L722.8 385.2L723.3 386.0L723.8 386.8L724.3 387.6L724.8 388.3L725.3 389.1L725.8 389.8L726.3 390.6L726.8 391.3L727.3 392.0L727.8 392.8L728.3 393.5L728.8 394.2L729.3 394.9L729.8 395.6L730.3 396.3L730.8 397.0L731.3 397.7L731.8 398.5L732.3 399.2L732.8 399.9L733.3 400.6L733.8 401.3L734.3 402.0L734.8 402.8L735.3 403.5L735.8 404.2L736.3 405.0L736.8 405.7L737.3 406.5L737.8 407.2L738.3 408.0L738.8 408.8L739.3 409.5L739.8 410.3L740.3 411.0L740.8 411.8L741.3 412.5L741.8 413.3L742.3 414.0L742.8 414.8L743.3 415.5L743.8 416.3L744.3 417.0L744.8 417.8L745.3 418.5L745.8 419.2L746.3 419.9L746.8 420.6L747.3 421.3L747.8 422.1L748.3 422.8L748.8 423.4L749.3 424.1L749.8 424.8L750.3 425.5L750.8 426.2L751.3 426.9L751.8 427.6L752.3 428.3L752.8 428.9L753.3 429.6L753.8 430.3L754.3 431.0L754.8 431.6L755.3 432.3L755.8 433.0L756.3 433.7L756.8 434.4L757.3 435.0L757.8 435.7L758.3 436.4L758.8 437.1L759.3 437.8L759.8 438.5L760.3 439.2L760.8 439.9L761.3 440.6L761.8 441.3L762.3 442.0L762.8 442.6L763.3 443.3L763.8 444.0L764.3 444.7L764.8 445.4L765.3 446.1L765.8 446.8L766.3 447.4L766.8 448.1L767.3 448.8L767.8 449.4L768.3 450.1L768.8 450.7L769.3 451.4L769.8 452.0L770.3 452.6L770.8 453.2L771.3 453.9L771.8 454.5L772.3 455.1L772.8 455.7L773.3 456.3L773.8 456.9L774.3 457.5L774.8 458.1L775.3 458.7L775.8 459.3L776.3 459.9L776.8 460.5L777.3 461.1L777.8 461.8L778.3 462.4L778.8 463.0L779.3 463.6L779.8 464.3L780.3 464.9L780.8 465.5L781.3 466.2L781.8 466.8L782.3 467.5L782.8 468.1L783.3 468.8L783.8 469.4L784.3 470.1L784.8 470.7L785.3 471.4L785.8 472.0L786.3 472.6L786.8 473.3L787.3 473.9L787.8 474.5L788.3 475.1L788.8 475.7L789.3 476.2L789.8 476.8L790.3 477.3L790.8 477.9L791.3 478.4L791.8 479.0L792.3 479.5L792.8 480.0L793.3 480.5L793.8 481.1L794.3 481.6L794.8 482.1L795.3 482.6L795.8 483.1L796.3 483.6L796.8 484.1L797.3 484.6L797.8 485.1L798.3 485.6L798.8 486.1L799.3 486.6L799.8 487.1L800.3 487.6L800.8 488.2L801.3 488.7L801.8 489.2L802.3 489.7L802.8 490.3L803.3 490.8L803.8 491.4L804.3 491.9L804.8 492.4L805.3 493.0L805.8 493.5L806.3 494.1L806.8 494.6L807.3 495.1L807.8 495.7L808.3 496.2L808.8 496.8L809.3 497.3L809.8 497.8L810.3 498.4L810.8 498.9L811.3 499.4L811.8 499.9L812.3 500.4L812.8 500.9L813.3 501.4L813.8 501.9L814.3 502.4L814.8 502.9L815.3 503.4L815.8 503.8L816.3 504.3L816.8 504.8L817.3 505.3L817.8 505.7L818.3 506.2L818.8 506.7L819.3 507.2L819.8 507.6L820.3 508.1L820.8 508.6L821.3 509.0L821.8 509.5L822.3 510.0L822.8 510.5L823.3 510.9L823.8 511.4L824.3 511.9L824.8 512.4L825.3 512.9L825.8 513.4L826.3 513.8L826.8 514.3L827.3 514.8L827.8 515.3L828.3 515.8L828.8 516.3L829.3 516.8L829.8 517.2L830.3 517.7L830.8 518.2L831.3 518.7L831.8 519.2L832.3 519.7L832.8 520.2L833.3 520.6L833.8 521.1L834.3 521.6L834.8 522.1L835.3 522.6L835.8 523.1L836.3 523.6L836.8 524.1L837.3 524.6L837.8 525.1L838.3 525.6L838.8 526.1L839.3 526.6L839.8 527.1L840.3 527.7L840.8 528.2L841.3 528.7L841.8 529.2L842.3 529.7L842.8 530.1L843.3 530.6L843.8 531.1L844.3 531.6L844.8 532.0L845.3 532.4L845.8 532.9L846.3 533.3L846.8 533.7L847.3 534.1L847.8 534.5L848.3 534.8L848.8 535.2L849.3 535.6L849.8 535.9L850.3 536.3L850.8 536.6L851.3 537.0L851.8 537.3L852.3 537.6L852.8 537.9L853.3 538.3L853.8 538.6L854.3 538.9L854.8 539.2L855.3 539.5L855.8 539.7L856.3 540.0L856.8 540.3L857.3 540.6L857.8 540.8L858.2 541.0" fill="none" stroke="#19148c" stroke-width="4.8" stroke-dasharray="13.2 5.2" stroke-linejoin="round"/>
<path d="M513.4 597.1L523.2 589.8L523.2 604.4Z" fill="none" stroke="#19148c" stroke-width="4.2" stroke-linejoin="miter" stroke-miterlimit="10"/>
<path d="M524.8 557.4L534.5 550.1L534.5 564.7Z" fill="none" stroke="#19148c" stroke-width="4.2" stroke-linejoin="miter" stroke-miterlimit="10"/>
<path d="M536.1 525.6L545.9 518.3L545.9 532.9Z" fill="none" stroke="#19148c" stroke-width="4.2" stroke-linejoin="miter" stroke-miterlimit="10"/>
<path d="M547.4 498.3L557.2 491.0L557.2 505.6Z" fill="none" stroke="#19148c" stroke-width="4.2" stroke-linejoin="miter" stroke-miterlimit="10"/>
<path d="M558.8 480.6L568.6 473.3L568.6 487.9Z" fill="none" stroke="#19148c" stroke-width="4.2" stroke-linejoin="miter" stroke-miterlimit="10"/>
<path d="M570.1 464.9L579.9 457.6L579.9 472.2Z" fill="none" stroke="#19148c" stroke-width="4.2" stroke-linejoin="miter" stroke-miterlimit="10"/>
<path d="M581.5 448.8L591.3 441.5L591.3 456.1Z" fill="none" stroke="#19148c" stroke-width="4.2" stroke-linejoin="miter" stroke-miterlimit="10"/>
<path d="M592.9 433.9L602.6 426.6L602.6 441.2Z" fill="none" stroke="#19148c" stroke-width="4.2" stroke-linejoin="miter" stroke-miterlimit="10"/>
<path d="M604.2 419.3L614.0 412.0L614.0 426.6Z" fill="none" stroke="#19148c" stroke-width="4.2" stroke-linejoin="miter" stroke-miterlimit="10"/>
<path d="M615.5 402.2L625.3 394.9L625.3 409.5Z" fill="none" stroke="#19148c" stroke-width="4.2" stroke-linejoin="miter" stroke-miterlimit="10"/>
<path d="M626.9 383.5L636.7 376.2L636.7 390.8Z" fill="none" stroke="#19148c" stroke-width="4.2" stroke-linejoin="miter" stroke-miterlimit="10"/>
<path d="M638.2 365.2L648.0 357.9L648.0 372.5Z" fill="none" stroke="#19148c" stroke-width="4.2" stroke-linejoin="miter" stroke-miterlimit="10"/>
<path d="M649.6 350.8L659.4 343.5L659.4 358.1Z" fill="none" stroke="#19148c" stroke-width="4.2" stroke-linejoin="miter" stroke-miterlimit="10"/>
<path d="M660.9 340.7L670.7 333.4L670.7 348.0Z" fill="none" stroke="#19148c" stroke-width="4.2" stroke-linejoin="miter" stroke-miterlimit="10"/>
<path d="M672.3 336.1L682.1 328.8L682.1 343.4Z" fill="none" stroke="#19148c" stroke-width="4.2" stroke-linejoin="miter" stroke-miterlimit="10"/>
<path d="M683.6 341.2L693.4 333.9L693.4 348.5Z" fill="none" stroke="#19148c" stroke-width="4.2" stroke-linejoin="miter" stroke-miterlimit="10"/>
<path d="M695.0 352.7L704.8 345.4L704.8 360.0Z" fill="none" stroke="#19148c" stroke-width="4.2" stroke-linejoin="miter" stroke-miterlimit="10"/>
<path d="M706.3 366.3L716.1 359.0L716.1 373.6Z" fill="none" stroke="#19148c" stroke-width="4.2" stroke-linejoin="miter" stroke-miterlimit="10"/>
<path d="M717.7 385.0L727.5 377.7L727.5 392.3Z" fill="none" stroke="#19148c" stroke-width="4.2" stroke-linejoin="miter" stroke-miterlimit="10"/>
<path d="M729.0 401.7L738.8 394.4L738.8 409.0Z" fill="none" stroke="#19148c" stroke-width="4.2" stroke-linejoin="miter" stroke-miterlimit="10"/>
<path d="M740.4 418.6L750.2 411.3L750.2 425.9Z" fill="none" stroke="#19148c" stroke-width="4.2" stroke-linejoin="miter" stroke-miterlimit="10"/>
<path d="M751.8 434.3L761.5 427.0L761.5 441.6Z" fill="none" stroke="#19148c" stroke-width="4.2" stroke-linejoin="miter" stroke-miterlimit="10"/>
<path d="M763.1 449.8L772.9 442.5L772.9 457.1Z" fill="none" stroke="#19148c" stroke-width="4.2" stroke-linejoin="miter" stroke-miterlimit="10"/>
<path d="M774.5 463.8L784.2 456.5L784.2 471.1Z" fill="none" stroke="#19148c" stroke-width="4.2" stroke-linejoin="miter" stroke-miterlimit="10"/>
<path d="M785.8 477.9L795.6 470.6L795.6 485.2Z" fill="none" stroke="#19148c" stroke-width="4.2" stroke-linejoin="miter" stroke-miterlimit="10"/>
<path d="M797.1 489.6L806.9 482.3L806.9 496.9Z" fill="none" stroke="#19148c" stroke-width="4.2" stroke-linejoin="miter" stroke-miterlimit="10"/>
<path d="M808.5 501.6L818.3 494.3L818.3 508.9Z" fill="none" stroke="#19148c" stroke-width="4.2" stroke-linejoin="miter" stroke-miterlimit="10"/>
<path d="M819.8 512.4L829.6 505.1L829.6 519.7Z" fill="none" stroke="#19148c" stroke-width="4.2" stroke-linejoin="miter" stroke-miterlimit="10"/>
<path d="M831.2 523.5L841.0 516.2L841.0 530.8Z" fill="none" stroke="#19148c" stroke-width="4.2" stroke-linejoin="miter" stroke-miterlimit="10"/>
<path d="M842.5 534.3L852.3 527.0L852.3 541.6Z" fill="none" stroke="#19148c" stroke-width="4.2" stroke-linejoin="miter" stroke-miterlimit="10"/>
<path d="M918.8 601.4L919.3 593.7L919.8 585.7L920.3 577.3L920.8 568.6L921.3 559.5L921.8 550.0L922.3 540.1L922.8 529.9L923.3 519.6L923.8 509.2L924.3 498.7L924.8 488.2L925.3 477.5L925.8 466.6L926.3 455.6L926.8 444.5L927.3 433.2L927.8 421.7L928.3 410.0L928.8 398.2L929.3 386.4L929.8 374.7L930.3 363.0L930.8 351.3L931.3 339.6L931.8 327.9L932.3 316.2L932.8 304.6L933.3 292.9L933.8 280.6L934.3 268.0L934.8 255.6L935.3 244.0L935.8 233.6L936.3 225.0L936.8 217.8L937.3 211.2L937.8 205.1L938.3 199.6L938.8 194.4L939.3 189.4L939.8 184.7L940.3 180.0L940.8 175.4L941.3 171.1L941.8 166.9L942.3 162.9L942.8 159.0L943.3 155.3L943.8 151.6L944.3 148.0L944.8 144.4L945.3 140.9L945.8 137.4L946.3 134.0L946.8 130.7L947.3 127.4L947.8 124.2L948.3 121.2L948.8 118.2L949.3 115.4L949.8 112.8L950.3 110.2L950.8 107.7L951.3 105.3L951.8 102.9L952.3 100.7L952.8 98.5L953.3 96.4L953.8 94.4L954.3 92.5L954.8 90.7L955.3 89.0L955.8 87.3L956.3 85.6L956.8 84.0L957.3 82.4L957.8 80.9L958.3 79.6L958.8 78.3L959.3 77.2L959.8 76.3L960.3 75.6L960.8 74.8L961.3 74.1L961.8 73.4L962.3 72.7L962.8 72.1L963.3 71.6L963.8 71.1L964.3 70.7L964.8 70.3L965.3 70.1L965.8 70.0L966.3 70.0L966.8 70.0L967.3 70.1L967.8 70.2L968.3 70.3L968.8 70.4L969.3 70.5L969.8 70.7L970.3 70.9L970.8 71.0L971.3 71.2L971.8 71.4L972.3 71.6L972.8 71.9L973.3 72.2L973.8 72.5L974.3 72.9L974.8 73.3L975.3 73.8L975.8 74.3L976.3 74.8L976.8 75.4L977.3 75.9L977.8 76.5L978.3 77.1L978.8 77.8L979.3 78.4L979.8 79.1L980.3 79.8L980.8 80.6L981.3 81.5L981.8 82.3L982.3 83.3L982.8 84.3L983.3 85.3L983.8 86.3L984.3 87.4L984.8 88.5L985.3 89.7L985.8 91.0L986.3 92.3L986.8 93.8L987.3 95.3L987.8 96.8L988.3 98.4L988.8 100.1L989.3 101.7L989.8 103.3L990.3 105.0L990.8 106.7L991.3 108.4L991.8 110.2L992.3 112.0L992.8 113.8L993.3 115.6L993.8 117.5L994.3 119.4L994.8 121.2L995.3 123.1L995.8 125.1L996.3 127.0L996.8 129.0L997.3 131.0L997.8 133.0L998.3 135.0L998.8 137.1L999.3 139.1L999.8 141.2L1000.3 143.2L1000.8 145.3L1001.3 147.3L1001.8 149.4L1002.3 151.4L1002.8 153.5L1003.3 155.6L1003.8 157.8L1004.3 159.9L1004.8 162.1L1005.3 164.3L1005.8 166.6L1006.3 168.9L1006.8 171.3L1007.3 173.7L1007.8 176.1L1008.3 178.5L1008.8 180.9L1009.3 183.4L1009.8 185.8L1010.3 188.2L1010.8 190.6L1011.3 192.9L1011.8 195.3L1012.3 197.7L1012.8 200.1L1013.3 202.5L1013.8 204.8L1014.3 207.2L1014.8 209.6L1015.3 212.0L1015.8 214.4L1016.3 216.8L1016.8 219.1L1017.3 221.5L1017.8 223.9L1018.3 226.2L1018.8 228.6L1019.3 230.9L1019.8 233.2L1020.3 235.5L1020.8 237.8L1021.3 240.1L1021.8 242.4L1022.3 244.7L1022.8 246.9L1023.3 249.1L1023.8 251.3L1024.3 253.5L1024.8 255.6L1025.3 257.8L1025.8 259.9L1026.3 262.0L1026.8 264.2L1027.3 266.3L1027.8 268.4L1028.3 270.5L1028.8 272.6L1029.3 274.7L1029.8 276.7L1030.3 278.8L1030.8 280.9L1031.3 283.0L1031.8 285.2L1032.3 287.3L1032.8 289.4L1033.3 291.5L1033.8 293.7L1034.3 295.9L1034.8 298.1L1035.3 300.3L1035.8 302.5L1036.3 304.7L1036.8 306.9L1037.3 309.1L1037.8 311.4L1038.3 313.6L1038.8 315.9L1039.3 318.1L1039.8 320.3L1040.3 322.6L1040.8 324.8L1041.3 327.1L1041.8 329.3L1042.3 331.5L1042.8 333.8L1043.3 336.0L1043.8 338.2L1044.3 340.4L1044.8 342.5L1045.3 344.7L1045.8 346.9L1046.3 349.0L1046.8 351.2L1047.3 353.3L1047.8 355.5L1048.3 357.7L1048.8 359.9L1049.3 362.0L1049.8 364.2L1050.3 366.3L1050.8 368.5L1051.3 370.6L1051.8 372.7L1052.3 374.8L1052.8 376.9L1053.3 379.0L1053.8 381.1L1054.3 383.1L1054.8 385.1L1055.3 387.1L1055.8 389.0L1056.3 391.0L1056.8 392.9L1057.3 394.7L1057.8 396.6L1058.3 398.4L1058.8 400.2L1059.3 402.0L1059.8 403.8L1060.3 405.6L1060.8 407.3L1061.3 409.1L1061.8 410.8L1062.3 412.5L1062.8 414.2L1063.3 415.9L1063.8 417.5L1064.3 419.2L1064.8 420.8L1065.3 422.4L1065.8 424.0L1066.3 425.6L1066.8 427.2L1067.3 428.8L1067.8 430.3L1068.3 431.9L1068.8 433.4L1069.3 434.9L1069.8 436.4L1070.3 437.9L1070.8 439.4L1071.3 440.9L1071.8 442.4L1072.3 443.8L1072.8 445.3L1073.3 446.7L1073.8 448.1L1074.3 449.5L1074.8 450.9L1075.3 452.3L1075.8 453.7L1076.3 455.0L1076.8 456.4L1077.3 457.7L1077.8 459.1L1078.3 460.4L1078.8 461.7L1079.3 463.0L1079.8 464.3L1080.3 465.6L1080.8 466.9L1081.3 468.2L1081.8 469.5L1082.3 470.7L1082.8 472.0L1083.3 473.2L1083.8 474.5L1084.3 475.7L1084.8 477.0L1085.3 478.2L1085.8 479.4L1086.3 480.6L1086.8 481.8L1087.3 483.0L1087.8 484.1L1088.3 485.3L1088.8 486.4L1089.3 487.5L1089.8 488.6L1090.3 489.7L1090.8 490.7L1091.3 491.8L1091.8 492.8L1092.3 493.8L1092.8 494.8L1093.3 495.7L1093.8 496.7L1094.3 497.6L1094.8 498.6L1095.3 499.5L1095.8 500.4L1096.3 501.2L1096.8 502.1L1097.3 503.0L1097.8 503.9L1098.3 504.7L1098.8 505.6L1099.3 506.4L1099.8 507.2L1100.3 508.1L1100.8 508.9L1101.3 509.8L1101.8 510.6L1102.3 511.4L1102.8 512.3L1103.3 513.1L1103.8 514.0L1104.3 514.8L1104.8 515.7L1105.3 516.5L1105.8 517.4L1106.3 518.2L1106.8 519.1L1107.3 519.9L1107.8 520.8L1108.3 521.6L1108.8 522.4L1109.3 523.3L1109.8 524.1L1110.3 524.9L1110.8 525.7L1111.3 526.5L1111.8 527.3L1112.3 528.1L1112.8 528.8L1113.3 529.6L1113.8 530.3L1114.3 531.1L1114.8 531.8L1115.3 532.5L1115.8 533.2L1116.3 533.9L1116.8 534.6L1117.3 535.3L1117.8 535.9L1118.3 536.6L1118.8 537.3L1119.3 537.9L1119.8 538.6L1120.3 539.2L1120.8 539.9L1121.3 540.5L1121.8 541.1L1122.3 541.8L1122.8 542.4L1123.3 543.0L1123.8 543.6L1124.3 544.2L1124.8 544.8L1125.3 545.4L1125.8 546.0L1126.3 546.6L1126.8 547.2L1127.3 547.9L1127.8 548.5L1128.3 549.1L1128.8 549.7L1129.3 550.3L1129.8 550.9L1130.3 551.5L1130.8 552.1L1131.3 552.6L1131.8 553.2L1132.3 553.8L1132.8 554.4L1133.3 554.9L1133.8 555.5L1134.3 556.0L1134.8 556.6L1135.3 557.1L1135.8 557.6L1136.3 558.1L1136.8 558.6L1137.3 559.1L1137.8 559.6L1138.3 560.1L1138.8 560.5L1139.3 561.0L1139.8 561.4L1140.3 561.8L1140.8 562.2L1141.3 562.7L1141.8 563.1L1142.3 563.5L1142.8 563.9L1143.3 564.3L1143.8 564.7L1144.3 565.0L1144.8 565.4L1145.3 565.8L1145.8 566.2L1146.3 566.6L1146.8 567.0L1147.3 567.3L1147.8 567.7L1148.3 568.1L1148.8 568.5L1149.3 568.9L1149.8 569.2L1150.3 569.6L1150.8 570.0L1151.3 570.4L1151.8 570.7L1152.3 571.1L1152.8 571.5L1153.3 571.8L1153.8 572.2L1154.3 572.6L1154.8 572.9L1155.3 573.3L1155.8 573.6L1156.3 574.0L1156.8 574.3L1157.3 574.7L1157.8 575.1L1158.3 575.4L1158.8 575.8L1159.3 576.1L1159.8 576.4L1160.3 576.8L1160.8 577.1L1161.3 577.5L1161.8 577.8L1162.3 578.2L1162.8 578.5L1163.3 578.9L1163.8 579.2L1164.3 579.6L1164.8 579.9L1165.3 580.3L1165.8 580.6L1166.3 581.0L1166.8 581.3L1167.3 581.6L1167.8 582.0L1168.3 582.3L1168.8 582.6L1169.3 582.9L1169.8 583.3L1170.3 583.6L1170.8 583.9L1171.3 584.2L1171.8 584.4L1172.3 584.7L1172.8 585.0L1173.3 585.2L1173.8 585.5L1174.3 585.8L1174.8 586.0L1175.3 586.3L1175.8 586.5L1176.3 586.7L1176.8 587.0L1177.3 587.2L1177.8 587.4L1178.3 587.7L1178.8 587.9L1179.3 588.1L1179.8 588.3L1180.3 588.6L1180.8 588.8L1181.3 589.0L1181.8 589.2L1182.3 589.4L1182.8 589.7L1183.3 589.9L1183.8 590.1L1184.3 590.3L1184.8 590.5L1185.3 590.7L1185.8 590.9L1186.3 591.1L1186.8 591.4L1187.3 591.6L1187.8 591.8L1188.3 592.0L1188.8 592.2L1189.3 592.4L1189.8 592.6L1190.3 592.8L1190.8 593.0L1191.3 593.2L1191.8 593.4L1192.3 593.5L1192.8 593.7L1193.3 593.9L1193.8 594.1L1194.3 594.3L1194.8 594.5L1195.3 594.7L1195.8 594.9L1196.3 595.0L1196.8 595.2L1197.3 595.4L1197.8 595.6L1198.3 595.8L1198.8 596.0L1199.3 596.1L1199.8 596.3L1200.3 596.5L1200.8 596.7L1201.3 596.8L1201.8 597.0L1202.3 597.2L1202.8 597.3L1203.3 597.5L1203.8 597.7L1204.3 597.8L1204.8 598.0L1205.3 598.1L1205.8 598.3L1206.3 598.4L1206.8 598.6L1207.3 598.7L1207.8 598.8L1208.3 599.0L1208.8 599.1L1209.3 599.2L1209.8 599.4L1210.3 599.5L1210.8 599.6L1211.3 599.7L1211.8 599.9L1212.3 600.0L1212.8 600.1L1213.3 600.2L1213.8 600.3L1214.3 600.4L1214.8 600.5L1215.3 600.6L1215.8 600.8L1216.3 600.9L1216.8 601.0L1217.3 601.1L1217.8 601.1L1218.1 601.2" fill="none" stroke="#d0232d" stroke-width="4.8" stroke-dasharray="13 5 4.5 5" stroke-linejoin="round"/>
<path d="M919.1 563.7L919.6 554.2L920.1 544.7L920.6 535.3L921.1 526.0L921.6 516.7L922.1 507.6L922.6 498.5L923.1 489.5L923.6 480.6L924.1 471.8L924.6 463.0L925.1 454.4L925.6 445.8L926.1 437.3L926.6 428.9L927.1 420.6L927.6 412.4L928.1 404.3L928.6 396.3L929.1 388.4L929.6 380.6L930.1 372.9L930.6 365.3L931.1 357.7L931.6 350.2L932.1 342.6L932.6 335.0L933.1 327.5L933.6 320.0L934.1 312.6L934.6 305.2L935.1 297.9L935.6 290.7L936.1 283.5L936.6 276.5L937.1 269.7L937.6 262.9L938.1 256.4L938.6 250.0L939.1 243.7L939.6 237.7L940.1 231.8L940.6 226.2L941.1 220.8L941.6 215.6L942.1 210.7L942.6 205.9L943.1 201.2L943.6 196.6L944.1 192.0L944.6 187.5L945.1 183.0L945.6 178.7L946.1 174.4L946.6 170.2L947.1 166.1L947.6 162.2L948.1 158.3L948.6 154.6L949.1 151.0L949.6 147.5L950.1 144.2L950.6 141.0L951.1 138.0L951.6 135.1L952.1 132.4L952.6 129.8L953.1 127.5L953.6 125.3L954.1 123.2L954.6 121.1L955.1 119.0L955.6 116.9L956.1 114.9L956.6 112.9L957.1 110.9L957.6 108.9L958.1 107.0L958.6 105.2L959.1 103.5L959.6 101.8L960.1 100.3L960.6 98.8L961.1 97.5L961.6 96.3L962.1 95.2L962.6 94.3L963.1 93.5L963.6 92.8L964.1 92.4L964.6 92.1L965.1 92.0L965.6 92.0L966.1 92.0L966.6 92.1L967.1 92.2L967.6 92.2L968.1 92.3L968.6 92.5L969.1 92.6L969.6 92.7L970.1 92.9L970.6 93.1L971.1 93.3L971.6 93.5L972.1 93.7L972.6 93.9L973.1 94.1L973.6 94.4L974.1 94.6L974.6 94.9L975.1 95.1L975.6 95.4L976.1 95.7L976.6 96.0L977.1 96.3L977.6 96.8L978.1 97.3L978.6 97.9L979.1 98.5L979.6 99.3L980.1 100.1L980.6 100.9L981.1 101.8L981.6 102.8L982.1 103.8L982.6 104.8L983.1 105.9L983.6 107.0L984.1 108.1L984.6 109.2L985.1 110.4L985.6 111.6L986.1 112.7L986.6 113.9L987.1 115.0L987.6 116.2L988.1 117.3L988.6 118.4L989.1 119.6L989.6 120.8L990.1 122.0L990.6 123.2L991.1 124.5L991.6 125.8L992.1 127.1L992.6 128.5L993.1 129.8L993.6 131.2L994.1 132.6L994.6 134.1L995.1 135.5L995.6 137.0L996.1 138.5L996.6 140.0L997.1 141.5L997.6 143.0L998.1 144.6L998.6 146.1L999.1 147.7L999.6 149.3L1000.1 150.9L1000.6 152.5L1001.1 154.2L1001.6 155.9L1002.1 157.6L1002.6 159.3L1003.1 161.1L1003.6 162.9L1004.1 164.7L1004.6 166.5L1005.1 168.3L1005.6 170.2L1006.1 172.1L1006.6 174.0L1007.1 175.9L1007.6 177.9L1008.1 179.8L1008.6 181.8L1009.1 183.8L1009.6 185.8L1010.1 187.9L1010.6 189.9L1011.1 192.0L1011.6 194.1L1012.1 196.3L1012.6 198.5L1013.1 200.7L1013.6 203.0L1014.1 205.3L1014.6 207.7L1015.1 210.1L1015.6 212.5L1016.1 214.9L1016.6 217.3L1017.1 219.8L1017.6 222.2L1018.1 224.7L1018.6 227.1L1019.1 229.5L1019.6 232.0L1020.1 234.4L1020.6 236.8L1021.1 239.1L1021.6 241.5L1022.1 243.7L1022.6 246.0L1023.1 248.2L1023.6 250.4L1024.1 252.6L1024.6 254.8L1025.1 256.9L1025.6 259.1L1026.1 261.2L1026.6 263.3L1027.1 265.4L1027.6 267.5L1028.1 269.6L1028.6 271.7L1029.1 273.8L1029.6 275.9L1030.1 278.0L1030.6 280.1L1031.1 282.2L1031.6 284.3L1032.1 286.4L1032.6 288.5L1033.1 290.7L1033.6 292.8L1034.1 295.0L1034.6 297.2L1035.1 299.4L1035.6 301.6L1036.1 303.8L1036.6 306.0L1037.1 308.2L1037.6 310.5L1038.1 312.7L1038.6 315.0L1039.1 317.2L1039.6 319.4L1040.1 321.7L1040.6 323.9L1041.1 326.2L1041.6 328.4L1042.1 330.6L1042.6 332.9L1043.1 335.1L1043.6 337.3L1044.1 339.5L1044.6 341.7L1045.1 343.8L1045.6 346.0L1046.1 348.2L1046.6 350.3L1047.1 352.5L1047.6 354.6L1048.1 356.8L1048.6 359.0L1049.1 361.2L1049.6 363.3L1050.1 365.5L1050.6 367.6L1051.1 369.8L1051.6 371.9L1052.1 374.0L1052.6 376.1L1053.1 378.2L1053.6 380.2L1054.1 382.3L1054.6 384.3L1055.1 386.3L1055.6 388.3L1056.1 390.2L1056.6 392.1L1057.1 394.0L1057.6 395.9L1058.1 397.7L1058.6 399.5L1059.1 401.3L1059.6 403.1L1060.1 404.9L1060.6 406.6L1061.1 408.4L1061.6 410.1L1062.1 411.8L1062.6 413.5L1063.1 415.2L1063.6 416.9L1064.1 418.5L1064.6 420.2L1065.1 421.8L1065.6 423.4L1066.1 425.0L1066.6 426.6L1067.1 428.1L1067.6 429.7L1068.1 431.3L1068.6 432.8L1069.1 434.3L1069.6 435.8L1070.1 437.3L1070.6 438.8L1071.1 440.3L1071.6 441.8L1072.1 443.2L1072.6 444.7L1073.1 446.1L1073.6 447.5L1074.1 449.0L1074.6 450.4L1075.1 451.7L1075.6 453.1L1076.1 454.5L1076.6 455.9L1077.1 457.2L1077.6 458.5L1078.1 459.9L1078.6 461.2L1079.1 462.5L1079.6 463.8L1080.1 465.1L1080.6 466.4L1081.1 467.7L1081.6 468.9L1082.1 470.2L1082.6 471.5L1083.1 472.7L1083.6 474.0L1084.1 475.2L1084.6 476.5L1085.1 477.7L1085.6 478.9L1086.1 480.1L1086.6 481.3L1087.1 482.5L1087.6 483.7L1088.1 484.8L1088.6 486.0L1089.1 487.1L1089.6 488.2L1090.1 489.3L1090.6 490.3L1091.1 491.4L1091.6 492.4L1092.1 493.4L1092.6 494.4L1093.1 495.4L1093.6 496.3L1094.1 497.3L1094.6 498.2L1095.1 499.1L1095.6 500.0L1096.1 500.9L1096.6 501.8L1097.1 502.6L1097.6 503.5L1098.1 504.4L1098.6 505.2L1099.1 506.1L1099.6 506.9L1100.1 507.8L1100.6 508.6L1101.1 509.4L1101.6 510.3L1102.1 511.1L1102.6 512.0L1103.1 512.8L1103.6 513.6L1104.1 514.5L1104.6 515.4L1105.1 516.2L1105.6 517.1L1106.1 517.9L1106.6 518.7L1107.1 519.6L1107.6 520.4L1108.1 521.3L1108.6 522.1L1109.1 522.9L1109.6 523.8L1110.1 524.6L1110.6 525.4L1111.1 526.2L1111.6 527.0L1112.1 527.7L1112.6 528.5L1113.1 529.3L1113.6 530.0L1114.1 530.8L1114.6 531.5L1115.1 532.2L1115.6 532.9L1116.1 533.6L1116.6 534.3L1117.1 535.0L1117.6 535.7L1118.1 536.3L1118.6 537.0L1119.1 537.7L1119.6 538.3L1120.1 539.0L1120.6 539.6L1121.1 540.2L1121.6 540.9L1122.1 541.5L1122.6 542.1L1123.1 542.7L1123.6 543.4L1124.1 544.0L1124.6 544.6L1125.1 545.2L1125.6 545.8L1126.1 546.4L1126.6 547.0L1127.1 547.6L1127.6 548.2L1128.1 548.8L1128.6 549.4L1129.1 550.0L1129.6 550.6L1130.1 551.2L1130.6 551.8L1131.1 552.4L1131.6 553.0L1132.1 553.6L1132.6 554.1L1133.1 554.7L1133.6 555.3L1134.1 555.8L1134.6 556.4L1135.1 556.9L1135.6 557.4L1136.1 557.9L1136.6 558.4L1137.1 558.9L1137.6 559.4L1138.1 559.9L1138.6 560.3L1139.1 560.8L1139.6 561.2L1140.1 561.6L1140.6 562.1L1141.1 562.5L1141.6 562.9L1142.1 563.3L1142.6 563.7L1143.1 564.1L1143.6 564.5L1144.1 564.9L1144.6 565.3L1145.1 565.7L1145.6 566.0L1146.1 566.4L1146.6 566.8L1147.1 567.2L1147.6 567.6L1148.1 567.9L1148.6 568.3L1149.1 568.7L1149.6 569.1L1150.1 569.5L1150.6 569.8L1151.1 570.2L1151.6 570.6L1152.1 571.0L1152.6 571.3L1153.1 571.7L1153.6 572.1L1154.1 572.4L1154.6 572.8L1155.1 573.1L1155.6 573.5L1156.1 573.8L1156.6 574.2L1157.1 574.6L1157.6 574.9L1158.1 575.3L1158.6 575.6L1159.1 576.0L1159.6 576.3L1160.1 576.7L1160.6 577.0L1161.1 577.3L1161.6 577.7L1162.1 578.0L1162.6 578.4L1163.1 578.7L1163.6 579.1L1164.1 579.4L1164.6 579.8L1165.1 580.1L1165.6 580.5L1166.1 580.8L1166.6 581.2L1167.1 581.5L1167.6 581.8L1168.1 582.2L1168.6 582.5L1169.1 582.8L1169.6 583.1L1170.1 583.4L1170.6 583.7L1171.1 584.0L1171.6 584.3L1172.1 584.6L1172.6 584.9L1173.1 585.1L1173.6 585.4L1174.1 585.7L1174.6 585.9L1175.1 586.2L1175.6 586.4L1176.1 586.6L1176.6 586.9L1177.1 587.1L1177.6 587.4L1178.1 587.6L1178.6 587.8L1179.1 588.0L1179.6 588.3L1180.1 588.5L1180.6 588.7L1181.1 588.9L1181.6 589.1L1182.1 589.4L1182.6 589.6L1183.1 589.8L1183.6 590.0L1184.1 590.2L1184.6 590.4L1185.1 590.6L1185.6 590.9L1186.1 591.1L1186.6 591.3L1187.1 591.5L1187.6 591.7L1188.1 591.9L1188.6 592.1L1189.1 592.3L1189.6 592.5L1190.1 592.7L1190.6 592.9L1191.1 593.1L1191.6 593.3L1192.1 593.5L1192.6 593.7L1193.1 593.9L1193.6 594.0L1194.1 594.2L1194.6 594.4L1195.1 594.6L1195.6 594.8L1196.1 595.0L1196.6 595.2L1197.1 595.3L1197.6 595.5L1198.1 595.7L1198.6 595.9L1199.1 596.1L1199.6 596.2L1200.1 596.4L1200.6 596.6L1201.1 596.8L1201.6 596.9L1202.1 597.1L1202.6 597.3L1203.1 597.4L1203.6 597.6L1204.1 597.8L1204.6 597.9L1205.1 598.1L1205.6 598.2L1206.1 598.4L1206.6 598.5L1207.1 598.6L1207.6 598.8L1208.1 598.9L1208.6 599.0L1209.1 599.2L1209.6 599.3L1210.1 599.4L1210.6 599.6L1211.1 599.7L1211.6 599.8L1212.1 599.9L1212.6 600.0L1213.1 600.2L1213.6 600.3L1214.1 600.4L1214.6 600.5L1215.1 600.6L1215.6 600.7L1216.1 600.8L1216.6 600.9L1217.1 601.0L1217.6 601.1L1218.1 601.2" fill="none" stroke="#c814c8" stroke-width="4.8" stroke-dasharray="13.2 5.2" stroke-linejoin="round"/>
<circle cx="919.1" cy="563.7" r="5.2" fill="none" stroke="#c814c8" stroke-width="5.6"/>
<circle cx="930.6" cy="365.3" r="5.2" fill="none" stroke="#c814c8" stroke-width="5.6"/>
<circle cx="942.1" cy="210.7" r="5.2" fill="none" stroke="#c814c8" stroke-width="5.6"/>
<circle cx="953.6" cy="125.3" r="5.2" fill="none" stroke="#c814c8" stroke-width="5.6"/>
<circle cx="965.1" cy="92.0" r="5.2" fill="none" stroke="#c814c8" stroke-width="5.6"/>
<circle cx="976.6" cy="96.0" r="5.2" fill="none" stroke="#c814c8" stroke-width="5.6"/>
<circle cx="988.1" cy="117.3" r="5.2" fill="none" stroke="#c814c8" stroke-width="5.6"/>
<circle cx="999.6" cy="149.3" r="5.2" fill="none" stroke="#c814c8" stroke-width="5.6"/>
<circle cx="1011.1" cy="192.0" r="5.2" fill="none" stroke="#c814c8" stroke-width="5.6"/>
<circle cx="1022.6" cy="246.0" r="5.2" fill="none" stroke="#c814c8" stroke-width="5.6"/>
<circle cx="1034.1" cy="295.0" r="5.2" fill="none" stroke="#c814c8" stroke-width="5.6"/>
<circle cx="1045.6" cy="346.0" r="5.2" fill="none" stroke="#c814c8" stroke-width="5.6"/>
<circle cx="1057.1" cy="394.0" r="5.2" fill="none" stroke="#c814c8" stroke-width="5.6"/>
<circle cx="1068.6" cy="432.8" r="5.2" fill="none" stroke="#c814c8" stroke-width="5.6"/>
<circle cx="1080.1" cy="465.1" r="5.2" fill="none" stroke="#c814c8" stroke-width="5.6"/>
<circle cx="1091.6" cy="492.4" r="5.2" fill="none" stroke="#c814c8" stroke-width="5.6"/>
<circle cx="1103.1" cy="512.8" r="5.2" fill="none" stroke="#c814c8" stroke-width="5.6"/>
<circle cx="1114.6" cy="531.5" r="5.2" fill="none" stroke="#c814c8" stroke-width="5.6"/>
<circle cx="1126.1" cy="546.4" r="5.2" fill="none" stroke="#c814c8" stroke-width="5.6"/>
<circle cx="1137.6" cy="559.4" r="5.2" fill="none" stroke="#c814c8" stroke-width="5.6"/>
<circle cx="1149.1" cy="568.7" r="5.2" fill="none" stroke="#c814c8" stroke-width="5.6"/>
<circle cx="1160.6" cy="577.0" r="5.2" fill="none" stroke="#c814c8" stroke-width="5.6"/>
<circle cx="1172.1" cy="584.6" r="5.2" fill="none" stroke="#c814c8" stroke-width="5.6"/>
<circle cx="1183.6" cy="590.0" r="5.2" fill="none" stroke="#c814c8" stroke-width="5.6"/>
<circle cx="1195.1" cy="594.6" r="5.2" fill="none" stroke="#c814c8" stroke-width="5.6"/>
<circle cx="1206.6" cy="598.5" r="5.2" fill="none" stroke="#c814c8" stroke-width="5.6"/>
<circle cx="1218.1" cy="601.2" r="5.2" fill="none" stroke="#c814c8" stroke-width="5.6"/>
<path d="M919.1 597.0L919.6 592.4L920.1 587.9L920.6 583.4L921.1 578.8L921.6 574.3L922.1 569.8L922.6 565.3L923.1 560.8L923.6 556.3L924.1 551.8L924.6 547.4L925.1 542.9L925.6 538.5L926.1 534.1L926.6 529.6L927.1 525.2L927.6 520.8L928.1 516.4L928.6 512.0L929.1 507.7L929.6 503.3L930.1 498.9L930.6 494.6L931.1 490.3L931.6 485.9L932.1 481.6L932.6 477.2L933.1 472.9L933.6 468.5L934.1 464.2L934.6 459.9L935.1 455.6L935.6 451.3L936.1 447.0L936.6 442.7L937.1 438.5L937.6 434.2L938.1 430.0L938.6 425.8L939.1 421.6L939.6 417.5L940.1 413.4L940.6 409.3L941.1 405.3L941.6 401.3L942.1 397.3L942.6 393.3L943.1 389.4L943.6 385.4L944.1 381.4L944.6 377.4L945.1 373.4L945.6 369.4L946.1 365.5L946.6 361.5L947.1 357.6L947.6 353.8L948.1 349.9L948.6 346.2L949.1 342.4L949.6 338.7L950.1 335.1L950.6 331.6L951.1 328.1L951.6 324.7L952.1 321.4L952.6 318.2L953.1 315.0L953.6 312.0L954.1 309.0L954.6 306.1L955.1 303.2L955.6 300.3L956.1 297.5L956.6 294.7L957.1 292.0L957.6 289.3L958.1 286.6L958.6 284.0L959.1 281.5L959.6 278.9L960.1 276.5L960.6 274.0L961.1 271.7L961.6 269.3L962.1 267.1L962.6 264.9L963.1 262.7L963.6 260.6L964.1 258.6L964.6 256.6L965.1 254.7L965.6 252.8L966.1 251.0L966.6 249.1L967.1 247.3L967.6 245.5L968.1 243.8L968.6 242.1L969.1 240.4L969.6 238.7L970.1 237.1L970.6 235.5L971.1 233.9L971.6 232.4L972.1 230.9L972.6 229.5L973.1 228.1L973.6 226.8L974.1 225.5L974.6 224.3L975.1 223.1L975.6 222.0L976.1 221.0L976.6 220.0L977.1 219.0L977.6 218.1L978.1 217.1L978.6 216.2L979.1 215.2L979.6 214.3L980.1 213.4L980.6 212.4L981.1 211.6L981.6 210.7L982.1 209.9L982.6 209.1L983.1 208.4L983.6 207.7L984.1 207.0L984.6 206.4L985.1 205.9L985.6 205.4L986.1 205.0L986.6 204.6L987.1 204.3L987.6 204.1L988.1 204.0L988.6 203.9L989.1 203.8L989.6 203.8L990.1 203.7L990.6 203.6L991.1 203.6L991.6 203.5L992.1 203.4L992.6 203.4L993.1 203.3L993.6 203.3L994.1 203.2L994.6 203.2L995.1 203.2L995.6 203.1L996.1 203.1L996.6 203.1L997.1 203.1L997.6 203.0L998.1 203.0L998.6 203.0L999.1 203.0L999.6 203.0L1000.1 203.0L1000.6 203.2L1001.1 203.4L1001.6 203.6L1002.1 204.0L1002.6 204.3L1003.1 204.8L1003.6 205.3L1004.1 205.8L1004.6 206.4L1005.1 207.1L1005.6 207.7L1006.1 208.4L1006.6 209.1L1007.1 209.9L1007.6 210.6L1008.1 211.4L1008.6 212.2L1009.1 213.0L1009.6 213.7L1010.1 214.5L1010.6 215.3L1011.1 216.0L1011.6 216.8L1012.1 217.5L1012.6 218.4L1013.1 219.2L1013.6 220.1L1014.1 221.0L1014.6 222.0L1015.1 223.0L1015.6 224.0L1016.1 225.0L1016.6 226.1L1017.1 227.1L1017.6 228.2L1018.1 229.3L1018.6 230.5L1019.1 231.6L1019.6 232.8L1020.1 234.0L1020.6 235.2L1021.1 236.4L1021.6 237.6L1022.1 238.8L1022.6 240.0L1023.1 241.2L1023.6 242.5L1024.1 243.8L1024.6 245.1L1025.1 246.4L1025.6 247.7L1026.1 249.1L1026.6 250.5L1027.1 251.9L1027.6 253.3L1028.1 254.8L1028.6 256.3L1029.1 257.8L1029.6 259.3L1030.1 260.9L1030.6 262.4L1031.1 264.0L1031.6 265.6L1032.1 267.3L1032.6 268.9L1033.1 270.6L1033.6 272.3L1034.1 274.0L1034.6 275.8L1035.1 277.6L1035.6 279.5L1036.1 281.5L1036.6 283.5L1037.1 285.6L1037.6 287.7L1038.1 289.8L1038.6 292.0L1039.1 294.2L1039.6 296.4L1040.1 298.7L1040.6 300.9L1041.1 303.1L1041.6 305.3L1042.1 307.5L1042.6 309.7L1043.1 311.9L1043.6 314.0L1044.1 316.1L1044.6 318.1L1045.1 320.1L1045.6 322.0L1046.1 323.9L1046.6 325.8L1047.1 327.6L1047.6 329.5L1048.1 331.4L1048.6 333.2L1049.1 335.1L1049.6 336.9L1050.1 338.7L1050.6 340.5L1051.1 342.3L1051.6 344.1L1052.1 345.8L1052.6 347.5L1053.1 349.2L1053.6 350.9L1054.1 352.5L1054.6 354.1L1055.1 355.7L1055.6 357.2L1056.1 358.7L1056.6 360.2L1057.1 361.6L1057.6 363.0L1058.1 364.3L1058.6 365.6L1059.1 366.9L1059.6 368.2L1060.1 369.4L1060.6 370.6L1061.1 371.8L1061.6 372.9L1062.1 374.1L1062.6 375.2L1063.1 376.3L1063.6 377.4L1064.1 378.6L1064.6 379.7L1065.1 380.8L1065.6 381.9L1066.1 383.1L1066.6 384.2L1067.1 385.4L1067.6 386.6L1068.1 387.8L1068.6 389.0L1069.1 390.3L1069.6 391.5L1070.1 392.8L1070.6 394.1L1071.1 395.5L1071.6 396.8L1072.1 398.1L1072.6 399.5L1073.1 400.9L1073.6 402.2L1074.1 403.6L1074.6 404.9L1075.1 406.3L1075.6 407.6L1076.1 409.0L1076.6 410.3L1077.1 411.6L1077.6 412.9L1078.1 414.1L1078.6 415.4L1079.1 416.6L1079.6 417.8L1080.1 419.0L1080.6 420.2L1081.1 421.3L1081.6 422.4L1082.1 423.5L1082.6 424.6L1083.1 425.7L1083.6 426.7L1084.1 427.8L1084.6 428.8L1085.1 429.9L1085.6 430.9L1086.1 431.9L1086.6 432.9L1087.1 433.9L1087.6 434.9L1088.1 435.9L1088.6 436.9L1089.1 437.9L1089.6 439.0L1090.1 440.0L1090.6 441.0L1091.1 442.0L1091.6 443.0L1092.1 444.0L1092.6 445.0L1093.1 446.1L1093.6 447.1L1094.1 448.1L1094.6 449.1L1095.1 450.1L1095.6 451.2L1096.1 452.2L1096.6 453.2L1097.1 454.2L1097.6 455.2L1098.1 456.2L1098.6 457.2L1099.1 458.2L1099.6 459.2L1100.1 460.2L1100.6 461.2L1101.1 462.1L1101.6 463.1L1102.1 464.1L1102.6 465.0L1103.1 466.0L1103.6 467.0L1104.1 467.9L1104.6 468.9L1105.1 469.8L1105.6 470.8L1106.1 471.8L1106.6 472.7L1107.1 473.7L1107.6 474.6L1108.1 475.6L1108.6 476.5L1109.1 477.4L1109.6 478.4L1110.1 479.3L1110.6 480.2L1111.1 481.1L1111.6 482.0L1112.1 482.8L1112.6 483.7L1113.1 484.6L1113.6 485.4L1114.1 486.2L1114.6 487.0L1115.1 487.8L1115.6 488.5L1116.1 489.3L1116.6 490.0L1117.1 490.8L1117.6 491.5L1118.1 492.2L1118.6 492.9L1119.1 493.6L1119.6 494.3L1120.1 494.9L1120.6 495.6L1121.1 496.3L1121.6 496.9L1122.1 497.6L1122.6 498.3L1123.1 498.9L1123.6 499.6L1124.1 500.3L1124.6 500.9L1125.1 501.6L1125.6 502.3L1126.1 503.0L1126.6 503.7L1127.1 504.4L1127.6 505.1L1128.1 505.8L1128.6 506.6L1129.1 507.3L1129.6 508.0L1130.1 508.8L1130.6 509.5L1131.1 510.2L1131.6 511.0L1132.1 511.7L1132.6 512.4L1133.1 513.1L1133.6 513.8L1134.1 514.5L1134.6 515.2L1135.1 515.9L1135.6 516.5L1136.1 517.2L1136.6 517.8L1137.1 518.4L1137.6 519.0L1138.1 519.6L1138.6 520.1L1139.1 520.7L1139.6 521.2L1140.1 521.8L1140.6 522.3L1141.1 522.8L1141.6 523.3L1142.1 523.8L1142.6 524.3L1143.1 524.8L1143.6 525.3L1144.1 525.7L1144.6 526.2L1145.1 526.7L1145.6 527.2L1146.1 527.6L1146.6 528.1L1147.1 528.6L1147.6 529.1L1148.1 529.5L1148.6 530.0L1149.1 530.5L1149.6 531.0L1150.1 531.5L1150.6 532.0L1151.1 532.5L1151.6 533.0L1152.1 533.4L1152.6 533.9L1153.1 534.4L1153.6 534.9L1154.1 535.4L1154.6 535.9L1155.1 536.4L1155.6 536.9L1156.1 537.3L1156.6 537.8L1157.1 538.3L1157.6 538.8L1158.1 539.2L1158.6 539.7L1159.1 540.1L1159.6 540.6L1160.1 541.1L1160.6 541.5L1161.1 541.9L1161.6 542.4L1162.1 542.8L1162.6 543.3L1163.1 543.7L1163.6 544.2L1164.1 544.6L1164.6 545.0L1165.1 545.5L1165.6 545.9L1166.1 546.3L1166.6 546.8L1167.1 547.2L1167.6 547.6L1168.1 548.0L1168.6 548.4L1169.1 548.8L1169.6 549.2L1170.1 549.6L1170.6 549.9L1171.1 550.3L1171.6 550.7L1172.1 551.0L1172.6 551.3L1173.1 551.7L1173.6 552.0L1174.1 552.3L1174.6 552.6L1175.1 552.9L1175.6 553.2L1176.1 553.4L1176.6 553.7L1177.1 554.0L1177.6 554.3L1178.1 554.5L1178.6 554.8L1179.1 555.1L1179.6 555.3L1180.1 555.6L1180.6 555.9L1181.1 556.1L1181.6 556.4L1182.1 556.7L1182.6 556.9L1183.1 557.2L1183.6 557.5L1184.1 557.8L1184.6 558.1L1185.1 558.4L1185.6 558.7L1186.1 558.9L1186.6 559.2L1187.1 559.5L1187.6 559.8L1188.1 560.1L1188.6 560.4L1189.1 560.7L1189.6 561.0L1190.1 561.3L1190.6 561.6L1191.1 561.9L1191.6 562.1L1192.1 562.4L1192.6 562.7L1193.1 563.0L1193.6 563.2L1194.1 563.5L1194.6 563.8L1195.1 564.0L1195.6 564.2L1196.1 564.5L1196.6 564.7L1197.1 564.9L1197.6 565.2L1198.1 565.4L1198.6 565.6L1199.1 565.8L1199.6 566.1L1200.1 566.3L1200.6 566.5L1201.1 566.7L1201.6 566.9L1202.1 567.1L1202.6 567.3L1203.1 567.5L1203.6 567.7L1204.1 567.9L1204.6 568.1L1205.1 568.4L1205.6 568.6L1206.1 568.8L1206.6 569.0L1207.1 569.2L1207.6 569.4L1208.1 569.7L1208.6 569.9L1209.1 570.1L1209.6 570.4L1210.1 570.6L1210.6 570.8L1211.1 571.1L1211.6 571.3L1212.1 571.5L1212.6 571.7L1213.1 572.0L1213.6 572.2L1214.1 572.4L1214.6 572.6L1215.1 572.8L1215.6 573.0L1216.1 573.3L1216.6 573.4L1217.1 573.6L1217.6 573.8L1218.1 574.0L1218.6 574.2L1219.1 574.3L1219.6 574.5L1220.1 574.7L1220.6 574.8L1221.1 575.0L1221.6 575.1L1222.1 575.2L1222.6 575.4L1223.1 575.5L1223.6 575.7L1224.1 575.8L1224.6 575.9L1225.1 576.1L1225.6 576.2L1226.1 576.3L1226.6 576.5L1227.1 576.6L1227.6 576.7L1228.1 576.9L1228.6 577.0L1229.1 577.2L1229.6 577.3L1230.1 577.4L1230.6 577.6L1231.1 577.7L1231.6 577.9L1232.1 578.0L1232.6 578.2L1233.1 578.3L1233.6 578.4L1234.1 578.6L1234.6 578.7L1235.1 578.9L1235.6 579.0L1236.1 579.1L1236.6 579.3L1237.1 579.4L1237.6 579.6L1238.1 579.7L1238.6 579.9L1239.1 580.0L1239.6 580.2L1240.1 580.3L1240.6 580.4L1241.1 580.6L1241.6 580.8L1242.1 580.9L1242.6 581.1L1243.1 581.2L1243.6 581.4L1244.1 581.6L1244.6 581.7L1245.1 581.9L1245.6 582.1L1246.1 582.3L1246.6 582.4L1247.1 582.6L1247.6 582.8L1248.1 582.9L1248.6 583.1L1249.1 583.3L1249.6 583.4L1250.1 583.6L1250.6 583.7L1251.1 583.9L1251.6 584.0L1252.1 584.2L1252.6 584.3L1253.1 584.4L1253.6 584.6L1254.1 584.7L1254.6 584.8L1255.1 584.9L1255.6 585.0L1256.1 585.1L1256.6 585.3L1257.1 585.4L1257.6 585.5L1258.1 585.6L1258.6 585.7L1259.1 585.8L1259.6 585.9L1260.1 585.9L1260.4 586.0" fill="none" stroke="#142a28" stroke-width="4.8" stroke-dasharray="13.2 5.2" stroke-linejoin="round"/>
<path d="M913.5 591.4L924.7 602.6M913.5 602.6L924.7 591.4" stroke="#142a28" stroke-width="4.3" stroke-linecap="butt" fill="none"/>
<path d="M925.0 489.0L936.2 500.2M925.0 500.2L936.2 489.0" stroke="#142a28" stroke-width="4.3" stroke-linecap="butt" fill="none"/>
<path d="M936.5 391.7L947.7 402.9M936.5 402.9L947.7 391.7" stroke="#142a28" stroke-width="4.3" stroke-linecap="butt" fill="none"/>
<path d="M948.0 306.4L959.2 317.6M948.0 317.6L959.2 306.4" stroke="#142a28" stroke-width="4.3" stroke-linecap="butt" fill="none"/>
<path d="M959.5 249.1L970.7 260.3M959.5 260.3L970.7 249.1" stroke="#142a28" stroke-width="4.3" stroke-linecap="butt" fill="none"/>
<path d="M971.0 214.4L982.2 225.6M971.0 225.6L982.2 214.4" stroke="#142a28" stroke-width="4.3" stroke-linecap="butt" fill="none"/>
<path d="M982.5 198.4L993.7 209.6M982.5 209.6L993.7 198.4" stroke="#142a28" stroke-width="4.3" stroke-linecap="butt" fill="none"/>
<path d="M994.0 197.4L1005.2 208.6M994.0 208.6L1005.2 197.4" stroke="#142a28" stroke-width="4.3" stroke-linecap="butt" fill="none"/>
<path d="M1005.5 210.4L1016.7 221.6M1005.5 221.6L1016.7 210.4" stroke="#142a28" stroke-width="4.3" stroke-linecap="butt" fill="none"/>
<path d="M1017.0 234.4L1028.2 245.6M1017.0 245.6L1028.2 234.4" stroke="#142a28" stroke-width="4.3" stroke-linecap="butt" fill="none"/>
<path d="M1028.5 268.4L1039.7 279.6M1028.5 279.6L1039.7 268.4" stroke="#142a28" stroke-width="4.3" stroke-linecap="butt" fill="none"/>
<path d="M1040.0 316.4L1051.2 327.6M1040.0 327.6L1051.2 316.4" stroke="#142a28" stroke-width="4.3" stroke-linecap="butt" fill="none"/>
<path d="M1051.5 356.0L1062.7 367.2M1051.5 367.2L1062.7 356.0" stroke="#142a28" stroke-width="4.3" stroke-linecap="butt" fill="none"/>
<path d="M1063.0 383.4L1074.2 394.6M1063.0 394.6L1074.2 383.4" stroke="#142a28" stroke-width="4.3" stroke-linecap="butt" fill="none"/>
<path d="M1074.5 413.4L1085.7 424.6M1074.5 424.6L1085.7 413.4" stroke="#142a28" stroke-width="4.3" stroke-linecap="butt" fill="none"/>
<path d="M1086.0 437.4L1097.2 448.6M1086.0 448.6L1097.2 437.4" stroke="#142a28" stroke-width="4.3" stroke-linecap="butt" fill="none"/>
<path d="M1097.5 460.4L1108.7 471.6M1097.5 471.6L1108.7 460.4" stroke="#142a28" stroke-width="4.3" stroke-linecap="butt" fill="none"/>
<path d="M1109.0 481.4L1120.2 492.6M1109.0 492.6L1120.2 481.4" stroke="#142a28" stroke-width="4.3" stroke-linecap="butt" fill="none"/>
<path d="M1120.5 497.4L1131.7 508.6M1120.5 508.6L1131.7 497.4" stroke="#142a28" stroke-width="4.3" stroke-linecap="butt" fill="none"/>
<path d="M1132.0 513.4L1143.2 524.6M1132.0 524.6L1143.2 513.4" stroke="#142a28" stroke-width="4.3" stroke-linecap="butt" fill="none"/>
<path d="M1143.5 524.9L1154.7 536.1M1143.5 536.1L1154.7 524.9" stroke="#142a28" stroke-width="4.3" stroke-linecap="butt" fill="none"/>
<path d="M1155.0 535.9L1166.2 547.1M1155.0 547.1L1166.2 535.9" stroke="#142a28" stroke-width="4.3" stroke-linecap="butt" fill="none"/>
<path d="M1166.5 545.4L1177.7 556.6M1166.5 556.6L1177.7 545.4" stroke="#142a28" stroke-width="4.3" stroke-linecap="butt" fill="none"/>
<path d="M1178.0 551.9L1189.2 563.1M1178.0 563.1L1189.2 551.9" stroke="#142a28" stroke-width="4.3" stroke-linecap="butt" fill="none"/>
<path d="M1189.5 558.4L1200.7 569.6M1189.5 569.6L1200.7 558.4" stroke="#142a28" stroke-width="4.3" stroke-linecap="butt" fill="none"/>
<path d="M1201.0 563.4L1212.2 574.6M1201.0 574.6L1212.2 563.4" stroke="#142a28" stroke-width="4.3" stroke-linecap="butt" fill="none"/>
<path d="M1212.5 568.4L1223.7 579.6M1212.5 579.6L1223.7 568.4" stroke="#142a28" stroke-width="4.3" stroke-linecap="butt" fill="none"/>
<path d="M1224.0 571.7L1235.2 582.9M1224.0 582.9L1235.2 571.7" stroke="#142a28" stroke-width="4.3" stroke-linecap="butt" fill="none"/>
<path d="M1235.5 575.0L1246.7 586.2M1235.5 586.2L1246.7 575.0" stroke="#142a28" stroke-width="4.3" stroke-linecap="butt" fill="none"/>
<path d="M1247.0 578.7L1258.2 589.9M1247.0 589.9L1258.2 578.7" stroke="#142a28" stroke-width="4.3" stroke-linecap="butt" fill="none"/>
<path d="M918.8 598.0L919.3 595.9L919.8 593.8L920.3 591.7L920.8 589.5L921.3 587.3L921.8 585.1L922.3 582.8L922.8 580.5L923.3 578.2L923.8 575.8L924.3 573.4L924.8 571.0L925.3 568.5L925.8 565.9L926.3 563.3L926.8 560.6L927.3 557.8L927.8 554.9L928.3 552.0L928.8 549.1L929.3 546.2L929.8 543.3L930.3 540.3L930.8 537.4L931.3 534.5L931.8 531.7L932.3 528.8L932.8 526.1L933.3 523.4L933.8 520.8L934.3 518.3L934.8 515.9L935.3 513.6L935.8 511.4L936.3 509.1L936.8 507.0L937.3 504.8L937.8 502.7L938.3 500.6L938.8 498.5L939.3 496.4L939.8 494.4L940.3 492.4L940.8 490.4L941.3 488.5L941.8 486.5L942.3 484.6L942.8 482.7L943.3 480.8L943.8 479.0L944.3 477.1L944.8 475.3L945.3 473.5L945.8 471.7L946.3 469.9L946.8 468.1L947.3 466.3L947.8 464.6L948.3 462.8L948.8 461.1L949.3 459.3L949.8 457.6L950.3 455.9L950.8 454.1L951.3 452.4L951.8 450.7L952.3 449.0L952.8 447.3L953.3 445.6L953.8 444.0L954.3 442.4L954.8 440.8L955.3 439.2L955.8 437.6L956.3 436.0L956.8 434.5L957.3 432.9L957.8 431.3L958.3 429.8L958.8 428.2L959.3 426.7L959.8 425.2L960.3 423.6L960.8 422.1L961.3 420.5L961.8 418.9L962.3 417.4L962.8 415.8L963.3 414.2L963.8 412.6L964.3 411.0L964.8 409.4L965.3 407.7L965.8 406.1L966.3 404.5L966.8 402.8L967.3 401.2L967.8 399.6L968.3 397.9L968.8 396.3L969.3 394.7L969.8 393.1L970.3 391.5L970.8 389.9L971.3 388.3L971.8 386.8L972.3 385.2L972.8 383.7L973.3 382.2L973.8 380.7L974.3 379.3L974.8 377.8L975.3 376.4L975.8 375.0L976.3 373.7L976.8 372.4L977.3 371.1L977.8 369.8L978.3 368.5L978.8 367.3L979.3 366.1L979.8 364.9L980.3 363.6L980.8 362.4L981.3 361.2L981.8 360.1L982.3 358.9L982.8 357.7L983.3 356.5L983.8 355.3L984.3 354.0L984.8 352.8L985.3 351.6L985.8 350.3L986.3 349.0L986.8 347.7L987.3 346.4L987.8 345.1L988.3 343.7L988.8 342.2L989.3 340.8L989.8 339.3L990.3 337.7L990.8 336.2L991.3 334.6L991.8 333.1L992.3 331.5L992.8 329.9L993.3 328.4L993.8 326.8L994.3 325.3L994.8 323.8L995.3 322.4L995.8 320.9L996.3 319.6L996.8 318.2L997.3 317.0L997.8 315.8L998.3 314.6L998.8 313.5L999.3 312.3L999.8 311.1L1000.3 310.0L1000.8 308.8L1001.3 307.7L1001.8 306.6L1002.3 305.5L1002.8 304.4L1003.3 303.3L1003.8 302.3L1004.3 301.2L1004.8 300.3L1005.3 299.3L1005.8 298.4L1006.3 297.5L1006.8 296.7L1007.3 295.9L1007.8 295.2L1008.3 294.5L1008.8 293.9L1009.3 293.4L1009.8 292.9L1010.3 292.4L1010.8 292.0L1011.3 291.6L1011.8 291.2L1012.3 290.8L1012.8 290.4L1013.3 290.0L1013.8 289.6L1014.3 289.2L1014.8 288.9L1015.3 288.5L1015.8 288.2L1016.3 287.9L1016.8 287.6L1017.3 287.3L1017.8 287.1L1018.3 286.8L1018.8 286.6L1019.3 286.5L1019.8 286.3L1020.3 286.2L1020.8 286.1L1021.3 286.0L1021.8 286.0L1022.3 286.0L1022.8 286.0L1023.3 286.1L1023.8 286.2L1024.3 286.3L1024.8 286.4L1025.3 286.5L1025.8 286.7L1026.3 286.9L1026.8 287.0L1027.3 287.2L1027.8 287.5L1028.3 287.7L1028.8 287.9L1029.3 288.2L1029.8 288.4L1030.3 288.7L1030.8 289.0L1031.3 289.2L1031.8 289.5L1032.3 289.8L1032.8 290.1L1033.3 290.4L1033.8 290.7L1034.3 291.0L1034.8 291.4L1035.3 291.8L1035.8 292.3L1036.3 292.7L1036.8 293.2L1037.3 293.7L1037.8 294.2L1038.3 294.8L1038.8 295.3L1039.3 295.9L1039.8 296.4L1040.3 297.0L1040.8 297.6L1041.3 298.2L1041.8 298.8L1042.3 299.5L1042.8 300.1L1043.3 300.7L1043.8 301.3L1044.3 302.0L1044.8 302.7L1045.3 303.4L1045.8 304.2L1046.3 304.9L1046.8 305.7L1047.3 306.6L1047.8 307.4L1048.3 308.2L1048.8 309.1L1049.3 309.9L1049.8 310.8L1050.3 311.7L1050.8 312.5L1051.3 313.4L1051.8 314.3L1052.3 315.1L1052.8 316.0L1053.3 316.8L1053.8 317.7L1054.3 318.5L1054.8 319.3L1055.3 320.1L1055.8 321.0L1056.3 321.8L1056.8 322.6L1057.3 323.4L1057.8 324.3L1058.3 325.1L1058.8 325.9L1059.3 326.8L1059.8 327.6L1060.3 328.4L1060.8 329.3L1061.3 330.1L1061.8 331.0L1062.3 331.8L1062.8 332.7L1063.3 333.6L1063.8 334.4L1064.3 335.3L1064.8 336.2L1065.3 337.1L1065.8 337.9L1066.3 338.8L1066.8 339.7L1067.3 340.6L1067.8 341.5L1068.3 342.4L1068.8 343.3L1069.3 344.3L1069.8 345.2L1070.3 346.1L1070.8 347.0L1071.3 347.9L1071.8 348.9L1072.3 349.8L1072.8 350.8L1073.3 351.7L1073.8 352.6L1074.3 353.6L1074.8 354.5L1075.3 355.5L1075.8 356.5L1076.3 357.4L1076.8 358.4L1077.3 359.4L1077.8 360.4L1078.3 361.4L1078.8 362.4L1079.3 363.4L1079.8 364.4L1080.3 365.5L1080.8 366.5L1081.3 367.5L1081.8 368.5L1082.3 369.5L1082.8 370.6L1083.3 371.6L1083.8 372.6L1084.3 373.6L1084.8 374.7L1085.3 375.7L1085.8 376.7L1086.3 377.7L1086.8 378.7L1087.3 379.7L1087.8 380.7L1088.3 381.6L1088.8 382.6L1089.3 383.6L1089.8 384.5L1090.3 385.5L1090.8 386.4L1091.3 387.4L1091.8 388.3L1092.3 389.2L1092.8 390.2L1093.3 391.1L1093.8 392.0L1094.3 392.9L1094.8 393.9L1095.3 394.8L1095.8 395.7L1096.3 396.6L1096.8 397.5L1097.3 398.4L1097.8 399.3L1098.3 400.3L1098.8 401.2L1099.3 402.1L1099.8 403.0L1100.3 403.9L1100.8 404.8L1101.3 405.7L1101.8 406.7L1102.3 407.6L1102.8 408.5L1103.3 409.4L1103.8 410.4L1104.3 411.3L1104.8 412.2L1105.3 413.2L1105.8 414.1L1106.3 415.0L1106.8 415.9L1107.3 416.8L1107.8 417.7L1108.3 418.6L1108.8 419.5L1109.3 420.4L1109.8 421.3L1110.3 422.1L1110.8 423.0L1111.3 423.8L1111.8 424.7L1112.3 425.5L1112.8 426.3L1113.3 427.1L1113.8 427.9L1114.3 428.7L1114.8 429.5L1115.3 430.3L1115.8 431.0L1116.3 431.8L1116.8 432.6L1117.3 433.3L1117.8 434.1L1118.3 434.9L1118.8 435.6L1119.3 436.4L1119.8 437.1L1120.3 437.9L1120.8 438.6L1121.3 439.4L1121.8 440.2L1122.3 440.9L1122.8 441.7L1123.3 442.5L1123.8 443.2L1124.3 444.0L1124.8 444.8L1125.3 445.6L1125.8 446.3L1126.3 447.1L1126.8 447.9L1127.3 448.7L1127.8 449.4L1128.3 450.2L1128.8 451.0L1129.3 451.7L1129.8 452.5L1130.3 453.2L1130.8 454.0L1131.3 454.7L1131.8 455.5L1132.3 456.2L1132.8 456.9L1133.3 457.6L1133.8 458.4L1134.3 459.1L1134.8 459.8L1135.3 460.5L1135.8 461.2L1136.3 461.9L1136.8 462.6L1137.3 463.3L1137.8 464.0L1138.3 464.6L1138.8 465.3L1139.3 466.0L1139.8 466.7L1140.3 467.3L1140.8 468.0L1141.3 468.7L1141.8 469.3L1142.3 470.0L1142.8 470.6L1143.3 471.2L1143.8 471.9L1144.3 472.5L1144.8 473.1L1145.3 473.7L1145.8 474.4L1146.3 475.0L1146.8 475.6L1147.3 476.1L1147.8 476.7L1148.3 477.3L1148.8 477.9L1149.3 478.5L1149.8 479.0L1150.3 479.6L1150.8 480.2L1151.3 480.7L1151.8 481.3L1152.3 481.8L1152.8 482.4L1153.3 482.9L1153.8 483.5L1154.3 484.0L1154.8 484.6L1155.3 485.1L1155.8 485.7L1156.3 486.2L1156.8 486.8L1157.3 487.3L1157.8 487.9L1158.3 488.4L1158.8 489.0L1159.3 489.5L1159.8 490.1L1160.3 490.6L1160.8 491.2L1161.3 491.7L1161.8 492.2L1162.3 492.8L1162.8 493.3L1163.3 493.9L1163.8 494.4L1164.3 494.9L1164.8 495.5L1165.3 496.0L1165.8 496.6L1166.3 497.1L1166.8 497.6L1167.3 498.2L1167.8 498.7L1168.3 499.2L1168.8 499.8L1169.3 500.3L1169.8 500.9L1170.3 501.5L1170.8 502.0L1171.3 502.6L1171.8 503.2L1172.3 503.8L1172.8 504.4L1173.3 505.0L1173.8 505.6L1174.3 506.2L1174.8 506.8L1175.3 507.4L1175.8 508.0L1176.3 508.6L1176.8 509.1L1177.3 509.6L1177.8 510.2L1178.3 510.7L1178.8 511.1L1179.3 511.6L1179.8 512.0L1180.3 512.4L1180.8 512.7L1181.3 513.1L1181.8 513.4L1182.3 513.7L1182.8 514.0L1183.3 514.2L1183.8 514.5L1184.3 514.7L1184.8 515.0L1185.3 515.2L1185.8 515.4L1186.3 515.6L1186.8 515.8L1187.3 516.0L1187.8 516.2L1188.3 516.4L1188.8 516.6L1189.3 516.8L1189.8 517.0L1190.3 517.2L1190.8 517.5L1191.3 517.7L1191.8 517.9L1192.3 518.1L1192.8 518.3L1193.3 518.6L1193.8 518.8L1194.3 519.1L1194.8 519.4L1195.3 519.7L1195.8 520.0L1196.3 520.3L1196.8 520.6L1197.3 521.0L1197.8 521.3L1198.3 521.7L1198.8 522.1L1199.3 522.4L1199.8 522.8L1200.3 523.2L1200.8 523.6L1201.3 524.0L1201.8 524.4L1202.3 524.8L1202.8 525.2L1203.3 525.5L1203.8 525.9L1204.3 526.3L1204.8 526.7L1205.3 527.1L1205.8 527.4L1206.3 527.8L1206.8 528.1L1207.3 528.5L1207.8 528.8L1208.3 529.2L1208.8 529.5L1209.3 529.8L1209.8 530.2L1210.3 530.5L1210.8 530.8L1211.3 531.2L1211.8 531.5L1212.3 531.8L1212.8 532.2L1213.3 532.5L1213.8 532.8L1214.3 533.1L1214.8 533.5L1215.3 533.8L1215.8 534.1L1216.3 534.4L1216.8 534.7L1217.3 535.1L1217.8 535.4L1218.3 535.7L1218.8 536.0L1219.3 536.3L1219.8 536.6L1220.3 536.9L1220.8 537.2L1221.3 537.5L1221.8 537.9L1222.3 538.2L1222.8 538.5L1223.3 538.8L1223.8 539.1L1224.3 539.4L1224.8 539.7L1225.3 540.0L1225.8 540.3L1226.3 540.6L1226.8 540.9L1227.3 541.1L1227.8 541.4L1228.3 541.7L1228.8 542.0L1229.3 542.3L1229.8 542.6L1230.3 542.9L1230.8 543.2L1231.3 543.5L1231.8 543.8L1232.3 544.1L1232.8 544.4L1233.3 544.6L1233.8 544.9L1234.3 545.2L1234.8 545.5L1235.3 545.8L1235.8 546.1L1236.3 546.3L1236.8 546.6L1237.3 546.9L1237.8 547.2L1238.3 547.5L1238.8 547.8L1239.3 548.0L1239.8 548.3L1240.3 548.6L1240.8 548.9L1241.3 549.2L1241.8 549.5L1242.3 549.7L1242.8 550.0L1243.3 550.3L1243.8 550.6L1244.3 550.9L1244.8 551.2L1245.3 551.4L1245.8 551.7L1246.3 552.0L1246.8 552.3L1247.3 552.6L1247.8 552.9L1248.3 553.1L1248.8 553.4L1249.3 553.7L1249.8 554.0L1250.3 554.3L1250.8 554.5L1251.3 554.8L1251.8 555.1L1252.3 555.3L1252.8 555.6L1253.3 555.9L1253.8 556.1L1254.3 556.4L1254.8 556.7L1255.3 556.9L1255.8 557.2L1256.3 557.4L1256.8 557.7L1257.3 557.9L1257.8 558.2L1258.3 558.5L1258.8 558.7L1259.3 559.0L1259.8 559.2L1260.3 559.5L1260.4 559.5" fill="none" stroke="#3cc0bc" stroke-width="4.8" stroke-dasharray="13.2 5.2" stroke-linejoin="round"/>
<rect x="913.4" y="591.1" width="11.4" height="11.4" fill="none" stroke="#3cc0bc" stroke-width="4.8"/>
<rect x="924.9" y="532.9" width="11.4" height="11.4" fill="none" stroke="#3cc0bc" stroke-width="4.8"/>
<rect x="936.4" y="479.7" width="11.4" height="11.4" fill="none" stroke="#3cc0bc" stroke-width="4.8"/>
<rect x="947.9" y="439.0" width="11.4" height="11.4" fill="none" stroke="#3cc0bc" stroke-width="4.8"/>
<rect x="959.4" y="402.7" width="11.4" height="11.4" fill="none" stroke="#3cc0bc" stroke-width="4.8"/>
<rect x="970.9" y="367.2" width="11.4" height="11.4" fill="none" stroke="#3cc0bc" stroke-width="4.8"/>
<rect x="982.4" y="338.5" width="11.4" height="11.4" fill="none" stroke="#3cc0bc" stroke-width="4.8"/>
<rect x="993.9" y="305.9" width="11.4" height="11.4" fill="none" stroke="#3cc0bc" stroke-width="4.8"/>
<rect x="1005.4" y="286.1" width="11.4" height="11.4" fill="none" stroke="#3cc0bc" stroke-width="4.8"/>
<rect x="1016.9" y="280.3" width="11.4" height="11.4" fill="none" stroke="#3cc0bc" stroke-width="4.8"/>
<rect x="1028.4" y="285.2" width="11.4" height="11.4" fill="none" stroke="#3cc0bc" stroke-width="4.8"/>
<rect x="1039.9" y="298.2" width="11.4" height="11.4" fill="none" stroke="#3cc0bc" stroke-width="4.8"/>
<rect x="1051.4" y="317.4" width="11.4" height="11.4" fill="none" stroke="#3cc0bc" stroke-width="4.8"/>
<rect x="1062.9" y="337.3" width="11.4" height="11.4" fill="none" stroke="#3cc0bc" stroke-width="4.8"/>
<rect x="1074.4" y="359.3" width="11.4" height="11.4" fill="none" stroke="#3cc0bc" stroke-width="4.8"/>
<rect x="1085.9" y="382.2" width="11.4" height="11.4" fill="none" stroke="#3cc0bc" stroke-width="4.8"/>
<rect x="1097.4" y="403.4" width="11.4" height="11.4" fill="none" stroke="#3cc0bc" stroke-width="4.8"/>
<rect x="1108.9" y="423.5" width="11.4" height="11.4" fill="none" stroke="#3cc0bc" stroke-width="4.8"/>
<rect x="1120.4" y="441.1" width="11.4" height="11.4" fill="none" stroke="#3cc0bc" stroke-width="4.8"/>
<rect x="1131.9" y="458.0" width="11.4" height="11.4" fill="none" stroke="#3cc0bc" stroke-width="4.8"/>
<rect x="1143.4" y="472.5" width="11.4" height="11.4" fill="none" stroke="#3cc0bc" stroke-width="4.8"/>
<rect x="1154.9" y="485.2" width="11.4" height="11.4" fill="none" stroke="#3cc0bc" stroke-width="4.8"/>
<rect x="1166.4" y="497.9" width="11.4" height="11.4" fill="none" stroke="#3cc0bc" stroke-width="4.8"/>
<rect x="1177.9" y="508.7" width="11.4" height="11.4" fill="none" stroke="#3cc0bc" stroke-width="4.8"/>
<rect x="1189.4" y="513.9" width="11.4" height="11.4" fill="none" stroke="#3cc0bc" stroke-width="4.8"/>
<rect x="1200.9" y="522.3" width="11.4" height="11.4" fill="none" stroke="#3cc0bc" stroke-width="4.8"/>
<rect x="1212.4" y="529.9" width="11.4" height="11.4" fill="none" stroke="#3cc0bc" stroke-width="4.8"/>
<rect x="1223.9" y="536.8" width="11.4" height="11.4" fill="none" stroke="#3cc0bc" stroke-width="4.8"/>
<rect x="1235.4" y="543.4" width="11.4" height="11.4" fill="none" stroke="#3cc0bc" stroke-width="4.8"/>
<rect x="1246.9" y="549.8" width="11.4" height="11.4" fill="none" stroke="#3cc0bc" stroke-width="4.8"/>
<path d="M918.8 592.0L919.3 585.3L919.8 581.2L920.3 577.5L920.8 574.0L921.3 570.7L921.8 567.7L922.3 565.0L922.8 562.4L923.3 560.0L923.8 557.8L924.3 555.8L924.8 553.8L925.3 552.0L925.8 550.3L926.3 548.7L926.8 547.1L927.3 545.5L927.8 544.0L928.3 542.5L928.8 540.9L929.3 539.4L929.8 537.7L930.3 536.1L930.8 534.3L931.3 532.5L931.8 530.8L932.3 529.2L932.8 527.6L933.3 526.0L933.8 524.5L934.3 522.9L934.8 521.4L935.3 520.0L935.8 518.5L936.3 517.1L936.8 515.7L937.3 514.3L937.8 512.9L938.3 511.6L938.8 510.2L939.3 508.8L939.8 507.4L940.3 506.1L940.8 504.7L941.3 503.3L941.8 501.9L942.3 500.4L942.8 499.0L943.3 497.5L943.8 496.1L944.3 494.7L944.8 493.2L945.3 491.8L945.8 490.3L946.3 488.9L946.8 487.5L947.3 486.0L947.8 484.6L948.3 483.2L948.8 481.8L949.3 480.4L949.8 479.0L950.3 477.6L950.8 476.3L951.3 474.9L951.8 473.6L952.3 472.3L952.8 471.0L953.3 469.8L953.8 468.5L954.3 467.3L954.8 466.1L955.3 464.9L955.8 463.7L956.3 462.6L956.8 461.5L957.3 460.3L957.8 459.2L958.3 458.1L958.8 457.0L959.3 455.9L959.8 454.9L960.3 453.8L960.8 452.7L961.3 451.6L961.8 450.5L962.3 449.4L962.8 448.3L963.3 447.2L963.8 446.0L964.3 444.9L964.8 443.7L965.3 442.5L965.8 441.3L966.3 440.1L966.8 438.9L967.3 437.6L967.8 436.4L968.3 435.1L968.8 433.9L969.3 432.6L969.8 431.3L970.3 430.0L970.8 428.8L971.3 427.5L971.8 426.2L972.3 424.9L972.8 423.6L973.3 422.3L973.8 421.1L974.3 419.8L974.8 418.5L975.3 417.3L975.8 416.0L976.3 414.7L976.8 413.5L977.3 412.3L977.8 411.1L978.3 409.8L978.8 408.6L979.3 407.4L979.8 406.2L980.3 405.0L980.8 403.9L981.3 402.7L981.8 401.5L982.3 400.3L982.8 399.1L983.3 397.9L983.8 396.7L984.3 395.5L984.8 394.3L985.3 393.1L985.8 391.8L986.3 390.6L986.8 389.3L987.3 388.1L987.8 386.8L988.3 385.5L988.8 384.2L989.3 382.8L989.8 381.5L990.3 380.1L990.8 378.7L991.3 377.3L991.8 375.9L992.3 374.4L992.8 373.0L993.3 371.6L993.8 370.1L994.3 368.7L994.8 367.3L995.3 365.8L995.8 364.4L996.3 363.0L996.8 361.6L997.3 360.2L997.8 358.8L998.3 357.5L998.8 356.1L999.3 354.8L999.8 353.5L1000.3 352.2L1000.8 350.8L1001.3 349.5L1001.8 348.2L1002.3 346.8L1002.8 345.5L1003.3 344.2L1003.8 342.9L1004.3 341.5L1004.8 340.2L1005.3 338.9L1005.8 337.7L1006.3 336.4L1006.8 335.2L1007.3 334.0L1007.8 332.8L1008.3 331.7L1008.8 330.6L1009.3 329.5L1009.8 328.5L1010.3 327.5L1010.8 326.5L1011.3 325.6L1011.8 324.8L1012.3 323.9L1012.8 323.0L1013.3 322.2L1013.8 321.4L1014.3 320.5L1014.8 319.7L1015.3 318.9L1015.8 318.2L1016.3 317.4L1016.8 316.7L1017.3 316.0L1017.8 315.3L1018.3 314.6L1018.8 314.0L1019.3 313.3L1019.8 312.8L1020.3 312.2L1020.8 311.7L1021.3 311.2L1021.8 310.7L1022.3 310.2L1022.8 309.8L1023.3 309.4L1023.8 309.0L1024.3 308.6L1024.8 308.2L1025.3 307.8L1025.8 307.4L1026.3 307.0L1026.8 306.7L1027.3 306.3L1027.8 306.0L1028.3 305.6L1028.8 305.3L1029.3 305.0L1029.8 304.7L1030.3 304.5L1030.8 304.3L1031.3 304.1L1031.8 303.9L1032.3 303.7L1032.8 303.6L1033.3 303.5L1033.8 303.5L1034.3 303.5L1034.8 303.5L1035.3 303.6L1035.8 303.6L1036.3 303.7L1036.8 303.8L1037.3 303.9L1037.8 304.0L1038.3 304.1L1038.8 304.3L1039.3 304.4L1039.8 304.6L1040.3 304.7L1040.8 304.9L1041.3 305.1L1041.8 305.3L1042.3 305.5L1042.8 305.7L1043.3 306.0L1043.8 306.2L1044.3 306.4L1044.8 306.6L1045.3 306.9L1045.8 307.1L1046.3 307.4L1046.8 307.7L1047.3 308.0L1047.8 308.3L1048.3 308.7L1048.8 309.1L1049.3 309.6L1049.8 310.0L1050.3 310.5L1050.8 311.0L1051.3 311.5L1051.8 312.1L1052.3 312.6L1052.8 313.2L1053.3 313.7L1053.8 314.3L1054.3 314.8L1054.8 315.4L1055.3 316.0L1055.8 316.6L1056.3 317.1L1056.8 317.7L1057.3 318.2L1057.8 318.8L1058.3 319.3L1058.8 319.9L1059.3 320.5L1059.8 321.1L1060.3 321.7L1060.8 322.3L1061.3 322.9L1061.8 323.5L1062.3 324.1L1062.8 324.8L1063.3 325.4L1063.8 326.1L1064.3 326.7L1064.8 327.4L1065.3 328.1L1065.8 328.7L1066.3 329.4L1066.8 330.1L1067.3 330.8L1067.8 331.5L1068.3 332.3L1068.8 333.0L1069.3 333.7L1069.8 334.5L1070.3 335.3L1070.8 336.1L1071.3 336.9L1071.8 337.7L1072.3 338.5L1072.8 339.4L1073.3 340.2L1073.8 341.1L1074.3 341.9L1074.8 342.8L1075.3 343.7L1075.8 344.5L1076.3 345.4L1076.8 346.3L1077.3 347.2L1077.8 348.0L1078.3 348.9L1078.8 349.8L1079.3 350.6L1079.8 351.5L1080.3 352.3L1080.8 353.2L1081.3 354.0L1081.8 354.9L1082.3 355.7L1082.8 356.6L1083.3 357.4L1083.8 358.3L1084.3 359.2L1084.8 360.0L1085.3 360.9L1085.8 361.7L1086.3 362.6L1086.8 363.4L1087.3 364.3L1087.8 365.1L1088.3 366.0L1088.8 366.8L1089.3 367.7L1089.8 368.5L1090.3 369.3L1090.8 370.2L1091.3 371.0L1091.8 371.8L1092.3 372.7L1092.8 373.5L1093.3 374.3L1093.8 375.1L1094.3 375.9L1094.8 376.7L1095.3 377.5L1095.8 378.3L1096.3 379.1L1096.8 379.9L1097.3 380.7L1097.8 381.5L1098.3 382.3L1098.8 383.1L1099.3 383.9L1099.8 384.7L1100.3 385.5L1100.8 386.3L1101.3 387.1L1101.8 387.9L1102.3 388.7L1102.8 389.5L1103.3 390.3L1103.8 391.1L1104.3 392.0L1104.8 392.8L1105.3 393.6L1105.8 394.4L1106.3 395.2L1106.8 396.0L1107.3 396.9L1107.8 397.7L1108.3 398.5L1108.8 399.3L1109.3 400.1L1109.8 401.0L1110.3 401.8L1110.8 402.6L1111.3 403.5L1111.8 404.3L1112.3 405.1L1112.8 406.0L1113.3 406.8L1113.8 407.6L1114.3 408.5L1114.8 409.3L1115.3 410.2L1115.8 411.0L1116.3 411.9L1116.8 412.8L1117.3 413.6L1117.8 414.5L1118.3 415.4L1118.8 416.3L1119.3 417.2L1119.8 418.0L1120.3 418.9L1120.8 419.8L1121.3 420.7L1121.8 421.6L1122.3 422.4L1122.8 423.3L1123.3 424.2L1123.8 425.0L1124.3 425.9L1124.8 426.8L1125.3 427.6L1125.8 428.5L1126.3 429.3L1126.8 430.2L1127.3 431.0L1127.8 431.9L1128.3 432.7L1128.8 433.6L1129.3 434.4L1129.8 435.3L1130.3 436.1L1130.8 436.9L1131.3 437.8L1131.8 438.6L1132.3 439.4L1132.8 440.3L1133.3 441.1L1133.8 441.9L1134.3 442.7L1134.8 443.5L1135.3 444.4L1135.8 445.2L1136.3 446.0L1136.8 446.7L1137.3 447.5L1137.8 448.3L1138.3 449.1L1138.8 449.9L1139.3 450.7L1139.8 451.4L1140.3 452.2L1140.8 453.0L1141.3 453.8L1141.8 454.5L1142.3 455.3L1142.8 456.1L1143.3 456.8L1143.8 457.6L1144.3 458.3L1144.8 459.1L1145.3 459.8L1145.8 460.5L1146.3 461.2L1146.8 461.9L1147.3 462.6L1147.8 463.3L1148.3 464.0L1148.8 464.6L1149.3 465.3L1149.8 465.9L1150.3 466.5L1150.8 467.1L1151.3 467.7L1151.8 468.3L1152.3 468.9L1152.8 469.5L1153.3 470.1L1153.8 470.7L1154.3 471.2L1154.8 471.8L1155.3 472.4L1155.8 472.9L1156.3 473.4L1156.8 474.0L1157.3 474.5L1157.8 475.1L1158.3 475.6L1158.8 476.1L1159.3 476.6L1159.8 477.2L1160.3 477.7L1160.8 478.2L1161.3 478.7L1161.8 479.2L1162.3 479.7L1162.8 480.2L1163.3 480.7L1163.8 481.2L1164.3 481.7L1164.8 482.2L1165.3 482.6L1165.8 483.1L1166.3 483.6L1166.8 484.1L1167.3 484.5L1167.8 485.0L1168.3 485.5L1168.8 485.9L1169.3 486.4L1169.8 486.9L1170.3 487.3L1170.8 487.8L1171.3 488.3L1171.8 488.7L1172.3 489.2L1172.8 489.7L1173.3 490.1L1173.8 490.6L1174.3 491.0L1174.8 491.5L1175.3 492.0L1175.8 492.4L1176.3 492.9L1176.8 493.3L1177.3 493.8L1177.8 494.2L1178.3 494.7L1178.8 495.2L1179.3 495.6L1179.8 496.1L1180.3 496.5L1180.8 497.0L1181.3 497.5L1181.8 497.9L1182.3 498.4L1182.8 498.9L1183.3 499.3L1183.8 499.8L1184.3 500.3L1184.8 500.8L1185.3 501.3L1185.8 501.8L1186.3 502.3L1186.8 502.8L1187.3 503.3L1187.8 503.8L1188.3 504.3L1188.8 504.8L1189.3 505.3L1189.8 505.8L1190.3 506.3L1190.8 506.9L1191.3 507.4L1191.8 507.9L1192.3 508.4L1192.8 508.9L1193.3 509.4L1193.8 509.9L1194.3 510.4L1194.8 510.9L1195.3 511.3L1195.8 511.8L1196.3 512.3L1196.8 512.7L1197.3 513.2L1197.8 513.7L1198.3 514.1L1198.8 514.6L1199.3 515.0L1199.8 515.5L1200.3 515.9L1200.8 516.4L1201.3 516.8L1201.8 517.3L1202.3 517.7L1202.8 518.1L1203.3 518.6L1203.8 519.0L1204.3 519.4L1204.8 519.9L1205.3 520.3L1205.8 520.7L1206.3 521.1L1206.8 521.5L1207.3 521.9L1207.8 522.3L1208.3 522.7L1208.8 523.1L1209.3 523.5L1209.8 523.9L1210.3 524.3L1210.8 524.7L1211.3 525.1L1211.8 525.5L1212.3 525.9L1212.8 526.3L1213.3 526.7L1213.8 527.0L1214.3 527.4L1214.8 527.8L1215.3 528.2L1215.8 528.5L1216.3 528.9L1216.8 529.3L1217.3 529.6L1217.8 530.0L1218.3 530.3L1218.8 530.7L1219.3 531.0L1219.8 531.4L1220.3 531.7L1220.8 532.0L1221.3 532.4L1221.8 532.7L1222.3 533.0L1222.8 533.4L1223.3 533.7L1223.8 534.0L1224.3 534.3L1224.8 534.6L1225.3 535.0L1225.8 535.3L1226.3 535.6L1226.8 535.9L1227.3 536.2L1227.8 536.5L1228.3 536.8L1228.8 537.1L1229.3 537.4L1229.8 537.7L1230.3 538.0L1230.8 538.3L1231.3 538.6L1231.8 538.9L1232.3 539.2L1232.8 539.5L1233.3 539.7L1233.8 540.0L1234.3 540.3L1234.8 540.6L1235.3 540.9L1235.8 541.1L1236.3 541.4L1236.8 541.7L1237.3 541.9L1237.8 542.2L1238.3 542.5L1238.8 542.7L1239.3 543.0L1239.8 543.3L1240.3 543.5L1240.8 543.8L1241.3 544.1L1241.8 544.3L1242.3 544.6L1242.8 544.9L1243.3 545.1L1243.8 545.4L1244.3 545.7L1244.8 545.9L1245.3 546.2L1245.8 546.5L1246.3 546.8L1246.8 547.1L1247.3 547.3L1247.8 547.6L1248.3 547.9L1248.8 548.2L1249.3 548.5L1249.8 548.7L1250.3 549.0L1250.8 549.2L1251.3 549.5L1251.8 549.7L1252.3 550.0L1252.8 550.2L1253.3 550.4L1253.8 550.6L1254.3 550.8L1254.8 551.0L1255.3 551.2L1255.8 551.4L1256.3 551.6L1256.8 551.8L1257.3 552.0L1257.8 552.2L1258.3 552.3L1258.8 552.5L1259.3 552.7L1259.8 552.8L1260.3 553.0L1260.4 553.0" fill="none" stroke="#19148c" stroke-width="4.8" stroke-dasharray="13.2 5.2" stroke-linejoin="round"/>
<path d="M914.1 587.0L923.9 579.7L923.9 594.3Z" fill="none" stroke="#19148c" stroke-width="4.2" stroke-linejoin="miter" stroke-miterlimit="10"/>
<path d="M925.6 535.0L935.4 527.7L935.4 542.3Z" fill="none" stroke="#19148c" stroke-width="4.2" stroke-linejoin="miter" stroke-miterlimit="10"/>
<path d="M937.1 501.0L946.9 493.7L946.9 508.3Z" fill="none" stroke="#19148c" stroke-width="4.2" stroke-linejoin="miter" stroke-miterlimit="10"/>
<path d="M948.6 469.0L958.4 461.7L958.4 476.3Z" fill="none" stroke="#19148c" stroke-width="4.2" stroke-linejoin="miter" stroke-miterlimit="10"/>
<path d="M960.1 443.0L969.9 435.7L969.9 450.3Z" fill="none" stroke="#19148c" stroke-width="4.2" stroke-linejoin="miter" stroke-miterlimit="10"/>
<path d="M971.6 414.0L981.4 406.7L981.4 421.3Z" fill="none" stroke="#19148c" stroke-width="4.2" stroke-linejoin="miter" stroke-miterlimit="10"/>
<path d="M983.1 386.0L992.9 378.7L992.9 393.3Z" fill="none" stroke="#19148c" stroke-width="4.2" stroke-linejoin="miter" stroke-miterlimit="10"/>
<path d="M994.6 354.0L1004.4 346.7L1004.4 361.3Z" fill="none" stroke="#19148c" stroke-width="4.2" stroke-linejoin="miter" stroke-miterlimit="10"/>
<path d="M1006.1 326.0L1015.9 318.7L1015.9 333.3Z" fill="none" stroke="#19148c" stroke-width="4.2" stroke-linejoin="miter" stroke-miterlimit="10"/>
<path d="M1017.6 310.0L1027.4 302.7L1027.4 317.3Z" fill="none" stroke="#19148c" stroke-width="4.2" stroke-linejoin="miter" stroke-miterlimit="10"/>
<path d="M1029.1 303.5L1038.9 296.2L1038.9 310.8Z" fill="none" stroke="#19148c" stroke-width="4.2" stroke-linejoin="miter" stroke-miterlimit="10"/>
<path d="M1040.6 307.0L1050.4 299.7L1050.4 314.3Z" fill="none" stroke="#19148c" stroke-width="4.2" stroke-linejoin="miter" stroke-miterlimit="10"/>
<path d="M1052.1 318.0L1061.9 310.7L1061.9 325.3Z" fill="none" stroke="#19148c" stroke-width="4.2" stroke-linejoin="miter" stroke-miterlimit="10"/>
<path d="M1063.6 332.7L1073.4 325.4L1073.4 340.0Z" fill="none" stroke="#19148c" stroke-width="4.2" stroke-linejoin="miter" stroke-miterlimit="10"/>
<path d="M1075.1 352.0L1084.9 344.7L1084.9 359.3Z" fill="none" stroke="#19148c" stroke-width="4.2" stroke-linejoin="miter" stroke-miterlimit="10"/>
<path d="M1086.6 371.5L1096.4 364.2L1096.4 378.8Z" fill="none" stroke="#19148c" stroke-width="4.2" stroke-linejoin="miter" stroke-miterlimit="10"/>
<path d="M1098.1 390.0L1107.9 382.7L1107.9 397.3Z" fill="none" stroke="#19148c" stroke-width="4.2" stroke-linejoin="miter" stroke-miterlimit="10"/>
<path d="M1109.6 409.0L1119.4 401.7L1119.4 416.3Z" fill="none" stroke="#19148c" stroke-width="4.2" stroke-linejoin="miter" stroke-miterlimit="10"/>
<path d="M1121.1 429.0L1130.9 421.7L1130.9 436.3Z" fill="none" stroke="#19148c" stroke-width="4.2" stroke-linejoin="miter" stroke-miterlimit="10"/>
<path d="M1132.6 448.0L1142.4 440.7L1142.4 455.3Z" fill="none" stroke="#19148c" stroke-width="4.2" stroke-linejoin="miter" stroke-miterlimit="10"/>
<path d="M1144.1 465.0L1153.9 457.7L1153.9 472.3Z" fill="none" stroke="#19148c" stroke-width="4.2" stroke-linejoin="miter" stroke-miterlimit="10"/>
<path d="M1155.6 478.0L1165.4 470.7L1165.4 485.3Z" fill="none" stroke="#19148c" stroke-width="4.2" stroke-linejoin="miter" stroke-miterlimit="10"/>
<path d="M1167.1 489.0L1176.9 481.7L1176.9 496.3Z" fill="none" stroke="#19148c" stroke-width="4.2" stroke-linejoin="miter" stroke-miterlimit="10"/>
<path d="M1178.6 499.6L1188.4 492.3L1188.4 506.9Z" fill="none" stroke="#19148c" stroke-width="4.2" stroke-linejoin="miter" stroke-miterlimit="10"/>
<path d="M1190.1 511.1L1199.9 503.8L1199.9 518.4Z" fill="none" stroke="#19148c" stroke-width="4.2" stroke-linejoin="miter" stroke-miterlimit="10"/>
<path d="M1201.6 521.4L1211.4 514.1L1211.4 528.7Z" fill="none" stroke="#19148c" stroke-width="4.2" stroke-linejoin="miter" stroke-miterlimit="10"/>
<path d="M1213.1 530.2L1222.9 522.9L1222.9 537.5Z" fill="none" stroke="#19148c" stroke-width="4.2" stroke-linejoin="miter" stroke-miterlimit="10"/>
<path d="M1224.6 537.6L1234.4 530.3L1234.4 544.9Z" fill="none" stroke="#19148c" stroke-width="4.2" stroke-linejoin="miter" stroke-miterlimit="10"/>
<path d="M1236.1 544.0L1245.9 536.7L1245.9 551.3Z" fill="none" stroke="#19148c" stroke-width="4.2" stroke-linejoin="miter" stroke-miterlimit="10"/>
<path d="M1247.6 550.1L1257.4 542.8L1257.4 557.4Z" fill="none" stroke="#19148c" stroke-width="4.2" stroke-linejoin="miter" stroke-miterlimit="10"/>
<path d="M294.7 123.4H362.8" stroke="#d0232d" stroke-width="4.8" stroke-dasharray="13 5 4.5 5"/>
<text x="376" y="127.6" class="lg">P</text>
<text x="394.5" y="141.4" class="sb">i</text>
<path d="M294.7 172.7H362.8" stroke="#c814c8" stroke-width="4.8" stroke-dasharray="13.2 5.2"/>
<circle cx="330.2" cy="172.7" r="5.2" fill="none" stroke="#c814c8" stroke-width="5.6"/>
<text x="376" y="176.9" class="lg">P</text>
<text x="394.50" y="190.70" class="sb"> </text><polygon points="399.50,190.70 402.44,190.70 402.44,175.79 400.04,175.79 399.64,176.94 398.70,177.78 397.33,178.20 395.95,178.31 395.95,180.51 399.50,180.51" fill="#000"/>
<path d="M294.7 222.6H362.8" stroke="#142a28" stroke-width="4.8" stroke-dasharray="13.2 5.2"/>
<path d="M324.6 217.0L335.8 228.2M324.6 228.2L335.8 217.0" stroke="#142a28" stroke-width="4.3" stroke-linecap="butt" fill="none"/>
<text x="376" y="226.8" class="lg">P</text>
<text x="394.50" y="240.60" class="sb">2</text>
<path d="M294.7 270.7H362.8" stroke="#3cc0bc" stroke-width="4.8" stroke-dasharray="13.2 5.2"/>
<rect x="324.5" y="265.0" width="11.4" height="11.4" fill="none" stroke="#3cc0bc" stroke-width="4.8"/>
<text x="376" y="274.9" class="lg">P</text>
<text x="394.50" y="288.70" class="sb">3</text>
<path d="M294.7 320.6H362.8" stroke="#19148c" stroke-width="4.8" stroke-dasharray="13.2 5.2"/>
<path d="M325.2 320.6L335.0 313.3L335.0 327.9Z" fill="none" stroke="#19148c" stroke-width="4.2" stroke-linejoin="miter" stroke-miterlimit="10"/>
<text x="376" y="324.8" class="lg">P</text>
<text x="394.50" y="338.60" class="sb">4</text>
<text transform="translate(29 319.5) rotate(-90)" text-anchor="middle" class="yl">Dimensionless radial stress</text>
</svg>
</body></html>
